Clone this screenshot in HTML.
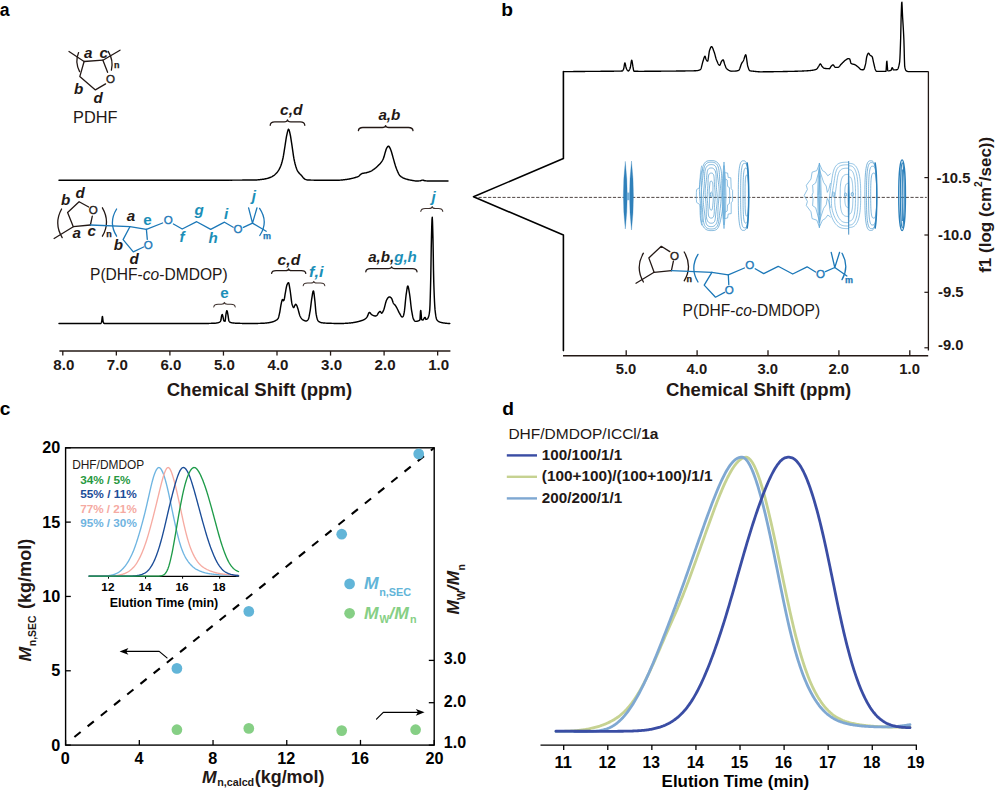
<!DOCTYPE html>
<html lang="en"><head><meta charset="utf-8"><title>Figure</title>
<style>html,body{margin:0;padding:0;background:#fff;}svg{display:block;}text{font-family:'Liberation Sans', Arial, Helvetica, sans-serif;}</style>
</head><body>
<svg width="996" height="812" viewBox="0 0 996 812">
<rect x="0" y="0" width="996" height="812" fill="#ffffff"/>
<g id="panel-a">
<text x="-0.2" y="16" font-size="19.2" font-weight="bold" font-style="normal" fill="#000000" text-anchor="start" textLength="9.8" lengthAdjust="spacingAndGlyphs" >a</text>
<path d="M69 51.5 L84.1 61.5 L102.9 60.2 L120 50.2" fill="none" stroke="#231815" stroke-width="1.3" stroke-linejoin="round" stroke-linecap="round" />
<path d="M102.9 60.2 L107.6 72.3" fill="none" stroke="#231815" stroke-width="1.3" stroke-linejoin="round" stroke-linecap="round" />
<path d="M105.6 83.9 L95.4 89.9 L79.8 76.6 L84.1 61.5" fill="none" stroke="#231815" stroke-width="1.3" stroke-linejoin="round" stroke-linecap="round" />
<text x="110.4" y="82.5" font-size="11.6" font-weight="normal" font-style="normal" fill="#231815" text-anchor="middle" stroke="#231815" stroke-width="0.35">O</text>
<path d="M78.6 52.6 Q74.6 62 79.6 71.6" fill="none" stroke="#231815" stroke-width="1.3" stroke-linejoin="round" stroke-linecap="round" />
<path d="M108.2 51.4 Q113.8 60.5 111.4 70.2" fill="none" stroke="#231815" stroke-width="1.3" stroke-linejoin="round" stroke-linecap="round" />
<text x="114" y="67.6" font-size="9" font-weight="bold" font-style="normal" fill="#231815" text-anchor="start" stroke="#231815" stroke-width="0.25">n</text>
<text x="84" y="57.5" font-size="15.2" font-weight="bold" font-style="italic" fill="#231815" text-anchor="start" >a</text>
<text x="99.6" y="57.5" font-size="15.2" font-weight="bold" font-style="italic" fill="#231815" text-anchor="start" >c</text>
<text x="74" y="94" font-size="15.2" font-weight="bold" font-style="italic" fill="#231815" text-anchor="start" >b</text>
<text x="93.6" y="103" font-size="15.2" font-weight="bold" font-style="italic" fill="#231815" text-anchor="start" >d</text>
<text x="73" y="122.6" font-size="16.2" font-weight="normal" font-style="normal" fill="#231815" text-anchor="start" textLength="44.4" lengthAdjust="spacingAndGlyphs" >PDHF</text>
<path d="M59 180.2 L59.5 180.2 L60 180.2 L60.5 180.2 L61 180.2 L61.5 180.2 L62 180.2 L62.5 180.2 L63 180.2 L63.5 180.2 L64 180.2 L64.5 180.2 L65 180.2 L65.5 180.2 L66 180.2 L66.5 180.2 L67 180.2 L67.5 180.2 L68 180.2 L68.5 180.2 L69 180.2 L69.5 180.2 L70 180.2 L70.5 180.2 L71 180.2 L71.5 180.2 L72 180.2 L72.5 180.2 L73 180.2 L73.5 180.2 L74 180.2 L74.5 180.2 L75 180.2 L75.5 180.2 L76 180.2 L76.5 180.2 L77 180.2 L77.5 180.2 L78 180.2 L78.5 180.2 L79 180.2 L79.5 180.2 L80 180.2 L80.5 180.2 L81 180.2 L81.5 180.2 L82 180.2 L82.5 180.2 L83 180.2 L83.5 180.2 L84 180.2 L84.5 180.2 L85 180.2 L85.5 180.2 L86 180.2 L86.5 180.2 L87 180.2 L87.5 180.2 L88 180.2 L88.5 180.2 L89 180.2 L89.5 180.2 L90 180.2 L90.5 180.2 L91 180.2 L91.5 180.2 L92 180.2 L92.5 180.2 L93 180.2 L93.5 180.2 L94 180.2 L94.5 180.2 L95 180.2 L95.5 180.2 L96 180.2 L96.5 180.2 L97 180.2 L97.5 180.2 L98 180.2 L98.5 180.2 L99 180.2 L99.5 180.2 L100 180.2 L100.5 180.2 L101 180.2 L101.5 180.2 L102 180.2 L102.5 180.2 L103 180.2 L103.5 180.2 L104 180.2 L104.5 180.2 L105 180.2 L105.5 180.2 L106 180.2 L106.5 180.2 L107 180.2 L107.5 180.2 L108 180.2 L108.5 180.2 L109 180.2 L109.5 180.2 L110 180.2 L110.5 180.2 L111 180.2 L111.5 180.2 L112 180.2 L112.5 180.2 L113 180.2 L113.5 180.2 L114 180.2 L114.5 180.2 L115 180.2 L115.5 180.2 L116 180.2 L116.5 180.2 L117 180.2 L117.5 180.2 L118 180.2 L118.5 180.2 L119 180.2 L119.5 180.2 L120 180.2 L120.5 180.2 L121 180.2 L121.5 180.2 L122 180.2 L122.5 180.2 L123 180.2 L123.5 180.2 L124 180.2 L124.5 180.2 L125 180.2 L125.5 180.2 L126 180.2 L126.5 180.2 L127 180.2 L127.5 180.2 L128 180.2 L128.5 180.2 L129 180.2 L129.5 180.2 L130 180.2 L130.5 180.2 L131 180.2 L131.5 180.2 L132 180.2 L132.5 180.2 L133 180.2 L133.5 180.2 L134 180.2 L134.5 180.2 L135 180.2 L135.5 180.2 L136 180.2 L136.5 180.2 L137 180.2 L137.5 180.2 L138 180.2 L138.5 180.2 L139 180.2 L139.5 180.2 L140 180.2 L140.5 180.2 L141 180.2 L141.5 180.2 L142 180.2 L142.5 180.2 L143 180.2 L143.5 180.2 L144 180.2 L144.5 180.2 L145 180.2 L145.5 180.2 L146 180.2 L146.5 180.2 L147 180.2 L147.5 180.2 L148 180.2 L148.5 180.2 L149 180.2 L149.5 180.2 L150 180.2 L150.5 180.2 L151 180.2 L151.5 180.2 L152 180.2 L152.5 180.2 L153 180.2 L153.5 180.2 L154 180.2 L154.5 180.2 L155 180.2 L155.5 180.2 L156 180.2 L156.5 180.2 L157 180.2 L157.5 180.2 L158 180.2 L158.5 180.2 L159 180.2 L159.5 180.2 L160 180.2 L160.5 180.2 L161 180.2 L161.5 180.2 L162 180.2 L162.5 180.2 L163 180.2 L163.5 180.2 L164 180.2 L164.5 180.2 L165 180.2 L165.5 180.2 L166 180.2 L166.5 180.2 L167 180.2 L167.5 180.2 L168 180.2 L168.5 180.2 L169 180.2 L169.5 180.2 L170 180.2 L170.5 180.2 L171 180.2 L171.5 180.2 L172 180.2 L172.5 180.2 L173 180.2 L173.5 180.2 L174 180.2 L174.5 180.2 L175 180.2 L175.5 180.2 L176 180.2 L176.5 180.2 L177 180.2 L177.5 180.2 L178 180.2 L178.5 180.2 L179 180.2 L179.5 180.2 L180 180.2 L180.5 180.2 L181 180.2 L181.5 180.2 L182 180.2 L182.5 180.2 L183 180.2 L183.5 180.2 L184 180.2 L184.5 180.2 L185 180.2 L185.5 180.2 L186 180.2 L186.5 180.2 L187 180.2 L187.5 180.2 L188 180.2 L188.5 180.2 L189 180.2 L189.5 180.2 L190 180.2 L190.5 180.2 L191 180.2 L191.5 180.2 L192 180.2 L192.5 180.2 L193 180.2 L193.5 180.2 L194 180.2 L194.5 180.2 L195 180.2 L195.5 180.2 L196 180.2 L196.5 180.2 L197 180.2 L197.5 180.2 L198 180.2 L198.5 180.2 L199 180.2 L199.5 180.2 L200 180.2 L200.5 180.2 L201 180.2 L201.5 180.2 L202 180.2 L202.5 180.2 L203 180.2 L203.5 180.2 L204 180.2 L204.5 180.2 L205 180.2 L205.5 180.2 L206 180.2 L206.5 180.2 L207 180.2 L207.5 180.2 L208 180.2 L208.5 180.2 L209 180.2 L209.5 180.2 L210 180.2 L210.5 180.2 L211 180.2 L211.5 180.19 L212 180.19 L212.5 180.19 L213 180.19 L213.5 180.19 L214 180.19 L214.5 180.19 L215 180.19 L215.5 180.19 L216 180.19 L216.5 180.19 L217 180.19 L217.5 180.19 L218 180.19 L218.5 180.19 L219 180.18 L219.5 180.18 L220 180.18 L220.5 180.18 L221 180.18 L221.5 180.18 L222 180.18 L222.5 180.18 L223 180.18 L223.5 180.17 L224 180.17 L224.5 180.17 L225 180.17 L225.5 180.17 L226 180.17 L226.5 180.17 L227 180.16 L227.5 180.16 L228 180.16 L228.5 180.16 L229 180.16 L229.5 180.16 L230 180.15 L230.5 180.15 L231 180.15 L231.5 180.15 L232 180.15 L232.5 180.14 L233 180.14 L233.5 180.14 L234 180.14 L234.5 180.14 L235 180.13 L235.5 180.13 L236 180.13 L236.5 180.13 L237 180.12 L237.5 180.12 L238 180.12 L238.5 180.12 L239 180.11 L239.5 180.11 L240 180.11 L240.5 180.11 L241 180.1 L241.5 180.1 L242 180.1 L242.5 180.09 L243 180.09 L243.5 180.09 L244 180.09 L244.5 180.08 L245 180.08 L245.5 180.08 L246 180.07 L246.5 180.07 L247 180.06 L247.5 180.06 L248 180.06 L248.5 180.05 L249 180.05 L249.5 180.05 L250 180.04 L250.5 180.04 L251 180.03 L251.5 180.03 L252 180.03 L252.5 180.02 L253 180.02 L253.5 180.01 L254 180.01 L254.5 180 L255 180 L255.5 179.99 L256 179.97 L256.5 179.95 L257 179.92 L257.5 179.89 L258 179.84 L258.5 179.8 L259 179.75 L259.5 179.69 L260 179.64 L260.5 179.58 L261 179.52 L261.5 179.46 L262 179.4 L262.5 179.34 L263 179.27 L263.5 179.19 L264 179.1 L264.5 179.01 L265 178.92 L265.5 178.81 L266 178.7 L266.5 178.59 L267 178.47 L267.5 178.34 L268 178.2 L268.5 178.05 L269 177.89 L269.5 177.7 L270 177.5 L270.5 177.29 L271 177.06 L271.5 176.82 L272 176.56 L272.5 176.28 L273 176 L273.5 175.69 L274 175.34 L274.5 174.95 L275 174.53 L275.5 174.08 L276 173.6 L276.5 173.08 L277 172.49 L277.5 171.85 L278 171.15 L278.5 170.39 L279 169.56 L279.5 168.65 L280 167.64 L280.5 166.5 L281 165.19 L281.5 163.69 L282 161.99 L282.5 160.09 L283 158 L283.5 155.47 L284 152.44 L284.5 149.19 L285 146 L285.5 142.71 L286 139.35 L286.5 136.47 L287 134.15 L287.5 131.9 L288 130.11 L288.5 129.23 L289 129.69 L289.5 131.36 L290 133.62 L290.5 135.98 L291 139.02 L291.5 142.36 L292 145.64 L292.5 149.15 L293 152.69 L293.5 156.04 L294 158.98 L294.5 161.39 L295 163.51 L295.5 165.37 L296 167 L296.5 168.46 L297 169.75 L297.5 170.82 L298 171.64 L298.5 172.33 L299 172.92 L299.5 173.49 L300 174.02 L300.5 174.51 L301 174.98 L301.5 175.51 L302 176.13 L302.5 176.78 L303 177.39 L303.5 177.91 L304 178.41 L304.5 178.86 L305 179.21 L305.5 179.42 L306 179.6 L306.5 179.75 L307 179.87 L307.5 179.96 L308 180 L308.5 180.02 L309 180.04 L309.5 180.05 L310 180.07 L310.5 180.08 L311 180.1 L311.5 180.11 L312 180.12 L312.5 180.13 L313 180.14 L313.5 180.15 L314 180.16 L314.5 180.16 L315 180.17 L315.5 180.18 L316 180.18 L316.5 180.19 L317 180.19 L317.5 180.19 L318 180.2 L318.5 180.2 L319 180.2 L319.5 180.2 L320 180.2 L320.5 180.2 L321 180.2 L321.5 180.2 L322 180.2 L322.5 180.2 L323 180.2 L323.5 180.2 L324 180.2 L324.5 180.2 L325 180.2 L325.5 180.2 L326 180.2 L326.5 180.2 L327 180.2 L327.5 180.2 L328 180.2 L328.5 180.2 L329 180.2 L329.5 180.2 L330 180.2 L330.5 180.2 L331 180.2 L331.5 180.2 L332 180.2 L332.5 180.2 L333 180.2 L333.5 180.2 L334 180.2 L334.5 180.2 L335 180.2 L335.5 180.2 L336 180.2 L336.5 180.2 L337 180.2 L337.5 180.2 L338 180.2 L338.5 180.2 L339 180.18 L339.5 180.16 L340 180.14 L340.5 180.1 L341 180.06 L341.5 180.02 L342 179.97 L342.5 179.92 L343 179.86 L343.5 179.8 L344 179.74 L344.5 179.68 L345 179.62 L345.5 179.56 L346 179.5 L346.5 179.44 L347 179.37 L347.5 179.29 L348 179.21 L348.5 179.12 L349 179.03 L349.5 178.93 L350 178.83 L350.5 178.73 L351 178.62 L351.5 178.51 L352 178.4 L352.5 178.29 L353 178.16 L353.5 178.04 L354 177.9 L354.5 177.76 L355 177.61 L355.5 177.46 L356 177.3 L356.5 177.14 L357 176.98 L357.5 176.8 L358 176.6 L358.5 176.35 L359 176 L359.5 175.49 L360 174.95 L360.5 174.53 L361 174.16 L361.5 173.82 L362 173.55 L362.5 173.37 L363 173.26 L363.5 173.17 L364 173.1 L364.5 173.04 L365 172.97 L365.5 172.9 L366 172.8 L366.5 172.68 L367 172.55 L367.5 172.41 L368 172.25 L368.5 172.09 L369 171.91 L369.5 171.72 L370 171.51 L370.5 171.3 L371 171.07 L371.5 170.8 L372 170.51 L372.5 170.2 L373 169.86 L373.5 169.52 L374 169.16 L374.5 168.8 L375 168.42 L375.5 168.03 L376 167.62 L376.5 167.18 L377 166.73 L377.5 166.27 L378 165.79 L378.5 165.3 L379 164.8 L379.5 164.29 L380 163.75 L380.5 163.17 L381 162.54 L381.5 161.86 L382 161.11 L382.5 160.28 L383 159.33 L383.5 158.24 L384 156.84 L384.5 155.04 L385 153.18 L385.5 151.47 L386 149.73 L386.5 148.38 L387 147.57 L387.5 146.88 L388 146.39 L388.5 146.2 L389 146.49 L389.5 147.21 L390 148.13 L390.5 149.15 L391 150.53 L391.5 152.09 L392 153.71 L392.5 155.49 L393 157.34 L393.5 159.15 L394 160.91 L394.5 162.68 L395 164.4 L395.5 166 L396 167.45 L396.5 168.82 L397 170.1 L397.5 171.28 L398 172.39 L398.5 173.47 L399 174.43 L399.5 175.18 L400 175.72 L400.5 176.18 L401 176.58 L401.5 176.94 L402 177.25 L402.5 177.54 L403 177.8 L403.5 178.05 L404 178.27 L404.5 178.48 L405 178.67 L405.5 178.85 L406 179.02 L406.5 179.17 L407 179.31 L407.5 179.45 L408 179.57 L408.5 179.69 L409 179.81 L409.5 179.91 L410 180.01 L410.5 180.11 L411 180.2 L411.5 180.29 L412 180.38 L412.5 180.48 L413 180.57 L413.5 180.66 L414 180.75 L414.5 180.83 L415 180.89 L415.5 180.94 L416 180.98 L416.5 181 L417 181 L417.5 180.99 L418 180.96 L418.5 180.93 L419 180.89 L419.5 180.85 L420 180.8 L420.5 180.7 L421 180.54 L421.5 180.36 L422 180.2 L422.5 180.11 L423 180.13 L423.5 180.28 L424 180.49 L424.5 180.69 L425 180.8 L425.5 180.84 L426 180.87 L426.5 180.9 L427 180.93 L427.5 180.95 L428 180.97 L428.5 180.98 L429 180.99 L429.5 181 L430 181 L430.5 181 L431 181 L431.5 181 L432 181 L432.5 181 L433 181 L433.5 181 L434 181 L434.5 181 L435 181 L435.5 181 L436 181 L436.5 181 L437 181 L437.5 181 L438 181 L438.5 181 L439 181 L439.5 181 L440 181 L440.5 181 L441 181 L441.5 181 L442 181 L442.5 181 L443 181 L443.5 181 L444 181 L444.5 181 L445 181 L445.5 181 L446 181 L446.5 181 L447 181 L447.5 181 L448 181" fill="none" stroke="#000000" stroke-width="1.45" stroke-linejoin="round" stroke-linecap="round" />
<text x="280" y="115.1" font-size="15.2" font-weight="bold" font-style="italic" fill="#231815" text-anchor="start" textLength="22.6" lengthAdjust="spacingAndGlyphs" >c,d</text>
<path d="M270.2 125.3 C270.4 122.69 272.22 121.89 274.7 121.89 L284.3 121.89 C286.38 121.89 287.35 121.39 287.5 119.8 C287.65 121.39 288.62 121.89 290.7 121.89 L300.3 121.89 C302.78 121.89 304.6 122.69 304.8 125.3" fill="none" stroke="#231815" stroke-width="1.3" stroke-linejoin="round" stroke-linecap="round" />
<text x="378.4" y="119.6" font-size="15.2" font-weight="bold" font-style="italic" fill="#231815" text-anchor="start" textLength="22" lengthAdjust="spacingAndGlyphs" >a,b</text>
<path d="M358.4 130.6 C358.6 128.3 360.42 127.5 362.9 127.5 L382.4 127.5 C384.48 127.5 385.45 127 385.6 125.6 C385.75 127 386.72 127.5 388.8 127.5 L408.5 127.5 C410.98 127.5 412.8 128.3 413 130.6" fill="none" stroke="#231815" stroke-width="1.3" stroke-linejoin="round" stroke-linecap="round" />
<path d="M54.1 238.5 L73.3 226.7 L90.4 225" fill="none" stroke="#231815" stroke-width="1.3" stroke-linejoin="round" stroke-linecap="round" />
<path d="M90.4 225 L92.3 216.2" fill="none" stroke="#231815" stroke-width="1.3" stroke-linejoin="round" stroke-linecap="round" />
<path d="M88.7 207 L79.1 201.7 L67.6 212.5 L73.3 226.7" fill="none" stroke="#231815" stroke-width="1.3" stroke-linejoin="round" stroke-linecap="round" />
<text x="93.3" y="213.8" font-size="11.6" font-weight="normal" font-style="normal" fill="#231815" text-anchor="middle" stroke="#231815" stroke-width="0.35">O</text>
<path d="M61.6 209 Q53.6 223.4 62.2 237.6" fill="none" stroke="#231815" stroke-width="1.3" stroke-linejoin="round" stroke-linecap="round" />
<path d="M102.4 207.8 Q110.6 222 102.4 236.2" fill="none" stroke="#231815" stroke-width="1.3" stroke-linejoin="round" stroke-linecap="round" />
<text x="106.2" y="237" font-size="9" font-weight="bold" font-style="normal" fill="#231815" text-anchor="start" stroke="#231815" stroke-width="0.25">n</text>
<text x="61" y="205" font-size="15.2" font-weight="bold" font-style="italic" fill="#231815" text-anchor="start" >b</text>
<text x="75.4" y="197.6" font-size="15.2" font-weight="bold" font-style="italic" fill="#231815" text-anchor="start" >d</text>
<text x="72.6" y="238.2" font-size="15.2" font-weight="bold" font-style="italic" fill="#231815" text-anchor="start" >a</text>
<text x="87.6" y="235.5" font-size="15.2" font-weight="bold" font-style="italic" fill="#231815" text-anchor="start" >c</text>
<path d="M90.4 225 L129.9 226.7 L146.4 229.4" fill="none" stroke="#1c78b8" stroke-width="1.3" stroke-linejoin="round" stroke-linecap="round" />
<path d="M146.4 229.4 L147.3 239.4" fill="none" stroke="#1c78b8" stroke-width="1.3" stroke-linejoin="round" stroke-linecap="round" />
<path d="M143.6 247 L133.3 251.8 L123.1 239.6 L129.9 226.7" fill="none" stroke="#1c78b8" stroke-width="1.3" stroke-linejoin="round" stroke-linecap="round" />
<text x="148.2" y="248.9" font-size="11.6" font-weight="normal" font-style="normal" fill="#1c78b8" text-anchor="middle" stroke="#1c78b8" stroke-width="0.35">O</text>
<path d="M116.6 209 Q108.2 222.6 116.6 236.2" fill="none" stroke="#1c78b8" stroke-width="1.3" stroke-linejoin="round" stroke-linecap="round" />
<path d="M146.4 229.4 L162.6 223" fill="none" stroke="#1c78b8" stroke-width="1.3" stroke-linejoin="round" stroke-linecap="round" />
<text x="168.3" y="224" font-size="11.6" font-weight="normal" font-style="normal" fill="#1c78b8" text-anchor="middle" stroke="#1c78b8" stroke-width="0.35">O</text>
<path d="M173.4 224 L182.2 229 L196.7 221.7 L210.7 229.4 L224.5 222.2 L233.2 227.2" fill="none" stroke="#1c78b8" stroke-width="1.3" stroke-linejoin="round" stroke-linecap="round" />
<text x="238" y="233" font-size="11.6" font-weight="normal" font-style="normal" fill="#1c78b8" text-anchor="middle" stroke="#1c78b8" stroke-width="0.35">O</text>
<path d="M243.4 227.4 L252.5 223.1 L266.2 231.2" fill="none" stroke="#1c78b8" stroke-width="1.3" stroke-linejoin="round" stroke-linecap="round" />
<path d="M248.6 207.8 L252.5 223.1 L257 207.8" fill="none" stroke="#1c78b8" stroke-width="1.3" stroke-linejoin="round" stroke-linecap="round" />
<path d="M259.6 208.4 Q268.8 222 259.8 235.5" fill="none" stroke="#1c78b8" stroke-width="1.3" stroke-linejoin="round" stroke-linecap="round" />
<text x="263" y="238.6" font-size="9" font-weight="bold" font-style="normal" fill="#1c78b8" text-anchor="start" stroke="#1c78b8" stroke-width="0.25">m</text>
<text x="126.8" y="220.6" font-size="15.2" font-weight="bold" font-style="italic" fill="#231815" text-anchor="start" >a</text>
<text x="143.2" y="225.4" font-size="15.2" font-weight="bold" font-style="normal" fill="#1b8fb8" text-anchor="start" >e</text>
<text x="113.8" y="249.7" font-size="15.2" font-weight="bold" font-style="italic" fill="#231815" text-anchor="start" >b</text>
<text x="129.4" y="264" font-size="15.2" font-weight="bold" font-style="italic" fill="#231815" text-anchor="start" >d</text>
<text x="194.4" y="215" font-size="15.2" font-weight="bold" font-style="italic" fill="#1b8fb8" text-anchor="start" >g</text>
<text x="224" y="218.6" font-size="15.2" font-weight="bold" font-style="italic" fill="#1b8fb8" text-anchor="start" >i</text>
<text x="179.6" y="242.3" font-size="15.2" font-weight="bold" font-style="italic" fill="#1b8fb8" text-anchor="start" >f</text>
<text x="208.4" y="243" font-size="15.2" font-weight="bold" font-style="italic" fill="#1b8fb8" text-anchor="start" >h</text>
<text x="251.8" y="200.8" font-size="15.2" font-weight="bold" font-style="italic" fill="#1b8fb8" text-anchor="start" >j</text>
<text x="90" y="279.6" font-size="15.6" fill="#231815" textLength="137.6" lengthAdjust="spacingAndGlyphs">P(DHF-<tspan font-style="italic">co</tspan>-DMDOP)</text>
<path d="M59 323.5 L59.25 323.5 L59.5 323.5 L59.75 323.5 L60 323.5 L60.25 323.5 L60.5 323.5 L60.75 323.5 L61 323.5 L61.25 323.5 L61.5 323.5 L61.75 323.5 L62 323.5 L62.25 323.5 L62.5 323.5 L62.75 323.5 L63 323.5 L63.25 323.5 L63.5 323.5 L63.75 323.5 L64 323.5 L64.25 323.5 L64.5 323.5 L64.75 323.5 L65 323.5 L65.25 323.5 L65.5 323.5 L65.75 323.5 L66 323.5 L66.25 323.5 L66.5 323.5 L66.75 323.5 L67 323.5 L67.25 323.5 L67.5 323.5 L67.75 323.5 L68 323.5 L68.25 323.5 L68.5 323.5 L68.75 323.5 L69 323.5 L69.25 323.5 L69.5 323.5 L69.75 323.5 L70 323.5 L70.25 323.5 L70.5 323.5 L70.75 323.5 L71 323.5 L71.25 323.5 L71.5 323.5 L71.75 323.5 L72 323.5 L72.25 323.5 L72.5 323.5 L72.75 323.5 L73 323.5 L73.25 323.5 L73.5 323.5 L73.75 323.5 L74 323.5 L74.25 323.5 L74.5 323.5 L74.75 323.5 L75 323.5 L75.25 323.5 L75.5 323.5 L75.75 323.5 L76 323.5 L76.25 323.5 L76.5 323.5 L76.75 323.5 L77 323.5 L77.25 323.5 L77.5 323.5 L77.75 323.5 L78 323.5 L78.25 323.5 L78.5 323.5 L78.75 323.5 L79 323.5 L79.25 323.5 L79.5 323.5 L79.75 323.5 L80 323.5 L80.25 323.5 L80.5 323.5 L80.75 323.5 L81 323.5 L81.25 323.5 L81.5 323.5 L81.75 323.5 L82 323.5 L82.25 323.5 L82.5 323.5 L82.75 323.5 L83 323.5 L83.25 323.5 L83.5 323.5 L83.75 323.5 L84 323.5 L84.25 323.5 L84.5 323.5 L84.75 323.5 L85 323.5 L85.25 323.5 L85.5 323.5 L85.75 323.5 L86 323.5 L86.25 323.5 L86.5 323.5 L86.75 323.5 L87 323.5 L87.25 323.5 L87.5 323.5 L87.75 323.5 L88 323.5 L88.25 323.5 L88.5 323.5 L88.75 323.5 L89 323.5 L89.25 323.5 L89.5 323.5 L89.75 323.5 L90 323.5 L90.25 323.5 L90.5 323.5 L90.75 323.5 L91 323.5 L91.25 323.5 L91.5 323.5 L91.75 323.5 L92 323.5 L92.25 323.5 L92.5 323.5 L92.75 323.5 L93 323.5 L93.25 323.5 L93.5 323.5 L93.75 323.5 L94 323.5 L94.25 323.5 L94.5 323.5 L94.75 323.5 L95 323.5 L95.25 323.5 L95.5 323.5 L95.75 323.5 L96 323.5 L96.25 323.5 L96.5 323.5 L96.75 323.5 L97 323.5 L97.25 323.5 L97.5 323.5 L97.75 323.5 L98 323.5 L98.25 323.5 L98.5 323.5 L98.75 323.5 L99 323.5 L99.25 323.5 L99.5 323.5 L99.75 323.5 L100 323.5 L100.25 323.5 L100.5 323.5 L100.75 323.46 L101 323.22 L101.25 322.8 L101.5 322.25 L101.75 321.23 L102 318.95 L102.25 316.86 L102.5 316.61 L102.75 318.46 L103 320.84 L103.25 322.13 L103.5 322.7 L103.75 323.14 L104 323.42 L104.25 323.5 L104.5 323.5 L104.75 323.5 L105 323.5 L105.25 323.5 L105.5 323.5 L105.75 323.5 L106 323.5 L106.25 323.5 L106.5 323.5 L106.75 323.5 L107 323.5 L107.25 323.5 L107.5 323.5 L107.75 323.5 L108 323.5 L108.25 323.5 L108.5 323.5 L108.75 323.5 L109 323.5 L109.25 323.5 L109.5 323.5 L109.75 323.5 L110 323.5 L110.25 323.5 L110.5 323.5 L110.75 323.5 L111 323.5 L111.25 323.5 L111.5 323.5 L111.75 323.5 L112 323.5 L112.25 323.5 L112.5 323.5 L112.75 323.5 L113 323.5 L113.25 323.5 L113.5 323.5 L113.75 323.5 L114 323.5 L114.25 323.5 L114.5 323.5 L114.75 323.5 L115 323.5 L115.25 323.5 L115.5 323.5 L115.75 323.5 L116 323.5 L116.25 323.5 L116.5 323.5 L116.75 323.5 L117 323.5 L117.25 323.5 L117.5 323.5 L117.75 323.5 L118 323.5 L118.25 323.5 L118.5 323.5 L118.75 323.5 L119 323.5 L119.25 323.5 L119.5 323.5 L119.75 323.5 L120 323.5 L120.25 323.5 L120.5 323.5 L120.75 323.5 L121 323.5 L121.25 323.5 L121.5 323.5 L121.75 323.5 L122 323.5 L122.25 323.5 L122.5 323.5 L122.75 323.5 L123 323.5 L123.25 323.5 L123.5 323.5 L123.75 323.5 L124 323.5 L124.25 323.5 L124.5 323.5 L124.75 323.5 L125 323.5 L125.25 323.5 L125.5 323.5 L125.75 323.5 L126 323.5 L126.25 323.5 L126.5 323.5 L126.75 323.5 L127 323.5 L127.25 323.5 L127.5 323.5 L127.75 323.5 L128 323.5 L128.25 323.5 L128.5 323.5 L128.75 323.5 L129 323.5 L129.25 323.5 L129.5 323.5 L129.75 323.5 L130 323.5 L130.25 323.5 L130.5 323.5 L130.75 323.5 L131 323.5 L131.25 323.5 L131.5 323.5 L131.75 323.5 L132 323.5 L132.25 323.5 L132.5 323.5 L132.75 323.5 L133 323.5 L133.25 323.5 L133.5 323.5 L133.75 323.5 L134 323.5 L134.25 323.5 L134.5 323.5 L134.75 323.5 L135 323.5 L135.25 323.5 L135.5 323.5 L135.75 323.5 L136 323.5 L136.25 323.5 L136.5 323.5 L136.75 323.5 L137 323.5 L137.25 323.5 L137.5 323.5 L137.75 323.5 L138 323.5 L138.25 323.5 L138.5 323.5 L138.75 323.5 L139 323.5 L139.25 323.5 L139.5 323.5 L139.75 323.5 L140 323.5 L140.25 323.5 L140.5 323.5 L140.75 323.5 L141 323.5 L141.25 323.5 L141.5 323.5 L141.75 323.5 L142 323.5 L142.25 323.5 L142.5 323.5 L142.75 323.5 L143 323.5 L143.25 323.5 L143.5 323.5 L143.75 323.5 L144 323.5 L144.25 323.5 L144.5 323.5 L144.75 323.5 L145 323.5 L145.25 323.5 L145.5 323.5 L145.75 323.5 L146 323.5 L146.25 323.5 L146.5 323.5 L146.75 323.5 L147 323.5 L147.25 323.5 L147.5 323.5 L147.75 323.5 L148 323.5 L148.25 323.5 L148.5 323.5 L148.75 323.5 L149 323.5 L149.25 323.5 L149.5 323.5 L149.75 323.5 L150 323.5 L150.25 323.5 L150.5 323.5 L150.75 323.5 L151 323.5 L151.25 323.5 L151.5 323.5 L151.75 323.5 L152 323.5 L152.25 323.5 L152.5 323.5 L152.75 323.5 L153 323.5 L153.25 323.5 L153.5 323.5 L153.75 323.5 L154 323.5 L154.25 323.5 L154.5 323.5 L154.75 323.5 L155 323.5 L155.25 323.5 L155.5 323.5 L155.75 323.5 L156 323.5 L156.25 323.5 L156.5 323.5 L156.75 323.5 L157 323.5 L157.25 323.5 L157.5 323.5 L157.75 323.5 L158 323.5 L158.25 323.5 L158.5 323.5 L158.75 323.5 L159 323.5 L159.25 323.5 L159.5 323.5 L159.75 323.5 L160 323.5 L160.25 323.5 L160.5 323.5 L160.75 323.5 L161 323.5 L161.25 323.5 L161.5 323.5 L161.75 323.5 L162 323.5 L162.25 323.5 L162.5 323.5 L162.75 323.5 L163 323.5 L163.25 323.5 L163.5 323.5 L163.75 323.5 L164 323.5 L164.25 323.5 L164.5 323.5 L164.75 323.5 L165 323.5 L165.25 323.5 L165.5 323.5 L165.75 323.5 L166 323.5 L166.25 323.5 L166.5 323.5 L166.75 323.5 L167 323.5 L167.25 323.5 L167.5 323.5 L167.75 323.5 L168 323.5 L168.25 323.5 L168.5 323.5 L168.75 323.5 L169 323.5 L169.25 323.5 L169.5 323.5 L169.75 323.5 L170 323.5 L170.25 323.5 L170.5 323.5 L170.75 323.5 L171 323.5 L171.25 323.5 L171.5 323.5 L171.75 323.5 L172 323.5 L172.25 323.5 L172.5 323.5 L172.75 323.5 L173 323.5 L173.25 323.5 L173.5 323.5 L173.75 323.5 L174 323.5 L174.25 323.5 L174.5 323.5 L174.75 323.5 L175 323.5 L175.25 323.5 L175.5 323.5 L175.75 323.5 L176 323.5 L176.25 323.5 L176.5 323.5 L176.75 323.5 L177 323.5 L177.25 323.5 L177.5 323.5 L177.75 323.5 L178 323.5 L178.25 323.5 L178.5 323.5 L178.75 323.5 L179 323.5 L179.25 323.5 L179.5 323.5 L179.75 323.5 L180 323.5 L180.25 323.5 L180.5 323.5 L180.75 323.5 L181 323.5 L181.25 323.5 L181.5 323.5 L181.75 323.5 L182 323.5 L182.25 323.5 L182.5 323.5 L182.75 323.5 L183 323.5 L183.25 323.5 L183.5 323.5 L183.75 323.5 L184 323.5 L184.25 323.5 L184.5 323.5 L184.75 323.5 L185 323.5 L185.25 323.5 L185.5 323.5 L185.75 323.5 L186 323.5 L186.25 323.5 L186.5 323.5 L186.75 323.5 L187 323.5 L187.25 323.5 L187.5 323.5 L187.75 323.5 L188 323.5 L188.25 323.5 L188.5 323.5 L188.75 323.5 L189 323.5 L189.25 323.5 L189.5 323.5 L189.75 323.5 L190 323.5 L190.25 323.5 L190.5 323.5 L190.75 323.5 L191 323.5 L191.25 323.5 L191.5 323.5 L191.75 323.5 L192 323.5 L192.25 323.5 L192.5 323.5 L192.75 323.5 L193 323.5 L193.25 323.5 L193.5 323.5 L193.75 323.5 L194 323.5 L194.25 323.5 L194.5 323.5 L194.75 323.5 L195 323.5 L195.25 323.5 L195.5 323.5 L195.75 323.5 L196 323.5 L196.25 323.5 L196.5 323.5 L196.75 323.5 L197 323.5 L197.25 323.5 L197.5 323.5 L197.75 323.5 L198 323.5 L198.25 323.5 L198.5 323.5 L198.75 323.5 L199 323.5 L199.25 323.5 L199.5 323.5 L199.75 323.5 L200 323.5 L200.25 323.5 L200.5 323.5 L200.75 323.5 L201 323.5 L201.25 323.5 L201.5 323.5 L201.75 323.5 L202 323.5 L202.25 323.49 L202.5 323.49 L202.75 323.49 L203 323.49 L203.25 323.49 L203.5 323.49 L203.75 323.48 L204 323.48 L204.25 323.48 L204.5 323.48 L204.75 323.47 L205 323.47 L205.25 323.47 L205.5 323.46 L205.75 323.46 L206 323.46 L206.25 323.45 L206.5 323.45 L206.75 323.44 L207 323.44 L207.25 323.44 L207.5 323.43 L207.75 323.43 L208 323.42 L208.25 323.42 L208.5 323.41 L208.75 323.4 L209 323.4 L209.25 323.39 L209.5 323.39 L209.75 323.38 L210 323.37 L210.25 323.37 L210.5 323.36 L210.75 323.35 L211 323.35 L211.25 323.34 L211.5 323.33 L211.75 323.32 L212 323.31 L212.25 323.31 L212.5 323.3 L212.75 323.29 L213 323.28 L213.25 323.27 L213.5 323.26 L213.75 323.25 L214 323.24 L214.25 323.23 L214.5 323.22 L214.75 323.21 L215 323.2 L215.25 323.19 L215.5 323.17 L215.75 323.15 L216 323.12 L216.25 323.09 L216.5 323.05 L216.75 323.01 L217 322.96 L217.25 322.91 L217.5 322.85 L217.75 322.79 L218 322.72 L218.25 322.65 L218.5 322.57 L218.75 322.49 L219 322.4 L219.25 322.29 L219.5 322.15 L219.75 321.97 L220 321.74 L220.25 321.46 L220.5 321.11 L220.75 320.69 L221 319.8 L221.25 318.11 L221.5 316.45 L221.75 315.45 L222 314.66 L222.25 314.42 L222.5 314.98 L222.75 315.94 L223 316.88 L223.25 318.11 L223.5 319.42 L223.75 320.5 L224 321 L224.25 321.08 L224.5 321.15 L224.75 321.19 L225 321.2 L225.25 320.31 L225.5 318.22 L225.75 315.82 L226 314 L226.25 312.72 L226.5 311.53 L226.75 310.75 L227 310.67 L227.25 311.37 L227.5 312.51 L227.75 313.77 L228 315.11 L228.25 316.85 L228.5 318.66 L228.75 320.17 L229 321 L229.25 321.35 L229.5 321.65 L229.75 321.91 L230 322.12 L230.25 322.29 L230.5 322.43 L230.75 322.53 L231 322.6 L231.25 322.66 L231.5 322.71 L231.75 322.76 L232 322.81 L232.25 322.85 L232.5 322.89 L232.75 322.93 L233 322.96 L233.25 322.99 L233.5 323.02 L233.75 323.05 L234 323.07 L234.25 323.09 L234.5 323.11 L234.75 323.13 L235 323.15 L235.25 323.16 L235.5 323.18 L235.75 323.19 L236 323.2 L236.25 323.21 L236.5 323.22 L236.75 323.23 L237 323.24 L237.25 323.25 L237.5 323.26 L237.75 323.27 L238 323.28 L238.25 323.29 L238.5 323.29 L238.75 323.3 L239 323.31 L239.25 323.32 L239.5 323.33 L239.75 323.34 L240 323.34 L240.25 323.35 L240.5 323.36 L240.75 323.36 L241 323.37 L241.25 323.38 L241.5 323.39 L241.75 323.39 L242 323.4 L242.25 323.4 L242.5 323.41 L242.75 323.42 L243 323.42 L243.25 323.43 L243.5 323.43 L243.75 323.44 L244 323.44 L244.25 323.45 L244.5 323.45 L244.75 323.46 L245 323.46 L245.25 323.46 L245.5 323.47 L245.75 323.47 L246 323.47 L246.25 323.48 L246.5 323.48 L246.75 323.48 L247 323.49 L247.25 323.49 L247.5 323.49 L247.75 323.49 L248 323.49 L248.25 323.49 L248.5 323.5 L248.75 323.5 L249 323.5 L249.25 323.5 L249.5 323.5 L249.75 323.5 L250 323.5 L250.25 323.5 L250.5 323.5 L250.75 323.5 L251 323.5 L251.25 323.5 L251.5 323.5 L251.75 323.5 L252 323.49 L252.25 323.49 L252.5 323.49 L252.75 323.49 L253 323.49 L253.25 323.48 L253.5 323.48 L253.75 323.48 L254 323.47 L254.25 323.47 L254.5 323.47 L254.75 323.46 L255 323.46 L255.25 323.46 L255.5 323.45 L255.75 323.45 L256 323.44 L256.25 323.44 L256.5 323.44 L256.75 323.43 L257 323.43 L257.25 323.42 L257.5 323.42 L257.75 323.41 L258 323.41 L258.25 323.4 L258.5 323.39 L258.75 323.39 L259 323.38 L259.25 323.38 L259.5 323.37 L259.75 323.36 L260 323.36 L260.25 323.35 L260.5 323.34 L260.75 323.34 L261 323.33 L261.25 323.32 L261.5 323.31 L261.75 323.31 L262 323.3 L262.25 323.29 L262.5 323.28 L262.75 323.27 L263 323.26 L263.25 323.25 L263.5 323.23 L263.75 323.21 L264 323.2 L264.25 323.18 L264.5 323.16 L264.75 323.14 L265 323.12 L265.25 323.1 L265.5 323.07 L265.75 323.05 L266 323.02 L266.25 323 L266.5 322.97 L266.75 322.94 L267 322.92 L267.25 322.89 L267.5 322.86 L267.75 322.83 L268 322.8 L268.25 322.77 L268.5 322.73 L268.75 322.7 L269 322.66 L269.25 322.62 L269.5 322.57 L269.75 322.52 L270 322.47 L270.25 322.42 L270.5 322.37 L270.75 322.31 L271 322.25 L271.25 322.19 L271.5 322.13 L271.75 322.07 L272 322 L272.25 321.93 L272.5 321.86 L272.75 321.78 L273 321.7 L273.25 321.61 L273.5 321.52 L273.75 321.42 L274 321.32 L274.25 321.22 L274.5 321.1 L274.75 320.99 L275 320.86 L275.25 320.74 L275.5 320.6 L275.75 320.46 L276 320.32 L276.25 320.17 L276.5 320.01 L276.75 319.83 L277 319.63 L277.25 319.41 L277.5 319.15 L277.75 318.87 L278 318.54 L278.25 318.13 L278.5 317.49 L278.75 316.64 L279 315.65 L279.25 314.57 L279.5 313.45 L279.75 312.27 L280 310.85 L280.25 309.27 L280.5 307.65 L280.75 306.11 L281 304.76 L281.25 303.63 L281.5 302.47 L281.75 301.36 L282 300.41 L282.25 299.75 L282.5 299.5 L282.75 299.7 L283 300.15 L283.25 300.6 L283.5 300.8 L283.75 300.58 L284 300.04 L284.25 299.34 L284.5 298.14 L284.75 296.52 L285 294.87 L285.25 293.48 L285.5 292.06 L285.75 290.61 L286 289.18 L286.25 287.84 L286.5 286.63 L286.75 285.61 L287 284.83 L287.25 284.29 L287.5 283.8 L287.75 283.37 L288 283.02 L288.25 282.78 L288.5 282.7 L288.75 283.01 L289 283.86 L289.25 285.09 L289.5 286.58 L289.75 288.17 L290 289.72 L290.25 291.21 L290.5 292.99 L290.75 294.99 L291 297.09 L291.25 299.15 L291.5 301.07 L291.75 302.7 L292 303.94 L292.25 304.77 L292.5 305.52 L292.75 306.21 L293 306.8 L293.25 307.25 L293.5 307.53 L293.75 307.59 L294 307.27 L294.25 306.67 L294.5 306.01 L294.75 305.52 L295 305.09 L295.25 304.68 L295.5 304.38 L295.75 304.3 L296 304.44 L296.25 304.72 L296.5 305.09 L296.75 305.48 L297 306.02 L297.25 306.71 L297.5 307.47 L297.75 308.25 L298 309.03 L298.25 309.9 L298.5 310.83 L298.75 311.79 L299 312.75 L299.25 313.68 L299.5 314.55 L299.75 315.33 L300 315.99 L300.25 316.49 L300.5 316.92 L300.75 317.33 L301 317.72 L301.25 318.09 L301.5 318.43 L301.75 318.74 L302 319.02 L302.25 319.28 L302.5 319.51 L302.75 319.71 L303 319.89 L303.25 320.03 L303.5 320.15 L303.75 320.28 L304 320.4 L304.25 320.51 L304.5 320.62 L304.75 320.71 L305 320.8 L305.25 320.87 L305.5 320.93 L305.75 320.97 L306 320.99 L306.25 321 L306.5 320.95 L306.75 320.85 L307 320.7 L307.25 320.5 L307.5 320.25 L307.75 319.97 L308 319.66 L308.25 319.33 L308.5 318.78 L308.75 317.96 L309 316.93 L309.25 315.73 L309.5 314.4 L309.75 312.99 L310 311.55 L310.25 310.11 L310.5 308.42 L310.75 306.46 L311 304.37 L311.25 302.27 L311.5 300.3 L311.75 298.6 L312 297.09 L312.25 295.51 L312.5 293.97 L312.75 292.6 L313 291.54 L313.25 290.91 L313.5 290.88 L313.75 291.75 L314 293.35 L314.25 295.41 L314.5 297.68 L314.75 299.89 L315 302.15 L315.25 304.91 L315.5 307.87 L315.75 310.7 L316 313.06 L316.25 314.65 L316.5 315.88 L316.75 317.01 L317 318.03 L317.25 318.93 L317.5 319.7 L317.75 320.32 L318 320.77 L318.25 321.04 L318.5 321.25 L318.75 321.44 L319 321.61 L319.25 321.78 L319.5 321.92 L319.75 322.06 L320 322.18 L320.25 322.29 L320.5 322.39 L320.75 322.48 L321 322.56 L321.25 322.63 L321.5 322.68 L321.75 322.73 L322 322.77 L322.25 322.81 L322.5 322.84 L322.75 322.86 L323 322.89 L323.25 322.92 L323.5 322.94 L323.75 322.97 L324 322.99 L324.25 323.01 L324.5 323.03 L324.75 323.05 L325 323.07 L325.25 323.09 L325.5 323.1 L325.75 323.12 L326 323.13 L326.25 323.15 L326.5 323.16 L326.75 323.17 L327 323.19 L327.25 323.2 L327.5 323.21 L327.75 323.22 L328 323.23 L328.25 323.24 L328.5 323.25 L328.75 323.26 L329 323.27 L329.25 323.28 L329.5 323.28 L329.75 323.29 L330 323.3 L330.25 323.31 L330.5 323.32 L330.75 323.32 L331 323.33 L331.25 323.34 L331.5 323.34 L331.75 323.35 L332 323.36 L332.25 323.37 L332.5 323.37 L332.75 323.38 L333 323.39 L333.25 323.39 L333.5 323.4 L333.75 323.41 L334 323.41 L334.25 323.42 L334.5 323.42 L334.75 323.43 L335 323.44 L335.25 323.44 L335.5 323.45 L335.75 323.45 L336 323.46 L336.25 323.46 L336.5 323.47 L336.75 323.47 L337 323.47 L337.25 323.48 L337.5 323.48 L337.75 323.48 L338 323.49 L338.25 323.49 L338.5 323.49 L338.75 323.49 L339 323.5 L339.25 323.5 L339.5 323.5 L339.75 323.5 L340 323.5 L340.25 323.5 L340.5 323.5 L340.75 323.5 L341 323.5 L341.25 323.49 L341.5 323.49 L341.75 323.48 L342 323.48 L342.25 323.47 L342.5 323.47 L342.75 323.46 L343 323.45 L343.25 323.44 L343.5 323.43 L343.75 323.42 L344 323.41 L344.25 323.4 L344.5 323.38 L344.75 323.37 L345 323.36 L345.25 323.34 L345.5 323.33 L345.75 323.31 L346 323.3 L346.25 323.28 L346.5 323.26 L346.75 323.25 L347 323.23 L347.25 323.21 L347.5 323.19 L347.75 323.17 L348 323.16 L348.25 323.14 L348.5 323.12 L348.75 323.1 L349 323.08 L349.25 323.06 L349.5 323.04 L349.75 323.02 L350 323 L350.25 322.98 L350.5 322.96 L350.75 322.93 L351 322.9 L351.25 322.87 L351.5 322.84 L351.75 322.81 L352 322.78 L352.25 322.74 L352.5 322.7 L352.75 322.67 L353 322.63 L353.25 322.59 L353.5 322.54 L353.75 322.5 L354 322.46 L354.25 322.41 L354.5 322.37 L354.75 322.32 L355 322.27 L355.25 322.22 L355.5 322.18 L355.75 322.13 L356 322.08 L356.25 322.03 L356.5 321.98 L356.75 321.93 L357 321.88 L357.25 321.82 L357.5 321.77 L357.75 321.71 L358 321.65 L358.25 321.59 L358.5 321.52 L358.75 321.46 L359 321.39 L359.25 321.32 L359.5 321.25 L359.75 321.18 L360 321.11 L360.25 321.03 L360.5 320.96 L360.75 320.88 L361 320.8 L361.25 320.72 L361.5 320.64 L361.75 320.55 L362 320.47 L362.25 320.38 L362.5 320.29 L362.75 320.19 L363 320.09 L363.25 319.99 L363.5 319.87 L363.75 319.75 L364 319.62 L364.25 319.49 L364.5 319.34 L364.75 319.18 L365 319.01 L365.25 318.82 L365.5 318.61 L365.75 318.39 L366 318.15 L366.25 317.89 L366.5 317.61 L366.75 317.3 L367 316.98 L367.25 316.62 L367.5 316.23 L367.75 315.63 L368 314.92 L368.25 314.19 L368.5 313.58 L368.75 313.15 L369 312.74 L369.25 312.46 L369.5 312.41 L369.75 312.55 L370 312.78 L370.25 313.05 L370.5 313.31 L370.75 313.63 L371 313.98 L371.25 314.27 L371.5 314.47 L371.75 314.63 L372 314.78 L372.25 314.93 L372.5 315.07 L372.75 315.21 L373 315.33 L373.25 315.45 L373.5 315.56 L373.75 315.66 L374 315.74 L374.25 315.82 L374.5 315.88 L374.75 315.93 L375 315.97 L375.25 315.99 L375.5 316 L375.75 315.97 L376 315.88 L376.25 315.75 L376.5 315.59 L376.75 315.4 L377 315.2 L377.25 314.92 L377.5 314.53 L377.75 314.06 L378 313.59 L378.25 313.15 L378.5 312.8 L378.75 312.51 L379 312.21 L379.25 311.93 L379.5 311.68 L379.75 311.5 L380 311.41 L380.25 311.45 L380.5 311.7 L380.75 312.05 L381 312.4 L381.25 312.8 L381.5 313.16 L381.75 313.17 L382 313.01 L382.25 312.73 L382.5 312.36 L382.75 311.91 L383 311.42 L383.25 310.91 L383.5 310.4 L383.75 309.82 L384 309.11 L384.25 308.28 L384.5 307.36 L384.75 306.39 L385 305.39 L385.25 304.38 L385.5 303.4 L385.75 302.48 L386 301.64 L386.25 300.9 L386.5 300.3 L386.75 299.79 L387 299.3 L387.25 298.84 L387.5 298.43 L387.75 298.08 L388 297.78 L388.25 297.56 L388.5 297.37 L388.75 297.19 L389 297.04 L389.25 296.94 L389.5 296.9 L389.75 296.93 L390 297.02 L390.25 297.15 L390.5 297.33 L390.75 297.54 L391 297.77 L391.25 298.03 L391.5 298.3 L391.75 298.68 L392 299.25 L392.25 299.93 L392.5 300.69 L392.75 301.46 L393 302.19 L393.25 302.82 L393.5 303.3 L393.75 303.65 L394 303.94 L394.25 304.19 L394.5 304.44 L394.75 304.7 L395 305 L395.25 305.34 L395.5 305.7 L395.75 306.08 L396 306.47 L396.25 306.88 L396.5 307.3 L396.75 307.74 L397 308.21 L397.25 308.71 L397.5 309.22 L397.75 309.75 L398 310.28 L398.25 310.81 L398.5 311.33 L398.75 311.84 L399 312.33 L399.25 312.8 L399.5 313.24 L399.75 313.65 L400 314.09 L400.25 314.55 L400.5 315.02 L400.75 315.47 L401 315.89 L401.25 316.27 L401.5 316.58 L401.75 316.82 L402 316.96 L402.25 317 L402.5 316.91 L402.75 316.72 L403 316.45 L403.25 316.12 L403.5 315.51 L403.75 314.57 L404 313.41 L404.25 312.13 L404.5 310.44 L404.75 308.28 L405 305.81 L405.25 303.17 L405.5 300.52 L405.75 298 L406 295.77 L406.25 293.97 L406.5 292.24 L406.75 290.49 L407 288.84 L407.25 287.46 L407.5 286.47 L407.75 286.01 L408 286.17 L408.25 286.8 L408.5 287.82 L408.75 289.11 L409 290.59 L409.25 292.16 L409.5 293.71 L409.75 295.25 L410 297.1 L410.25 299.2 L410.5 301.45 L410.75 303.74 L411 305.96 L411.25 308.01 L411.5 309.79 L411.75 311.27 L412 312.71 L412.25 314.11 L412.5 315.43 L412.75 316.64 L413 317.7 L413.25 318.57 L413.5 319.21 L413.75 319.64 L414 320.03 L414.25 320.38 L414.5 320.7 L414.75 320.96 L415 321.17 L415.25 321.32 L415.5 321.39 L415.75 321.4 L416 321.39 L416.25 321.37 L416.5 321.34 L416.75 321.3 L417 321.25 L417.25 321.19 L417.5 321.13 L417.75 321.06 L418 320.98 L418.25 320.9 L418.5 320.8 L418.75 320.7 L419 320.6 L419.25 320.49 L419.5 320.32 L419.75 320.04 L420 319.6 L420.25 314.8 L420.5 311.22 L420.75 310.46 L421 312.11 L421.25 315.04 L421.5 319.01 L421.75 319.69 L422 319.81 L422.25 319.9 L422.5 319.96 L422.75 319.99 L423 320 L423.25 319.84 L423.5 319.46 L423.75 318.95 L424 318.44 L424.25 318.05 L424.5 317.8 L424.75 317.56 L425 317.42 L425.25 317.58 L425.5 318.4 L425.75 319.22 L426 319.4 L426.25 319.36 L426.5 319.3 L426.75 319.21 L427 319.1 L427.25 318.97 L427.5 318.74 L427.75 318.38 L428 317.92 L428.25 317.36 L428.5 316.74 L428.75 315.97 L429 314.98 L429.25 313.7 L429.5 312.04 L429.75 309.87 L430 305.1 L430.25 297.53 L430.5 288.21 L430.75 278 L431 263.25 L431.25 247.28 L431.5 236.08 L431.75 226.48 L432 219.32 L432.25 217.34 L432.5 221.72 L432.75 230.18 L433 240 L433.25 253.72 L433.5 270.25 L433.75 281.64 L434 289.27 L434.25 295.92 L434.5 301.53 L434.75 306.04 L435 309.4 L435.25 311.72 L435.5 313.72 L435.75 315.47 L436 316.94 L436.25 318.11 L436.5 318.96 L436.75 319.48 L437 319.86 L437.25 320.19 L437.5 320.49 L437.75 320.76 L438 321 L438.25 321.21 L438.5 321.39 L438.75 321.55 L439 321.69 L439.25 321.81 L439.5 321.92 L439.75 322.02 L440 322.11 L440.25 322.2 L440.5 322.28 L440.75 322.35 L441 322.42 L441.25 322.49 L441.5 322.55 L441.75 322.61 L442 322.67 L442.25 322.72 L442.5 322.77 L442.75 322.81 L443 322.85 L443.25 322.89 L443.5 322.93 L443.75 322.97 L444 323 L444.25 323.03 L444.5 323.06 L444.75 323.1 L445 323.13 L445.25 323.16 L445.5 323.19 L445.75 323.22 L446 323.25 L446.25 323.27 L446.5 323.3 L446.75 323.33 L447 323.35 L447.25 323.37 L447.5 323.4 L447.75 323.42 L448 323.43 L448.25 323.45 L448.5 323.46 L448.75 323.48 L449 323.49 L449.25 323.49 L449.5 323.5 L449.75 323.5 L449.8 323.5" fill="none" stroke="#000000" stroke-width="1.45" stroke-linejoin="round" stroke-linecap="round" />
<text x="220.2" y="297.5" font-size="15.2" font-weight="bold" font-style="normal" fill="#1b8fb8" text-anchor="start" >e</text>
<path d="M213.8 307 C214 304.95 215.73 304.15 218.08 304.15 L221.34 304.15 C223.33 304.15 224.25 303.65 224.4 302.4 C224.55 303.65 225.47 304.15 227.46 304.15 L230.92 304.15 C233.27 304.15 235 304.95 235.2 307" fill="none" stroke="#3e312d" stroke-width="1.05" stroke-linejoin="round" stroke-linecap="round" />
<text x="277.6" y="264.6" font-size="15.2" font-weight="bold" font-style="italic" fill="#231815" text-anchor="start" textLength="22.6" lengthAdjust="spacingAndGlyphs" >c,d</text>
<path d="M271.6 273.4 C271.8 271.35 273.62 270.55 276.1 270.55 L285.4 270.55 C287.48 270.55 288.45 270.05 288.6 268.8 C288.75 270.05 289.72 270.55 291.8 270.55 L301.3 270.55 C303.78 270.55 305.6 271.35 305.8 273.4" fill="none" stroke="#231815" stroke-width="1.3" stroke-linejoin="round" stroke-linecap="round" />
<text x="309" y="277.2" font-size="15.2" font-weight="bold" font-style="italic" fill="#1b8fb8" text-anchor="start" textLength="14.4" lengthAdjust="spacingAndGlyphs" >f,i</text>
<path d="M303.2 285.8 C303.4 283.87 305.14 283.07 307.52 283.07 L310.71 283.07 C312.72 283.07 313.65 282.57 313.8 281.4 C313.95 282.57 314.88 283.07 316.89 283.07 L320.48 283.07 C322.86 283.07 324.6 283.87 324.8 285.8" fill="none" stroke="#3e312d" stroke-width="1.05" stroke-linejoin="round" stroke-linecap="round" />
<text x="368.2" y="261.8" font-size="15.2" font-weight="bold" font-style="italic" fill="#231815" textLength="48.6" lengthAdjust="spacingAndGlyphs">a,b,<tspan fill="#1b8fb8">g,h</tspan></text>
<path d="M365.8 271.8 C366 269.5 367.82 268.7 370.3 268.7 L388.4 268.7 C390.48 268.7 391.45 268.2 391.6 266.8 C391.75 268.2 392.72 268.7 394.8 268.7 L412.5 268.7 C414.98 268.7 416.8 269.5 417 271.8" fill="none" stroke="#231815" stroke-width="1.3" stroke-linejoin="round" stroke-linecap="round" />
<text x="431.4" y="202.2" font-size="15.2" font-weight="bold" font-style="italic" fill="#1b8fb8" text-anchor="start" >j</text>
<path d="M420.8 211.4 C421 209.22 422.78 208.42 425.2 208.42 L429.06 208.42 C431.1 208.42 432.05 207.92 432.2 206.6 C432.35 207.92 433.3 208.42 435.34 208.42 L438.4 208.42 C440.82 208.42 442.6 209.22 442.8 211.4" fill="none" stroke="#3e312d" stroke-width="1.05" stroke-linejoin="round" stroke-linecap="round" />
<line x1="59.4" y1="351" x2="450.4" y2="351" stroke="#231815" stroke-width="1.4" stroke-linecap="butt"/>
<line x1="62.8" y1="351" x2="62.8" y2="355.6" stroke="#231815" stroke-width="1.3" stroke-linecap="butt"/>
<text x="63.8" y="370.4" font-size="15.2" font-weight="bold" font-style="normal" fill="#231815" text-anchor="middle" textLength="21" lengthAdjust="spacingAndGlyphs" >8.0</text>
<line x1="116.35" y1="351" x2="116.35" y2="355.6" stroke="#231815" stroke-width="1.3" stroke-linecap="butt"/>
<text x="117.35" y="370.4" font-size="15.2" font-weight="bold" font-style="normal" fill="#231815" text-anchor="middle" textLength="21" lengthAdjust="spacingAndGlyphs" >7.0</text>
<line x1="169.9" y1="351" x2="169.9" y2="355.6" stroke="#231815" stroke-width="1.3" stroke-linecap="butt"/>
<text x="170.9" y="370.4" font-size="15.2" font-weight="bold" font-style="normal" fill="#231815" text-anchor="middle" textLength="21" lengthAdjust="spacingAndGlyphs" >6.0</text>
<line x1="223.45" y1="351" x2="223.45" y2="355.6" stroke="#231815" stroke-width="1.3" stroke-linecap="butt"/>
<text x="224.45" y="370.4" font-size="15.2" font-weight="bold" font-style="normal" fill="#231815" text-anchor="middle" textLength="21" lengthAdjust="spacingAndGlyphs" >5.0</text>
<line x1="277" y1="351" x2="277" y2="355.6" stroke="#231815" stroke-width="1.3" stroke-linecap="butt"/>
<text x="278" y="370.4" font-size="15.2" font-weight="bold" font-style="normal" fill="#231815" text-anchor="middle" textLength="21" lengthAdjust="spacingAndGlyphs" >4.0</text>
<line x1="330.55" y1="351" x2="330.55" y2="355.6" stroke="#231815" stroke-width="1.3" stroke-linecap="butt"/>
<text x="331.55" y="370.4" font-size="15.2" font-weight="bold" font-style="normal" fill="#231815" text-anchor="middle" textLength="21" lengthAdjust="spacingAndGlyphs" >3.0</text>
<line x1="384.1" y1="351" x2="384.1" y2="355.6" stroke="#231815" stroke-width="1.3" stroke-linecap="butt"/>
<text x="385.1" y="370.4" font-size="15.2" font-weight="bold" font-style="normal" fill="#231815" text-anchor="middle" textLength="21" lengthAdjust="spacingAndGlyphs" >2.0</text>
<line x1="437.65" y1="351" x2="437.65" y2="355.6" stroke="#231815" stroke-width="1.3" stroke-linecap="butt"/>
<text x="438.65" y="370.4" font-size="15.2" font-weight="bold" font-style="normal" fill="#231815" text-anchor="middle" textLength="21" lengthAdjust="spacingAndGlyphs" >1.0</text>
<text x="259.4" y="395.6" font-size="18.5" font-weight="bold" font-style="normal" fill="#231815" text-anchor="middle" textLength="185.4" lengthAdjust="spacingAndGlyphs" >Chemical Shift (ppm)</text>
</g>
<g id="panel-b">
<text x="501.2" y="16" font-size="19.2" font-weight="bold" font-style="normal" fill="#000000" text-anchor="start" >b</text>
<path d="M564.4 71.6 L564.65 71.6 L564.9 71.6 L565.15 71.6 L565.4 71.59 L565.65 71.59 L565.9 71.59 L566.15 71.59 L566.4 71.59 L566.65 71.59 L566.9 71.59 L567.15 71.58 L567.4 71.58 L567.65 71.58 L567.9 71.58 L568.15 71.58 L568.4 71.58 L568.65 71.58 L568.9 71.57 L569.15 71.57 L569.4 71.57 L569.65 71.57 L569.9 71.57 L570.15 71.57 L570.4 71.56 L570.65 71.56 L570.9 71.56 L571.15 71.56 L571.4 71.56 L571.65 71.56 L571.9 71.55 L572.15 71.55 L572.4 71.55 L572.65 71.55 L572.9 71.55 L573.15 71.55 L573.4 71.54 L573.65 71.54 L573.9 71.54 L574.15 71.54 L574.4 71.54 L574.65 71.53 L574.9 71.53 L575.15 71.53 L575.4 71.53 L575.65 71.53 L575.9 71.52 L576.15 71.52 L576.4 71.52 L576.65 71.52 L576.9 71.52 L577.15 71.52 L577.4 71.51 L577.65 71.51 L577.9 71.51 L578.15 71.51 L578.4 71.51 L578.65 71.5 L578.9 71.5 L579.15 71.5 L579.4 71.5 L579.65 71.5 L579.9 71.49 L580.15 71.49 L580.4 71.49 L580.65 71.49 L580.9 71.48 L581.15 71.48 L581.4 71.48 L581.65 71.48 L581.9 71.48 L582.15 71.47 L582.4 71.47 L582.65 71.47 L582.9 71.47 L583.15 71.47 L583.4 71.46 L583.65 71.46 L583.9 71.46 L584.15 71.46 L584.4 71.45 L584.65 71.45 L584.9 71.45 L585.15 71.45 L585.4 71.44 L585.65 71.44 L585.9 71.44 L586.15 71.44 L586.4 71.44 L586.65 71.43 L586.9 71.43 L587.15 71.43 L587.4 71.43 L587.65 71.42 L587.9 71.42 L588.15 71.42 L588.4 71.42 L588.65 71.41 L588.9 71.41 L589.15 71.41 L589.4 71.41 L589.65 71.41 L589.9 71.4 L590.15 71.4 L590.4 71.4 L590.65 71.4 L590.9 71.39 L591.15 71.39 L591.4 71.39 L591.65 71.39 L591.9 71.38 L592.15 71.38 L592.4 71.38 L592.65 71.38 L592.9 71.37 L593.15 71.37 L593.4 71.37 L593.65 71.37 L593.9 71.36 L594.15 71.36 L594.4 71.36 L594.65 71.36 L594.9 71.35 L595.15 71.35 L595.4 71.35 L595.65 71.35 L595.9 71.34 L596.15 71.34 L596.4 71.34 L596.65 71.34 L596.9 71.33 L597.15 71.33 L597.4 71.33 L597.65 71.32 L597.9 71.32 L598.15 71.32 L598.4 71.32 L598.65 71.31 L598.9 71.31 L599.15 71.31 L599.4 71.31 L599.65 71.3 L599.9 71.3 L600.15 71.3 L600.4 71.3 L600.65 71.29 L600.9 71.29 L601.15 71.29 L601.4 71.29 L601.65 71.28 L601.9 71.28 L602.15 71.28 L602.4 71.28 L602.65 71.28 L602.9 71.28 L603.15 71.27 L603.4 71.27 L603.65 71.27 L603.9 71.27 L604.15 71.27 L604.4 71.27 L604.65 71.26 L604.9 71.26 L605.15 71.26 L605.4 71.26 L605.65 71.26 L605.9 71.26 L606.15 71.26 L606.4 71.25 L606.65 71.25 L606.9 71.25 L607.15 71.25 L607.4 71.25 L607.65 71.25 L607.9 71.25 L608.15 71.25 L608.4 71.24 L608.65 71.24 L608.9 71.24 L609.15 71.24 L609.4 71.24 L609.65 71.24 L609.9 71.23 L610.15 71.23 L610.4 71.23 L610.65 71.23 L610.9 71.23 L611.15 71.22 L611.4 71.22 L611.65 71.22 L611.9 71.22 L612.15 71.22 L612.4 71.21 L612.65 71.21 L612.9 71.21 L613.15 71.21 L613.4 71.2 L613.65 71.2 L613.9 71.2 L614.15 71.19 L614.4 71.19 L614.65 71.19 L614.9 71.18 L615.15 71.18 L615.4 71.18 L615.65 71.17 L615.9 71.17 L616.15 71.16 L616.4 71.16 L616.65 71.15 L616.9 71.15 L617.15 71.14 L617.4 71.14 L617.65 71.13 L617.9 71.13 L618.15 71.12 L618.4 71.12 L618.65 71.11 L618.9 71.1 L619.15 71.1 L619.4 71.09 L619.65 71.08 L619.9 71.08 L620.15 71.07 L620.4 71.06 L620.65 71.05 L620.9 71.05 L621.15 71.04 L621.4 71.03 L621.65 71.02 L621.9 71.01 L622.15 71 L622.4 70.94 L622.65 70.72 L622.9 70.38 L623.15 69.94 L623.4 69.43 L623.65 68.87 L623.9 67.78 L624.15 66.24 L624.4 64.65 L624.65 63.4 L624.9 62.9 L625.15 63.31 L625.4 64.33 L625.65 65.64 L625.9 66.92 L626.15 67.88 L626.4 68.43 L626.65 68.96 L626.9 69.45 L627.15 69.91 L627.4 70.3 L627.65 70.62 L627.9 70.85 L628.15 70.98 L628.4 70.99 L628.65 70.86 L628.9 70.61 L629.15 70.26 L629.4 69.81 L629.65 69.3 L629.9 68.73 L630.15 68.12 L630.4 67.25 L630.65 65.77 L630.9 64 L631.15 62.26 L631.4 60.89 L631.65 60.22 L631.9 60.51 L632.15 61.58 L632.4 63.14 L632.65 64.87 L632.9 66.47 L633.15 67.82 L633.4 69.35 L633.65 70.65 L633.9 71.2 L634.15 71.21 L634.4 71.22 L634.65 71.23 L634.9 71.24 L635.15 71.25 L635.4 71.25 L635.65 71.26 L635.9 71.26 L636.15 71.27 L636.4 71.27 L636.65 71.28 L636.9 71.28 L637.15 71.29 L637.4 71.29 L637.65 71.29 L637.9 71.29 L638.15 71.29 L638.4 71.3 L638.65 71.3 L638.9 71.3 L639.15 71.3 L639.4 71.3 L639.65 71.3 L639.9 71.3 L640.15 71.3 L640.4 71.3 L640.65 71.3 L640.9 71.3 L641.15 71.3 L641.4 71.3 L641.65 71.3 L641.9 71.3 L642.15 71.3 L642.4 71.3 L642.65 71.3 L642.9 71.3 L643.15 71.3 L643.4 71.3 L643.65 71.3 L643.9 71.3 L644.15 71.3 L644.4 71.29 L644.65 71.29 L644.9 71.29 L645.15 71.29 L645.4 71.29 L645.65 71.29 L645.9 71.29 L646.15 71.29 L646.4 71.29 L646.65 71.29 L646.9 71.29 L647.15 71.29 L647.4 71.29 L647.65 71.28 L647.9 71.28 L648.15 71.28 L648.4 71.28 L648.65 71.28 L648.9 71.28 L649.15 71.28 L649.4 71.28 L649.65 71.28 L649.9 71.27 L650.15 71.27 L650.4 71.27 L650.65 71.27 L650.9 71.27 L651.15 71.27 L651.4 71.27 L651.65 71.27 L651.9 71.26 L652.15 71.26 L652.4 71.26 L652.65 71.26 L652.9 71.26 L653.15 71.26 L653.4 71.26 L653.65 71.25 L653.9 71.25 L654.15 71.25 L654.4 71.25 L654.65 71.25 L654.9 71.25 L655.15 71.24 L655.4 71.24 L655.65 71.24 L655.9 71.24 L656.15 71.24 L656.4 71.23 L656.65 71.23 L656.9 71.23 L657.15 71.23 L657.4 71.23 L657.65 71.23 L657.9 71.22 L658.15 71.22 L658.4 71.22 L658.65 71.22 L658.9 71.22 L659.15 71.21 L659.4 71.21 L659.65 71.21 L659.9 71.21 L660.15 71.21 L660.4 71.2 L660.65 71.2 L660.9 71.2 L661.15 71.2 L661.4 71.19 L661.65 71.19 L661.9 71.19 L662.15 71.19 L662.4 71.19 L662.65 71.18 L662.9 71.18 L663.15 71.18 L663.4 71.18 L663.65 71.17 L663.9 71.17 L664.15 71.17 L664.4 71.17 L664.65 71.16 L664.9 71.16 L665.15 71.16 L665.4 71.16 L665.65 71.15 L665.9 71.15 L666.15 71.15 L666.4 71.15 L666.65 71.14 L666.9 71.14 L667.15 71.14 L667.4 71.14 L667.65 71.13 L667.9 71.13 L668.15 71.13 L668.4 71.13 L668.65 71.12 L668.9 71.12 L669.15 71.12 L669.4 71.12 L669.65 71.11 L669.9 71.11 L670.15 71.11 L670.4 71.11 L670.65 71.1 L670.9 71.1 L671.15 71.1 L671.4 71.1 L671.65 71.09 L671.9 71.09 L672.15 71.09 L672.4 71.08 L672.65 71.08 L672.9 71.08 L673.15 71.08 L673.4 71.07 L673.65 71.07 L673.9 71.07 L674.15 71.07 L674.4 71.06 L674.65 71.06 L674.9 71.06 L675.15 71.05 L675.4 71.05 L675.65 71.05 L675.9 71.05 L676.15 71.04 L676.4 71.04 L676.65 71.04 L676.9 71.03 L677.15 71.03 L677.4 71.03 L677.65 71.03 L677.9 71.02 L678.15 71.02 L678.4 71.02 L678.65 71.02 L678.9 71.01 L679.15 71.01 L679.4 71.01 L679.65 71 L679.9 71 L680.15 71 L680.4 71 L680.65 70.99 L680.9 70.99 L681.15 70.99 L681.4 70.99 L681.65 70.98 L681.9 70.98 L682.15 70.98 L682.4 70.98 L682.65 70.97 L682.9 70.97 L683.15 70.97 L683.4 70.97 L683.65 70.96 L683.9 70.96 L684.15 70.96 L684.4 70.96 L684.65 70.95 L684.9 70.95 L685.15 70.95 L685.4 70.95 L685.65 70.94 L685.9 70.94 L686.15 70.94 L686.4 70.94 L686.65 70.93 L686.9 70.93 L687.15 70.93 L687.4 70.92 L687.65 70.92 L687.9 70.92 L688.15 70.91 L688.4 70.91 L688.65 70.91 L688.9 70.9 L689.15 70.9 L689.4 70.9 L689.65 70.89 L689.9 70.89 L690.15 70.88 L690.4 70.88 L690.65 70.87 L690.9 70.87 L691.15 70.86 L691.4 70.86 L691.65 70.85 L691.9 70.85 L692.15 70.84 L692.4 70.83 L692.65 70.83 L692.9 70.82 L693.15 70.82 L693.4 70.81 L693.65 70.8 L693.9 70.79 L694.15 70.79 L694.4 70.78 L694.65 70.77 L694.9 70.76 L695.15 70.75 L695.4 70.74 L695.65 70.73 L695.9 70.72 L696.15 70.71 L696.4 70.7 L696.65 70.69 L696.9 70.67 L697.15 70.64 L697.4 70.6 L697.65 70.55 L697.9 70.5 L698.15 70.44 L698.4 70.37 L698.65 70.3 L698.9 70.23 L699.15 70.15 L699.4 70.06 L699.65 69.95 L699.9 69.82 L700.15 69.66 L700.4 69.47 L700.65 69.25 L700.9 68.83 L701.15 68.2 L701.4 67.38 L701.65 66.44 L701.9 65.42 L702.15 64.36 L702.4 63.33 L702.65 62.36 L702.9 61.5 L703.15 60.75 L703.4 59.95 L703.65 59.11 L703.9 58.3 L704.15 57.55 L704.4 56.92 L704.65 56.46 L704.9 56.22 L705.15 56.35 L705.4 57.08 L705.65 58.09 L705.9 58.97 L706.15 59.47 L706.4 59.92 L706.65 60.34 L706.9 60.7 L707.15 60.98 L707.4 61.15 L707.65 61.18 L707.9 60.64 L708.15 59.46 L708.4 57.85 L708.65 56 L708.9 54.1 L709.15 52.35 L709.4 50.95 L709.65 50.06 L709.9 49.39 L710.15 48.75 L710.4 48.15 L710.65 47.62 L710.9 47.18 L711.15 46.85 L711.4 46.65 L711.65 46.6 L711.9 46.73 L712.15 47.01 L712.4 47.42 L712.65 47.94 L712.9 48.55 L713.15 49.22 L713.4 49.93 L713.65 50.66 L713.9 51.38 L714.15 52.07 L714.4 52.76 L714.65 53.56 L714.9 54.44 L715.15 55.36 L715.4 56.3 L715.65 57.24 L715.9 58.13 L716.15 58.96 L716.4 59.7 L716.65 60.31 L716.9 60.9 L717.15 61.49 L717.4 62.08 L717.65 62.65 L717.9 63.19 L718.15 63.7 L718.4 64.16 L718.65 64.56 L718.9 64.88 L719.15 65.12 L719.4 65.26 L719.65 65.29 L719.9 65.1 L720.15 64.68 L720.4 64.1 L720.65 63.43 L720.9 62.73 L721.15 62.07 L721.4 61.52 L721.65 61.14 L721.9 60.81 L722.15 60.5 L722.4 60.21 L722.65 59.98 L722.9 59.84 L723.15 59.81 L723.4 60.1 L723.65 60.72 L723.9 61.55 L724.15 62.48 L724.4 63.39 L724.65 64.17 L724.9 64.81 L725.15 65.47 L725.4 66.13 L725.65 66.77 L725.9 67.37 L726.15 67.9 L726.4 68.33 L726.65 68.65 L726.9 68.88 L727.15 69.09 L727.4 69.3 L727.65 69.49 L727.9 69.68 L728.15 69.86 L728.4 70.03 L728.65 70.19 L728.9 70.34 L729.15 70.48 L729.4 70.61 L729.65 70.73 L729.9 70.83 L730.15 70.93 L730.4 71 L730.65 71.07 L730.9 71.12 L731.15 71.16 L731.4 71.19 L731.65 71.2 L731.9 71.2 L732.15 71.2 L732.4 71.19 L732.65 71.19 L732.9 71.18 L733.15 71.17 L733.4 71.16 L733.65 71.15 L733.9 71.14 L734.15 71.13 L734.4 71.12 L734.65 71.1 L734.9 71.08 L735.15 71.07 L735.4 71.05 L735.65 71.03 L735.9 71.01 L736.15 70.99 L736.4 70.96 L736.65 70.92 L736.9 70.88 L737.15 70.83 L737.4 70.76 L737.65 70.69 L737.9 70.62 L738.15 70.53 L738.4 70.43 L738.65 70.32 L738.9 70.15 L739.15 69.83 L739.4 69.38 L739.65 68.82 L739.9 68.18 L740.15 67.48 L740.4 66.74 L740.65 66 L740.9 65.26 L741.15 64.57 L741.4 63.94 L741.65 63.4 L741.9 62.94 L742.15 62.54 L742.4 62.16 L742.65 61.8 L742.9 61.42 L743.15 61.03 L743.4 60.59 L743.65 60.07 L743.9 59.39 L744.15 58.59 L744.4 57.74 L744.65 56.9 L744.9 56.12 L745.15 55.47 L745.4 55.01 L745.65 54.81 L745.9 55.04 L746.15 55.92 L746.4 57.29 L746.65 58.99 L746.9 60.85 L747.15 62.71 L747.4 64.39 L747.65 65.73 L747.9 66.61 L748.15 67.39 L748.4 68.13 L748.65 68.83 L748.9 69.44 L749.15 69.97 L749.4 70.37 L749.65 70.62 L749.9 70.73 L750.15 70.8 L750.4 70.86 L750.65 70.91 L750.9 70.96 L751.15 71 L751.4 71.04 L751.65 71.07 L751.9 71.1 L752.15 71.13 L752.4 71.15 L752.65 71.18 L752.9 71.2 L753.15 71.22 L753.4 71.24 L753.65 71.26 L753.9 71.29 L754.15 71.32 L754.4 71.34 L754.65 71.37 L754.9 71.4 L755.15 71.43 L755.4 71.46 L755.65 71.49 L755.9 71.51 L756.15 71.54 L756.4 71.57 L756.65 71.59 L756.9 71.62 L757.15 71.64 L757.4 71.67 L757.65 71.69 L757.9 71.71 L758.15 71.73 L758.4 71.75 L758.65 71.76 L758.9 71.77 L759.15 71.78 L759.4 71.79 L759.65 71.8 L759.9 71.8 L760.15 71.8 L760.4 71.8 L760.65 71.8 L760.9 71.8 L761.15 71.8 L761.4 71.8 L761.65 71.8 L761.9 71.8 L762.15 71.8 L762.4 71.8 L762.65 71.8 L762.9 71.79 L763.15 71.79 L763.4 71.79 L763.65 71.79 L763.9 71.79 L764.15 71.79 L764.4 71.79 L764.65 71.79 L764.9 71.79 L765.15 71.78 L765.4 71.78 L765.65 71.78 L765.9 71.78 L766.15 71.78 L766.4 71.78 L766.65 71.77 L766.9 71.77 L767.15 71.77 L767.4 71.77 L767.65 71.77 L767.9 71.76 L768.15 71.76 L768.4 71.76 L768.65 71.76 L768.9 71.75 L769.15 71.75 L769.4 71.75 L769.65 71.75 L769.9 71.74 L770.15 71.74 L770.4 71.74 L770.65 71.73 L770.9 71.73 L771.15 71.73 L771.4 71.73 L771.65 71.72 L771.9 71.72 L772.15 71.72 L772.4 71.71 L772.65 71.71 L772.9 71.71 L773.15 71.7 L773.4 71.7 L773.65 71.7 L773.9 71.69 L774.15 71.69 L774.4 71.69 L774.65 71.68 L774.9 71.68 L775.15 71.67 L775.4 71.67 L775.65 71.67 L775.9 71.66 L776.15 71.66 L776.4 71.66 L776.65 71.65 L776.9 71.65 L777.15 71.64 L777.4 71.64 L777.65 71.64 L777.9 71.63 L778.15 71.63 L778.4 71.62 L778.65 71.62 L778.9 71.61 L779.15 71.61 L779.4 71.61 L779.65 71.6 L779.9 71.6 L780.15 71.59 L780.4 71.59 L780.65 71.58 L780.9 71.58 L781.15 71.57 L781.4 71.57 L781.65 71.57 L781.9 71.56 L782.15 71.56 L782.4 71.55 L782.65 71.55 L782.9 71.54 L783.15 71.54 L783.4 71.53 L783.65 71.53 L783.9 71.52 L784.15 71.52 L784.4 71.51 L784.65 71.51 L784.9 71.5 L785.15 71.5 L785.4 71.49 L785.65 71.49 L785.9 71.48 L786.15 71.48 L786.4 71.47 L786.65 71.47 L786.9 71.46 L787.15 71.46 L787.4 71.45 L787.65 71.45 L787.9 71.44 L788.15 71.44 L788.4 71.43 L788.65 71.43 L788.9 71.42 L789.15 71.42 L789.4 71.41 L789.65 71.41 L789.9 71.4 L790.15 71.4 L790.4 71.39 L790.65 71.39 L790.9 71.38 L791.15 71.38 L791.4 71.37 L791.65 71.37 L791.9 71.36 L792.15 71.35 L792.4 71.35 L792.65 71.34 L792.9 71.34 L793.15 71.33 L793.4 71.33 L793.65 71.32 L793.9 71.31 L794.15 71.31 L794.4 71.3 L794.65 71.29 L794.9 71.29 L795.15 71.28 L795.4 71.27 L795.65 71.27 L795.9 71.26 L796.15 71.25 L796.4 71.25 L796.65 71.24 L796.9 71.23 L797.15 71.22 L797.4 71.22 L797.65 71.21 L797.9 71.2 L798.15 71.19 L798.4 71.19 L798.65 71.18 L798.9 71.17 L799.15 71.16 L799.4 71.15 L799.65 71.14 L799.9 71.13 L800.15 71.12 L800.4 71.11 L800.65 71.1 L800.9 71.09 L801.15 71.08 L801.4 71.07 L801.65 71.06 L801.9 71.05 L802.15 71.04 L802.4 71.03 L802.65 71.02 L802.9 71.01 L803.15 71 L803.4 70.98 L803.65 70.97 L803.9 70.96 L804.15 70.95 L804.4 70.93 L804.65 70.92 L804.9 70.91 L805.15 70.89 L805.4 70.88 L805.65 70.87 L805.9 70.85 L806.15 70.84 L806.4 70.82 L806.65 70.81 L806.9 70.79 L807.15 70.78 L807.4 70.76 L807.65 70.74 L807.9 70.73 L808.15 70.71 L808.4 70.69 L808.65 70.68 L808.9 70.66 L809.15 70.64 L809.4 70.62 L809.65 70.6 L809.9 70.58 L810.15 70.55 L810.4 70.53 L810.65 70.5 L810.9 70.47 L811.15 70.44 L811.4 70.41 L811.65 70.38 L811.9 70.35 L812.15 70.31 L812.4 70.27 L812.65 70.23 L812.9 70.19 L813.15 70.14 L813.4 70.09 L813.65 70.04 L813.9 69.99 L814.15 69.93 L814.4 69.87 L814.65 69.8 L814.9 69.74 L815.15 69.67 L815.4 69.59 L815.65 69.52 L815.9 69.44 L816.15 69.35 L816.4 69.26 L816.65 69.1 L816.9 68.87 L817.15 68.58 L817.4 68.25 L817.65 67.88 L817.9 67.5 L818.15 67.11 L818.4 66.73 L818.65 66.37 L818.9 65.99 L819.15 65.52 L819.4 65.02 L819.65 64.55 L819.9 64.17 L820.15 63.94 L820.4 63.92 L820.65 64.08 L820.9 64.38 L821.15 64.78 L821.4 65.23 L821.65 65.7 L821.9 66.15 L822.15 66.52 L822.4 66.8 L822.65 67.06 L822.9 67.32 L823.15 67.57 L823.4 67.8 L823.65 68 L823.9 68.16 L824.15 68.26 L824.4 68.32 L824.65 68.35 L824.9 68.39 L825.15 68.43 L825.4 68.46 L825.65 68.49 L825.9 68.52 L826.15 68.54 L826.4 68.57 L826.65 68.59 L826.9 68.61 L827.15 68.63 L827.4 68.64 L827.65 68.66 L827.9 68.67 L828.15 68.68 L828.4 68.69 L828.65 68.69 L828.9 68.7 L829.15 68.7 L829.4 68.7 L829.65 68.6 L829.9 68.34 L830.15 67.96 L830.4 67.51 L830.65 67.04 L830.9 66.58 L831.15 66.18 L831.4 65.9 L831.65 65.68 L831.9 65.47 L832.15 65.27 L832.4 65.1 L832.65 64.97 L832.9 64.91 L833.15 64.93 L833.4 65.08 L833.65 65.33 L833.9 65.66 L834.15 66.03 L834.4 66.4 L834.65 66.74 L834.9 67.03 L835.15 67.23 L835.4 67.3 L835.65 67.3 L835.9 67.3 L836.15 67.3 L836.4 67.3 L836.65 67.3 L836.9 67.3 L837.15 67.3 L837.4 67.3 L837.65 67.3 L837.9 67.3 L838.15 67.29 L838.4 67.21 L838.65 67.07 L838.9 66.88 L839.15 66.64 L839.4 66.37 L839.65 66.07 L839.9 65.75 L840.15 65.42 L840.4 65.09 L840.65 64.76 L840.9 64.45 L841.15 64.16 L841.4 63.9 L841.65 63.66 L841.9 63.41 L842.15 63.16 L842.4 62.91 L842.65 62.65 L842.9 62.4 L843.15 62.15 L843.4 61.9 L843.65 61.66 L843.9 61.42 L844.15 61.19 L844.4 60.97 L844.65 60.76 L844.9 60.56 L845.15 60.37 L845.4 60.2 L845.65 60.03 L845.9 59.85 L846.15 59.67 L846.4 59.49 L846.65 59.31 L846.9 59.15 L847.15 59 L847.4 58.87 L847.65 58.76 L847.9 58.67 L848.15 58.62 L848.4 58.6 L848.65 58.62 L848.9 58.69 L849.15 58.79 L849.4 58.92 L849.65 59.09 L849.9 59.34 L850.15 60.12 L850.4 61.25 L850.65 62.38 L850.9 63.16 L851.15 63.41 L851.4 63.57 L851.65 63.7 L851.9 63.82 L852.15 63.91 L852.4 63.99 L852.65 64.06 L852.9 64.12 L853.15 64.18 L853.4 64.23 L853.65 64.29 L853.9 64.35 L854.15 64.42 L854.4 64.5 L854.65 64.59 L854.9 64.7 L855.15 64.83 L855.4 64.97 L855.65 65.12 L855.9 65.29 L856.15 65.46 L856.4 65.65 L856.65 65.84 L856.9 66.03 L857.15 66.23 L857.4 66.43 L857.65 66.63 L857.9 66.83 L858.15 67.03 L858.4 67.22 L858.65 67.42 L858.9 67.65 L859.15 67.89 L859.4 68.15 L859.65 68.42 L859.9 68.68 L860.15 68.93 L860.4 69.16 L860.65 69.36 L860.9 69.52 L861.15 69.64 L861.4 69.69 L861.65 69.7 L861.9 69.7 L862.15 69.7 L862.4 69.7 L862.65 69.7 L862.9 69.7 L863.15 69.7 L863.4 69.7 L863.65 69.65 L863.9 69.38 L864.15 68.9 L864.4 68.24 L864.65 67.45 L864.9 66.57 L865.15 65.63 L865.4 64.68 L865.65 63.63 L865.9 62.16 L866.15 60.44 L866.4 58.72 L866.65 57.23 L866.9 56.2 L867.15 55.49 L867.4 54.83 L867.65 54.23 L867.9 53.75 L868.15 53.4 L868.4 53.22 L868.65 53.24 L868.9 53.44 L869.15 53.78 L869.4 54.19 L869.65 54.6 L869.9 54.98 L870.15 55.24 L870.4 55.43 L870.65 55.59 L870.9 55.72 L871.15 55.84 L871.4 55.98 L871.65 56.15 L871.9 56.38 L872.15 56.67 L872.4 57.29 L872.65 58.25 L872.9 59.41 L873.15 60.63 L873.4 61.79 L873.65 62.81 L873.9 63.88 L874.15 65 L874.4 66.11 L874.65 67.18 L874.9 68.16 L875.15 69.01 L875.4 69.69 L875.65 70.2 L875.9 70.67 L876.15 71.06 L876.4 71.28 L876.65 71.3 L876.9 71.3 L877.15 71.3 L877.4 71.3 L877.65 71.3 L877.9 71.3 L878.15 71.3 L878.4 71.3 L878.65 71.3 L878.9 71.3 L879.15 71.3 L879.4 71.3 L879.65 71.3 L879.9 71.3 L880.15 71.3 L880.4 71.3 L880.65 71.3 L880.9 71.3 L881.15 71.3 L881.4 71.3 L881.65 71.3 L881.9 71.3 L882.15 71.3 L882.4 71.3 L882.65 71.3 L882.9 71.3 L883.15 71.3 L883.4 71.3 L883.65 71.3 L883.9 71.3 L884.15 71.3 L884.4 71.3 L884.65 71.3 L884.9 71.3 L885.15 71.3 L885.4 71.3 L885.65 71.3 L885.9 71.3 L886.15 70.08 L886.4 66 L886.65 61.98 L886.9 61.18 L887.15 64.14 L887.4 67.16 L887.65 70.16 L887.9 70.9 L888.15 70.89 L888.4 70.88 L888.65 70.86 L888.9 70.83 L889.15 70.8 L889.4 70.76 L889.65 70.71 L889.9 70.65 L890.15 70.59 L890.4 70.51 L890.65 70.43 L890.9 70.34 L891.15 70.14 L891.4 69.56 L891.65 68.78 L891.9 68.08 L892.15 67.71 L892.4 67.82 L892.65 68.24 L892.9 68.8 L893.15 69.36 L893.4 69.78 L893.65 69.9 L893.9 69.9 L894.15 69.89 L894.4 69.89 L894.65 69.88 L894.9 69.87 L895.15 69.86 L895.4 69.85 L895.65 69.83 L895.9 69.81 L896.15 69.79 L896.4 69.77 L896.65 69.74 L896.9 69.71 L897.15 69.66 L897.4 69.49 L897.65 69.19 L897.9 68.75 L898.15 68.19 L898.4 67.48 L898.65 66.65 L898.9 65.67 L899.15 64.56 L899.4 63.31 L899.65 61.85 L899.9 58.47 L900.15 52.95 L900.4 46.1 L900.65 38.57 L900.9 27.56 L901.15 16.61 L901.4 8.93 L901.65 2.87 L901.9 2.11 L902.15 6.67 L902.4 12.89 L902.65 17.69 L902.9 21.85 L903.15 25.87 L903.4 30.07 L903.65 34.74 L903.9 40.2 L904.15 48.76 L904.4 59.03 L904.65 65.82 L904.9 67.38 L905.15 68.49 L905.4 69.37 L905.65 70.02 L905.9 70.49 L906.15 70.79 L906.4 70.95 L906.65 71.08 L906.9 71.2 L907.15 71.3 L907.4 71.39 L907.65 71.46 L907.9 71.52 L908.15 71.56 L908.4 71.59 L908.65 71.6 L908.9 71.6 L909.15 71.6 L909.4 71.6 L909.65 71.6 L909.9 71.6 L910.15 71.6 L910.4 71.6 L910.65 71.6 L910.9 71.6 L911.15 71.6 L911.4 71.6 L911.65 71.6 L911.9 71.6 L912.15 71.6 L912.4 71.6 L912.65 71.6 L912.9 71.6 L913.15 71.6 L913.4 71.6 L913.65 71.6 L913.9 71.6 L914.15 71.6 L914.4 71.6 L914.65 71.6 L914.9 71.6 L915.15 71.6 L915.4 71.6 L915.65 71.6 L915.9 71.6 L916.15 71.6 L916.4 71.6 L916.65 71.6 L916.9 71.6 L917.15 71.6 L917.4 71.6 L917.65 71.6 L917.9 71.6 L918.15 71.6 L918.4 71.6 L918.65 71.6 L918.9 71.6 L919.15 71.6 L919.4 71.6 L919.65 71.6 L919.9 71.6 L920.15 71.6 L920.4 71.6 L920.65 71.6 L920.9 71.6 L921.15 71.6 L921.4 71.6 L921.65 71.6 L921.9 71.6 L922.15 71.6 L922.4 71.6 L922.65 71.6 L922.9 71.6 L923.15 71.6 L923.4 71.6 L923.65 71.6 L923.9 71.6 L924.15 71.6 L924.4 71.6 L924.65 71.6 L924.9 71.6 L925.15 71.6 L925.4 71.6 L925.65 71.6 L925.9 71.6 L926.15 71.6 L926.4 71.6 L926.65 71.6 L926.9 71.6 L927.15 71.6 L927.4 71.6 L927.6 71.6" fill="none" stroke="#000000" stroke-width="1.35" stroke-linejoin="round" stroke-linecap="round" />
<path d="M563.4 71.6 L563.4 158.5 L473.5 196.8 L563.4 234.9 L563.4 350.6" fill="none" stroke="#000000" stroke-width="1.6" stroke-linejoin="round" stroke-linecap="round" stroke-miterlimit="10"/>
<line x1="478.5" y1="197.4" x2="926.8" y2="197.4" stroke="#231815" stroke-width="0.8" stroke-dasharray="3.2 1.6"/>
<line x1="928.4" y1="71.2" x2="928.4" y2="350.6" stroke="#231815" stroke-width="1.3" stroke-linecap="butt"/>
<line x1="924.4" y1="177.6" x2="928.4" y2="177.6" stroke="#231815" stroke-width="1.2" stroke-linecap="butt"/>
<line x1="924.4" y1="235" x2="928.4" y2="235" stroke="#231815" stroke-width="1.2" stroke-linecap="butt"/>
<line x1="924.4" y1="292.3" x2="928.4" y2="292.3" stroke="#231815" stroke-width="1.2" stroke-linecap="butt"/>
<line x1="924.4" y1="347.8" x2="928.4" y2="347.8" stroke="#231815" stroke-width="1.2" stroke-linecap="butt"/>
<text x="936.6" y="183.2" font-size="14.8" font-weight="bold" font-style="normal" fill="#231815" text-anchor="start" textLength="33.8" lengthAdjust="spacingAndGlyphs" >-10.5</text>
<text x="938" y="239.8" font-size="14.8" font-weight="bold" font-style="normal" fill="#231815" text-anchor="start" textLength="33.4" lengthAdjust="spacingAndGlyphs" >-10.0</text>
<text x="938" y="296.8" font-size="14.8" font-weight="bold" font-style="normal" fill="#231815" text-anchor="start" textLength="25.6" lengthAdjust="spacingAndGlyphs" >-9.5</text>
<text x="938" y="350.2" font-size="14.8" font-weight="bold" font-style="normal" fill="#231815" text-anchor="start" textLength="25.4" lengthAdjust="spacingAndGlyphs" >-9.0</text>
<text transform="translate(990.8 204.8) rotate(-90)" text-anchor="middle" font-size="16.6" font-weight="bold" fill="#231815" textLength="136" lengthAdjust="spacingAndGlyphs">f1 (log (cm<tspan font-size="10" dy="-9">2</tspan><tspan dy="9">/sec))</tspan></text>
<line x1="563" y1="355.7" x2="928.2" y2="355.7" stroke="#231815" stroke-width="1.6" stroke-linecap="butt"/>
<line x1="626.2" y1="350.2" x2="626.2" y2="355.7" stroke="#231815" stroke-width="1.3" stroke-linecap="butt"/>
<text x="626" y="373.8" font-size="14.8" font-weight="bold" font-style="normal" fill="#231815" text-anchor="middle" textLength="20.6" lengthAdjust="spacingAndGlyphs" >5.0</text>
<line x1="697.1" y1="350.2" x2="697.1" y2="355.7" stroke="#231815" stroke-width="1.3" stroke-linecap="butt"/>
<text x="696.9" y="373.8" font-size="14.8" font-weight="bold" font-style="normal" fill="#231815" text-anchor="middle" textLength="20.6" lengthAdjust="spacingAndGlyphs" >4.0</text>
<line x1="768" y1="350.2" x2="768" y2="355.7" stroke="#231815" stroke-width="1.3" stroke-linecap="butt"/>
<text x="767.8" y="373.8" font-size="14.8" font-weight="bold" font-style="normal" fill="#231815" text-anchor="middle" textLength="20.6" lengthAdjust="spacingAndGlyphs" >3.0</text>
<line x1="838.9" y1="350.2" x2="838.9" y2="355.7" stroke="#231815" stroke-width="1.3" stroke-linecap="butt"/>
<text x="838.7" y="373.8" font-size="14.8" font-weight="bold" font-style="normal" fill="#231815" text-anchor="middle" textLength="20.6" lengthAdjust="spacingAndGlyphs" >2.0</text>
<line x1="909.8" y1="350.2" x2="909.8" y2="355.7" stroke="#231815" stroke-width="1.3" stroke-linecap="butt"/>
<text x="909.6" y="373.8" font-size="14.8" font-weight="bold" font-style="normal" fill="#231815" text-anchor="middle" textLength="20.6" lengthAdjust="spacingAndGlyphs" >1.0</text>
<text x="758.6" y="395.8" font-size="18.5" font-weight="bold" font-style="normal" fill="#231815" text-anchor="middle" textLength="185.4" lengthAdjust="spacingAndGlyphs" >Chemical Shift (ppm)</text>
<path d="M625.3 161.8 Q621.4 195.4 625.3 229 Q629.2 195.4 625.3 161.8 Z" fill="#2f80ba" stroke="#2f80ba" stroke-width="0.3" stroke-linejoin="round" stroke-linecap="round" />
<path d="M631.5 161.4 Q627.6 195.7 631.5 230 Q635.4 195.7 631.5 161.4 Z" fill="#2f80ba" stroke="#2f80ba" stroke-width="0.3" stroke-linejoin="round" stroke-linecap="round" />
<rect x="626.8" y="192.6" width="3.2" height="7.6" fill="#79b2da"/>
<path d="M720.44 220.82 L719.96 222.81 L719.45 224.58 L718.9 226.1 L718.31 227.35 L717.67 228.35 L716.96 229.11 L716.2 229.67 L715.4 230.06 L714.58 230.32 L713.76 230.48 L712.95 230.56 L712.17 230.59 L711.42 230.6 L710.7 230.6 L709.99 230.58 L709.28 230.53 L708.54 230.43 L707.77 230.23 L706.96 229.93 L706.1 229.48 L705.21 228.84 L704.33 227.99 L703.47 226.9 L702.7 225.54 L702.04 223.92 L701.52 222.06 L701.14 219.99 L700.9 217.75 L700.76 215.39 L700.68 212.97 L700.63 210.52 L700.56 208.07 L700.47 205.65 L700.33 203.26 L700.15 200.91 L699.96 198.6 L699.76 196.3 L699.59 194.01 L699.47 191.7 L699.43 189.37 L699.48 187.01 L699.63 184.61 L699.88 182.18 L700.21 179.73 L700.6 177.28 L701.03 174.88 L701.49 172.56 L701.96 170.38 L702.44 168.39 L702.95 166.62 L703.5 165.1 L704.09 163.85 L704.73 162.85 L705.44 162.09 L706.2 161.53 L707 161.14 L707.82 160.88 L708.64 160.72 L709.45 160.64 L710.23 160.61 L710.98 160.6 L711.7 160.6 L712.41 160.62 L713.12 160.67 L713.86 160.77 L714.63 160.97 L715.44 161.27 L716.3 161.72 L717.19 162.36 L718.07 163.21 L718.93 164.3 L719.7 165.66 L720.36 167.28 L720.88 169.14 L721.26 171.21 L721.5 173.45 L721.64 175.81 L721.72 178.23 L721.77 180.68 L721.84 183.13 L721.93 185.55 L722.07 187.94 L722.25 190.29 L722.44 192.6 L722.64 194.9 L722.81 197.19 L722.93 199.5 L722.97 201.83 L722.92 204.19 L722.77 206.59 L722.52 209.02 L722.19 211.47 L721.8 213.92 L721.37 216.32 L720.91 218.64 Z" fill="none" stroke="#4796cc" stroke-width="0.7" stroke-linejoin="round" stroke-linecap="round" />
<path d="M718.94 219.67 L718.65 221.57 L718.31 223.26 L717.88 224.71 L717.37 225.9 L716.78 226.85 L716.11 227.58 L715.4 228.11 L714.68 228.49 L713.95 228.73 L713.26 228.88 L712.6 228.96 L711.97 228.99 L711.38 229 L710.79 229 L710.2 228.98 L709.59 228.94 L708.94 228.83 L708.25 228.65 L707.52 228.36 L706.78 227.93 L706.04 227.32 L705.34 226.51 L704.71 225.46 L704.17 224.17 L703.74 222.63 L703.42 220.85 L703.18 218.87 L702.99 216.73 L702.84 214.48 L702.68 212.17 L702.5 209.83 L702.29 207.5 L702.06 205.19 L701.83 202.91 L701.62 200.67 L701.45 198.46 L701.34 196.27 L701.3 194.08 L701.34 191.88 L701.47 189.66 L701.66 187.4 L701.9 185.11 L702.17 182.79 L702.44 180.45 L702.71 178.12 L702.96 175.83 L703.21 173.62 L703.46 171.53 L703.75 169.63 L704.09 167.94 L704.52 166.49 L705.03 165.3 L705.62 164.35 L706.29 163.62 L707 163.09 L707.72 162.71 L708.45 162.47 L709.14 162.32 L709.8 162.24 L710.43 162.21 L711.02 162.2 L711.61 162.2 L712.2 162.22 L712.81 162.26 L713.46 162.37 L714.15 162.55 L714.88 162.84 L715.62 163.27 L716.36 163.88 L717.06 164.69 L717.69 165.74 L718.23 167.03 L718.66 168.57 L718.98 170.35 L719.22 172.33 L719.41 174.47 L719.56 176.72 L719.72 179.03 L719.9 181.37 L720.11 183.7 L720.34 186.01 L720.57 188.29 L720.78 190.53 L720.95 192.74 L721.06 194.93 L721.1 197.12 L721.06 199.32 L720.93 201.54 L720.74 203.8 L720.5 206.09 L720.23 208.41 L719.96 210.75 L719.69 213.08 L719.44 215.37 L719.19 217.58 Z" fill="none" stroke="#4796cc" stroke-width="0.7" stroke-linejoin="round" stroke-linecap="round" />
<path d="M717.67 217.94 L717.47 219.7 L717.17 221.27 L716.76 222.61 L716.26 223.72 L715.69 224.61 L715.08 225.28 L714.45 225.78 L713.85 226.13 L713.28 226.35 L712.76 226.49 L712.27 226.56 L711.8 226.59 L711.34 226.6 L710.87 226.6 L710.38 226.59 L709.86 226.54 L709.3 226.45 L708.72 226.28 L708.14 226.01 L707.57 225.6 L707.05 225.04 L706.58 224.29 L706.17 223.32 L705.84 222.12 L705.56 220.69 L705.31 219.04 L705.08 217.2 L704.85 215.21 L704.59 213.13 L704.32 210.98 L704.03 208.81 L703.76 206.65 L703.52 204.5 L703.34 202.39 L703.23 200.31 L703.21 198.25 L703.26 196.22 L703.39 194.19 L703.57 192.15 L703.77 190.08 L703.98 187.99 L704.17 185.86 L704.32 183.71 L704.42 181.54 L704.49 179.38 L704.55 177.25 L704.62 175.2 L704.73 173.26 L704.93 171.5 L705.23 169.93 L705.64 168.59 L706.14 167.48 L706.71 166.59 L707.32 165.92 L707.95 165.42 L708.55 165.07 L709.12 164.85 L709.64 164.71 L710.13 164.64 L710.6 164.61 L711.06 164.6 L711.53 164.6 L712.02 164.61 L712.54 164.66 L713.1 164.75 L713.68 164.92 L714.26 165.19 L714.83 165.6 L715.35 166.16 L715.82 166.91 L716.23 167.88 L716.56 169.08 L716.84 170.51 L717.09 172.16 L717.32 174 L717.55 175.99 L717.81 178.07 L718.08 180.22 L718.37 182.39 L718.64 184.55 L718.88 186.7 L719.06 188.81 L719.17 190.89 L719.19 192.95 L719.14 194.98 L719.01 197.01 L718.83 199.05 L718.63 201.12 L718.42 203.21 L718.23 205.34 L718.08 207.49 L717.98 209.66 L717.91 211.82 L717.85 213.95 L717.78 216 Z" fill="none" stroke="#4796cc" stroke-width="0.7" stroke-linejoin="round" stroke-linecap="round" />
<path d="M715.62 215.49 L715.46 217.06 L715.3 218.46 L715.1 219.65 L714.85 220.64 L714.55 221.43 L714.19 222.03 L713.79 222.47 L713.35 222.78 L712.9 222.98 L712.47 223.1 L712.05 223.17 L711.66 223.19 L711.31 223.2 L710.96 223.2 L710.63 223.19 L710.28 223.15 L709.91 223.06 L709.5 222.91 L709.05 222.67 L708.58 222.31 L708.1 221.81 L707.63 221.14 L707.21 220.28 L706.85 219.21 L706.59 217.93 L706.41 216.47 L706.32 214.83 L706.28 213.06 L706.27 211.21 L706.25 209.29 L706.2 207.36 L706.11 205.43 L705.97 203.53 L705.8 201.64 L705.61 199.79 L705.42 197.96 L705.27 196.15 L705.17 194.34 L705.14 192.53 L705.18 190.69 L705.3 188.83 L705.48 186.93 L705.71 185.01 L705.95 183.08 L706.19 181.16 L706.42 179.26 L706.61 177.43 L706.78 175.71 L706.94 174.14 L707.1 172.74 L707.3 171.55 L707.55 170.56 L707.85 169.77 L708.21 169.17 L708.61 168.73 L709.05 168.42 L709.5 168.22 L709.93 168.1 L710.35 168.03 L710.74 168.01 L711.09 168 L711.44 168 L711.77 168.01 L712.12 168.05 L712.49 168.14 L712.9 168.29 L713.35 168.53 L713.82 168.89 L714.3 169.39 L714.77 170.06 L715.19 170.92 L715.55 171.99 L715.81 173.27 L715.99 174.73 L716.08 176.37 L716.12 178.14 L716.13 179.99 L716.15 181.91 L716.2 183.84 L716.29 185.77 L716.43 187.67 L716.6 189.56 L716.79 191.41 L716.98 193.24 L717.13 195.05 L717.23 196.86 L717.26 198.67 L717.22 200.51 L717.1 202.37 L716.92 204.27 L716.69 206.19 L716.45 208.12 L716.21 210.04 L715.98 211.94 L715.79 213.77 Z" fill="none" stroke="#4796cc" stroke-width="0.7" stroke-linejoin="round" stroke-linecap="round" />
<path d="M714.27 211.81 L714.2 213.1 L714.09 214.23 L713.93 215.21 L713.72 216.01 L713.47 216.65 L713.18 217.14 L712.87 217.5 L712.56 217.76 L712.26 217.92 L711.98 218.02 L711.73 218.07 L711.49 218.1 L711.27 218.1 L711.04 218.1 L710.81 218.09 L710.56 218.06 L710.29 217.99 L710 217.87 L709.7 217.67 L709.39 217.38 L709.1 216.97 L708.84 216.42 L708.62 215.72 L708.45 214.85 L708.33 213.81 L708.24 212.61 L708.17 211.28 L708.1 209.84 L708.03 208.32 L707.93 206.76 L707.81 205.19 L707.67 203.62 L707.53 202.06 L707.39 200.53 L707.28 199.02 L707.21 197.53 L707.19 196.05 L707.22 194.58 L707.29 193.09 L707.39 191.6 L707.52 190.08 L707.66 188.53 L707.79 186.97 L707.9 185.4 L707.98 183.82 L708.04 182.28 L708.08 180.79 L708.13 179.39 L708.2 178.1 L708.31 176.97 L708.47 175.99 L708.68 175.19 L708.93 174.55 L709.22 174.06 L709.53 173.7 L709.84 173.44 L710.14 173.28 L710.42 173.18 L710.67 173.13 L710.91 173.1 L711.13 173.1 L711.36 173.1 L711.59 173.11 L711.84 173.14 L712.11 173.21 L712.4 173.33 L712.7 173.53 L713.01 173.82 L713.3 174.23 L713.56 174.78 L713.78 175.48 L713.95 176.35 L714.07 177.39 L714.16 178.59 L714.23 179.92 L714.3 181.36 L714.37 182.88 L714.47 184.44 L714.59 186.01 L714.73 187.58 L714.87 189.14 L715.01 190.67 L715.12 192.18 L715.19 193.67 L715.21 195.15 L715.18 196.62 L715.11 198.11 L715.01 199.6 L714.88 201.12 L714.74 202.67 L714.61 204.23 L714.5 205.8 L714.42 207.38 L714.36 208.92 L714.32 210.41 Z" fill="none" stroke="#4796cc" stroke-width="0.7" stroke-linejoin="round" stroke-linecap="round" />
<path d="M712.7 206.05 L712.61 206.87 L712.53 207.61 L712.45 208.24 L712.37 208.75 L712.28 209.17 L712.18 209.48 L712.06 209.72 L711.93 209.88 L711.79 209.98 L711.65 210.05 L711.5 210.08 L711.37 210.1 L711.24 210.1 L711.12 210.1 L711 210.09 L710.89 210.07 L710.77 210.03 L710.65 209.95 L710.51 209.82 L710.36 209.63 L710.2 209.37 L710.03 209.02 L709.87 208.57 L709.72 208 L709.6 207.33 L709.51 206.56 L709.45 205.7 L709.43 204.77 L709.43 203.8 L709.45 202.79 L709.47 201.78 L709.48 200.77 L709.47 199.76 L709.45 198.77 L709.4 197.8 L709.35 196.84 L709.29 195.89 L709.23 194.94 L709.18 193.99 L709.15 193.02 L709.15 192.04 L709.18 191.05 L709.24 190.04 L709.31 189.02 L709.41 188.01 L709.51 187.02 L709.61 186.06 L709.7 185.15 L709.79 184.33 L709.87 183.59 L709.95 182.96 L710.03 182.45 L710.12 182.03 L710.22 181.72 L710.34 181.48 L710.47 181.32 L710.61 181.22 L710.75 181.15 L710.9 181.12 L711.03 181.1 L711.16 181.1 L711.28 181.1 L711.4 181.11 L711.51 181.13 L711.63 181.17 L711.75 181.25 L711.89 181.38 L712.04 181.57 L712.2 181.83 L712.37 182.18 L712.53 182.63 L712.68 183.2 L712.8 183.87 L712.89 184.64 L712.95 185.5 L712.97 186.43 L712.97 187.4 L712.95 188.41 L712.93 189.42 L712.92 190.43 L712.93 191.44 L712.95 192.43 L713 193.4 L713.05 194.36 L713.11 195.31 L713.17 196.26 L713.22 197.21 L713.25 198.18 L713.25 199.16 L713.22 200.15 L713.16 201.16 L713.09 202.18 L712.99 203.19 L712.89 204.18 L712.79 205.14 Z" fill="none" stroke="#4796cc" stroke-width="0.7" stroke-linejoin="round" stroke-linecap="round" />
<ellipse cx="711.3" cy="194.6" rx="0.9" ry="2.6" fill="none" stroke="#4796cc" stroke-width="0.7"/>
<path d="M701.6 166 C699.4 176 700.4 184 699.6 187.6 L696.6 189.6 C696.2 193 696.2 199 696.6 202.4 L699.6 204.4 C700.4 208 699.4 216 701.6 225" fill="none" stroke="#63a9d8" stroke-width="0.7" stroke-linejoin="round" stroke-linecap="round" />
<path d="M702.6 169 C700.8 180 700.8 211 702.6 222" fill="none" stroke="#63a9d8" stroke-width="0.7" stroke-linejoin="round" stroke-linecap="round" />
<path d="M724 162.4 Q720 195.5 724 228.6 Q728 195.5 724 162.4 Z" fill="none" stroke="#63a9d8" stroke-width="0.7" stroke-linejoin="round" stroke-linecap="round" />
<path d="M724 166 Q721.6 195.5 724 225 Q726.4 195.5 724 166 Z" fill="none" stroke="#63a9d8" stroke-width="0.7" stroke-linejoin="round" stroke-linecap="round" />
<path d="M724 172 Q723 195.5 724 219 Q725 195.5 724 172 Z" fill="none" stroke="#63a9d8" stroke-width="0.7" stroke-linejoin="round" stroke-linecap="round" />
<path d="M725.4 172.8 L727.6 173 L728.2 177.4 L730.8 177.8 L731.2 188.6 L732.6 190.4 L732.6 201 L731.2 202.8 L731.2 213.6 L728.2 214 L727.6 218 L725.4 218.4" fill="none" stroke="#63a9d8" stroke-width="0.7" stroke-linejoin="round" stroke-linecap="round" />
<path d="M725.6 179 L727.2 180 L727.6 186.4 L729.4 187.6 L729.8 195.6 L729.4 203.6 L727.6 204.8 L727.2 211 L725.6 212" fill="none" stroke="#63a9d8" stroke-width="0.7" stroke-linejoin="round" stroke-linecap="round" />
<path d="M747.86 220.67 L747.62 222.66 L747.34 224.42 L747.04 225.93 L746.71 227.17 L746.36 228.16 L746.01 228.92 L745.64 229.48 L745.29 229.87 L744.93 230.12 L744.58 230.28 L744.23 230.36 L743.89 230.39 L743.55 230.4 L743.22 230.4 L742.88 230.38 L742.53 230.33 L742.19 230.23 L741.83 230.04 L741.47 229.73 L741.11 229.28 L740.75 228.65 L740.4 227.8 L740.06 226.72 L739.74 225.37 L739.45 223.76 L739.19 221.91 L738.96 219.85 L738.78 217.62 L738.63 215.28 L738.52 212.87 L738.44 210.43 L738.38 208 L738.34 205.59 L738.32 203.22 L738.31 200.88 L738.3 198.58 L738.3 196.29 L738.3 194.02 L738.3 191.72 L738.31 189.41 L738.33 187.06 L738.35 184.67 L738.4 182.25 L738.47 179.82 L738.56 177.39 L738.68 175 L738.85 172.7 L739.04 170.53 L739.28 168.54 L739.56 166.78 L739.86 165.27 L740.19 164.03 L740.54 163.04 L740.89 162.28 L741.26 161.72 L741.61 161.33 L741.97 161.08 L742.32 160.92 L742.67 160.84 L743.01 160.81 L743.35 160.8 L743.68 160.8 L744.02 160.82 L744.37 160.87 L744.71 160.97 L745.07 161.16 L745.43 161.47 L745.79 161.92 L746.15 162.55 L746.5 163.4 L746.84 164.48 L747.16 165.83 L747.45 167.44 L747.71 169.29 L747.94 171.35 L748.12 173.58 L748.27 175.92 L748.38 178.33 L748.46 180.77 L748.52 183.2 L748.56 185.61 L748.58 187.98 L748.59 190.32 L748.6 192.62 L748.6 194.91 L748.6 197.18 L748.6 199.48 L748.59 201.79 L748.57 204.14 L748.55 206.53 L748.5 208.95 L748.43 211.38 L748.34 213.81 L748.22 216.2 L748.05 218.5 Z" fill="none" stroke="#4796cc" stroke-width="0.7" stroke-linejoin="round" stroke-linecap="round" />
<path d="M747.98 218.8 L747.8 220.64 L747.59 222.27 L747.35 223.66 L747.1 224.81 L746.83 225.73 L746.56 226.43 L746.28 226.95 L746.01 227.31 L745.73 227.54 L745.46 227.69 L745.2 227.76 L744.94 227.79 L744.68 227.8 L744.42 227.8 L744.16 227.79 L743.9 227.74 L743.63 227.64 L743.36 227.46 L743.09 227.18 L742.81 226.77 L742.53 226.18 L742.26 225.4 L742 224.39 L741.75 223.14 L741.53 221.66 L741.33 219.94 L741.16 218.03 L741.02 215.97 L740.9 213.81 L740.82 211.58 L740.75 209.32 L740.71 207.07 L740.68 204.85 L740.66 202.65 L740.65 200.49 L740.65 198.36 L740.65 196.24 L740.65 194.13 L740.65 192.01 L740.66 189.87 L740.67 187.7 L740.69 185.49 L740.73 183.25 L740.78 181 L740.85 178.75 L740.94 176.54 L741.07 174.41 L741.22 172.4 L741.4 170.56 L741.61 168.93 L741.85 167.54 L742.1 166.39 L742.37 165.47 L742.64 164.77 L742.92 164.25 L743.19 163.89 L743.47 163.66 L743.74 163.51 L744 163.44 L744.26 163.41 L744.52 163.4 L744.78 163.4 L745.04 163.41 L745.3 163.46 L745.57 163.56 L745.84 163.74 L746.11 164.02 L746.39 164.43 L746.67 165.02 L746.94 165.8 L747.2 166.81 L747.45 168.06 L747.67 169.54 L747.87 171.26 L748.04 173.17 L748.18 175.23 L748.3 177.39 L748.38 179.62 L748.45 181.88 L748.49 184.13 L748.52 186.35 L748.54 188.55 L748.55 190.71 L748.55 192.84 L748.55 194.96 L748.55 197.07 L748.55 199.19 L748.54 201.33 L748.53 203.5 L748.51 205.71 L748.47 207.95 L748.42 210.2 L748.35 212.45 L748.26 214.66 L748.13 216.79 Z" fill="none" stroke="#4796cc" stroke-width="0.7" stroke-linejoin="round" stroke-linecap="round" />
<path d="M748.15 215.41 L748.03 216.98 L747.88 218.37 L747.72 219.56 L747.54 220.55 L747.35 221.33 L747.16 221.93 L746.97 222.37 L746.78 222.68 L746.59 222.88 L746.4 223 L746.22 223.07 L746.04 223.09 L745.85 223.1 L745.67 223.1 L745.49 223.09 L745.31 223.05 L745.12 222.96 L744.94 222.81 L744.75 222.57 L744.55 222.22 L744.36 221.72 L744.17 221.05 L743.99 220.19 L743.82 219.12 L743.66 217.85 L743.52 216.39 L743.4 214.76 L743.31 213 L743.23 211.15 L743.17 209.24 L743.12 207.32 L743.09 205.4 L743.07 203.5 L743.06 201.62 L743.05 199.78 L743.05 197.95 L743.05 196.15 L743.05 194.35 L743.05 192.54 L743.06 190.71 L743.06 188.85 L743.08 186.96 L743.1 185.05 L743.14 183.13 L743.19 181.21 L743.26 179.32 L743.34 177.5 L743.45 175.79 L743.57 174.22 L743.72 172.83 L743.88 171.64 L744.06 170.65 L744.25 169.87 L744.44 169.27 L744.63 168.83 L744.82 168.52 L745.01 168.32 L745.2 168.2 L745.38 168.13 L745.56 168.11 L745.75 168.1 L745.93 168.1 L746.11 168.11 L746.29 168.15 L746.48 168.24 L746.66 168.39 L746.85 168.63 L747.05 168.98 L747.24 169.48 L747.43 170.15 L747.61 171.01 L747.78 172.08 L747.94 173.35 L748.08 174.81 L748.2 176.44 L748.29 178.2 L748.37 180.05 L748.43 181.96 L748.48 183.88 L748.51 185.8 L748.53 187.7 L748.54 189.58 L748.55 191.42 L748.55 193.25 L748.55 195.05 L748.55 196.85 L748.55 198.66 L748.54 200.49 L748.54 202.35 L748.52 204.24 L748.5 206.15 L748.46 208.07 L748.41 209.99 L748.34 211.88 L748.26 213.7 Z" fill="none" stroke="#4796cc" stroke-width="0.7" stroke-linejoin="round" stroke-linecap="round" />
<path d="M748.3 210.37 L748.22 211.54 L748.12 212.58 L748.02 213.46 L747.91 214.2 L747.79 214.78 L747.67 215.23 L747.55 215.56 L747.42 215.79 L747.3 215.94 L747.18 216.03 L747.07 216.08 L746.95 216.1 L746.83 216.1 L746.72 216.1 L746.61 216.09 L746.49 216.06 L746.37 216 L746.25 215.89 L746.13 215.71 L746.01 215.44 L745.88 215.07 L745.76 214.57 L745.65 213.93 L745.54 213.14 L745.44 212.19 L745.35 211.1 L745.27 209.88 L745.21 208.57 L745.16 207.19 L745.12 205.77 L745.1 204.34 L745.08 202.9 L745.06 201.49 L745.06 200.09 L745.05 198.71 L745.05 197.35 L745.05 196.01 L745.05 194.67 L745.05 193.32 L745.05 191.95 L745.06 190.57 L745.07 189.16 L745.08 187.74 L745.11 186.3 L745.14 184.87 L745.18 183.46 L745.24 182.11 L745.3 180.83 L745.38 179.66 L745.48 178.62 L745.58 177.74 L745.69 177 L745.81 176.42 L745.93 175.97 L746.05 175.64 L746.18 175.41 L746.3 175.26 L746.42 175.17 L746.53 175.12 L746.65 175.1 L746.77 175.1 L746.88 175.1 L746.99 175.11 L747.11 175.14 L747.23 175.2 L747.35 175.31 L747.47 175.49 L747.59 175.76 L747.72 176.13 L747.84 176.63 L747.95 177.27 L748.06 178.06 L748.16 179.01 L748.25 180.1 L748.33 181.32 L748.39 182.63 L748.44 184.01 L748.48 185.43 L748.5 186.86 L748.52 188.3 L748.54 189.71 L748.54 191.11 L748.55 192.49 L748.55 193.85 L748.55 195.19 L748.55 196.53 L748.55 197.88 L748.55 199.25 L748.54 200.63 L748.53 202.04 L748.52 203.46 L748.49 204.9 L748.46 206.33 L748.42 207.74 L748.36 209.09 Z" fill="none" stroke="#4796cc" stroke-width="0.7" stroke-linejoin="round" stroke-linecap="round" />
<path d="M747.2 163 C749.2 175 749.2 216 747.2 228" fill="none" stroke="#2a7fba" stroke-width="1.5" stroke-linejoin="round" stroke-linecap="round" />
<path d="M819.4 163.8 L816.8 170.6 L812.1 172.2 L811 179 L806.3 185.3 L807.4 189.4 L804.2 195.4 L807.4 201.4 L806.3 205.5 L811 211.8 L812.1 218.6 L816.8 220.2 L819.4 227" fill="none" stroke="#63a9d8" stroke-width="0.7" stroke-linejoin="round" stroke-linecap="round" />
<path d="M819.4 163.8 L822.5 170.6 L825.2 172.2 L827.8 175.8 L830.4 173.8" fill="none" stroke="#63a9d8" stroke-width="0.7" stroke-linejoin="round" stroke-linecap="round" />
<path d="M819.4 227 L822.5 220.2 L825.2 218.6 L827.8 215 L830.4 217" fill="none" stroke="#63a9d8" stroke-width="0.7" stroke-linejoin="round" stroke-linecap="round" />
<path d="M819.4 169.4 L815.7 183 L812.6 185.2 L813.1 192.4 L812 195.4 L813.1 198.4 L812.6 205.6 L815.7 207.8 L819.4 221.4" fill="none" stroke="#63a9d8" stroke-width="0.7" stroke-linejoin="round" stroke-linecap="round" />
<path d="M819.4 169.4 L823.6 182.4 L826.2 186 L827.3 192.4 L828.8 189.4 L830.4 183.4" fill="none" stroke="#63a9d8" stroke-width="0.7" stroke-linejoin="round" stroke-linecap="round" />
<path d="M819.4 221.4 L823.6 208.4 L826.2 204.8 L827.3 198.4 L828.8 201.4 L830.4 207.4" fill="none" stroke="#63a9d8" stroke-width="0.7" stroke-linejoin="round" stroke-linecap="round" />
<path d="M819.4 163.4 Q815.7 195.6 819.4 227.8 Q823.1 195.6 819.4 163.4 Z" fill="none" stroke="#63a9d8" stroke-width="0.7" stroke-linejoin="round" stroke-linecap="round" />
<path d="M819.4 168 Q817.4 195.5 819.4 223 Q821.4 195.5 819.4 168 Z" fill="none" stroke="#63a9d8" stroke-width="0.7" stroke-linejoin="round" stroke-linecap="round" />
<path d="M819.4 176 Q818.6 195.5 819.4 215 Q820.2 195.5 819.4 176 Z" fill="none" stroke="#63a9d8" stroke-width="0.7" stroke-linejoin="round" stroke-linecap="round" />
<path d="M848.4 162.2 L847.41 162.2 L846.4 162.21 L845.37 162.23 L844.33 162.27 L843.28 162.35 L842.23 162.48 L841.19 162.67 L840.16 162.94 L839.16 163.32 L838.2 163.81 L837.29 164.45 L836.43 165.24 L835.65 166.21 L834.94 167.35 L834.32 168.67 L833.77 170.14 L833.3 171.76 L832.89 173.49 L832.53 175.3 L832.21 177.16 L831.92 179.05 L831.64 180.95 L831.37 182.84 L831.11 184.7 L830.85 186.54 L830.59 188.36 L830.35 190.15 L830.11 191.91 L829.89 193.66 L829.69 195.4 L829.51 197.14 L829.38 198.89 L829.29 200.65 L829.27 202.44 L829.3 204.26 L829.42 206.1 L829.61 207.96 L829.9 209.85 L830.27 211.75 L830.73 213.64 L831.29 215.5 L831.93 217.31 L832.66 219.04 L833.46 220.66 L834.32 222.13 L835.23 223.45 L836.17 224.59 L837.13 225.56 L838.09 226.35 L839.05 226.99 L840 227.48 L840.94 227.86 L841.86 228.13 L842.78 228.32 L843.7 228.45 L844.62 228.53 L845.54 228.57 L846.48 228.59 L847.43 228.6 L848.4 228.6" fill="none" stroke="#63a9d8" stroke-width="0.7" stroke-linejoin="round" stroke-linecap="round" />
<path d="M848.4 164.8 L847.52 164.8 L846.63 164.81 L845.71 164.83 L844.78 164.87 L843.85 164.94 L842.92 165.06 L842 165.23 L841.1 165.48 L840.24 165.83 L839.42 166.28 L838.65 166.87 L837.95 167.6 L837.31 168.49 L836.75 169.55 L836.25 170.76 L835.82 172.12 L835.45 173.61 L835.13 175.2 L834.84 176.87 L834.57 178.59 L834.3 180.33 L834.04 182.08 L833.77 183.82 L833.5 185.54 L833.22 187.24 L832.93 188.91 L832.65 190.56 L832.38 192.18 L832.12 193.8 L831.89 195.4 L831.69 197 L831.53 198.62 L831.42 200.24 L831.38 201.89 L831.42 203.56 L831.53 205.26 L831.73 206.98 L832.01 208.72 L832.39 210.47 L832.85 212.21 L833.39 213.93 L834.01 215.6 L834.71 217.19 L835.46 218.68 L836.25 220.04 L837.08 221.25 L837.92 222.31 L838.76 223.2 L839.59 223.93 L840.41 224.52 L841.22 224.97 L842.01 225.32 L842.79 225.57 L843.56 225.74 L844.33 225.86 L845.11 225.93 L845.91 225.97 L846.72 225.99 L847.55 226 L848.4 226" fill="none" stroke="#63a9d8" stroke-width="0.7" stroke-linejoin="round" stroke-linecap="round" />
<path d="M848.4 168.2 L847.7 168.2 L846.97 168.21 L846.24 168.22 L845.5 168.26 L844.75 168.32 L844 168.43 L843.26 168.59 L842.53 168.81 L841.83 169.11 L841.16 169.52 L840.52 170.04 L839.94 170.69 L839.4 171.48 L838.92 172.42 L838.5 173.5 L838.13 174.71 L837.82 176.03 L837.54 177.45 L837.29 178.93 L837.07 180.46 L836.86 182.01 L836.66 183.56 L836.45 185.11 L836.25 186.64 L836.04 188.15 L835.84 189.63 L835.64 191.1 L835.44 192.54 L835.26 193.97 L835.09 195.4 L834.95 196.83 L834.84 198.26 L834.77 199.7 L834.74 201.17 L834.77 202.65 L834.86 204.16 L835 205.69 L835.22 207.24 L835.5 208.79 L835.85 210.34 L836.27 211.87 L836.75 213.35 L837.29 214.77 L837.87 216.09 L838.5 217.3 L839.16 218.38 L839.83 219.32 L840.51 220.11 L841.19 220.76 L841.86 221.28 L842.52 221.69 L843.17 221.99 L843.81 222.21 L844.45 222.37 L845.09 222.48 L845.73 222.54 L846.38 222.58 L847.04 222.59 L847.71 222.6 L848.4 222.6" fill="none" stroke="#63a9d8" stroke-width="0.7" stroke-linejoin="round" stroke-linecap="round" />
<path d="M848.4 174.4 L847.97 174.4 L847.54 174.4 L847.1 174.42 L846.66 174.45 L846.21 174.5 L845.76 174.58 L845.3 174.7 L844.83 174.87 L844.36 175.11 L843.9 175.42 L843.44 175.82 L842.99 176.32 L842.56 176.93 L842.16 177.66 L841.8 178.49 L841.47 179.42 L841.19 180.45 L840.95 181.54 L840.75 182.68 L840.6 183.86 L840.48 185.06 L840.38 186.26 L840.32 187.45 L840.27 188.63 L840.24 189.8 L840.22 190.95 L840.21 192.08 L840.2 193.19 L840.2 194.3 L840.2 195.4 L840.2 196.5 L840.2 197.61 L840.21 198.72 L840.22 199.85 L840.24 201 L840.27 202.17 L840.32 203.35 L840.38 204.54 L840.48 205.74 L840.6 206.94 L840.75 208.12 L840.95 209.26 L841.19 210.35 L841.47 211.38 L841.8 212.31 L842.16 213.14 L842.56 213.87 L842.99 214.48 L843.44 214.98 L843.9 215.38 L844.36 215.69 L844.83 215.93 L845.3 216.1 L845.76 216.22 L846.21 216.3 L846.66 216.35 L847.1 216.38 L847.54 216.4 L847.97 216.4 L848.4 216.4" fill="none" stroke="#63a9d8" stroke-width="0.7" stroke-linejoin="round" stroke-linecap="round" />
<path d="M848.4 183.4 L848.21 183.4 L848.02 183.4 L847.83 183.41 L847.64 183.43 L847.44 183.45 L847.24 183.5 L847.04 183.57 L846.83 183.67 L846.63 183.8 L846.42 183.98 L846.22 184.21 L846.02 184.5 L845.84 184.85 L845.66 185.26 L845.5 185.74 L845.36 186.27 L845.23 186.86 L845.13 187.48 L845.04 188.13 L844.97 188.81 L844.92 189.49 L844.88 190.18 L844.85 190.86 L844.83 191.53 L844.82 192.2 L844.81 192.85 L844.8 193.5 L844.8 194.14 L844.8 194.77 L844.8 195.4 L844.8 196.03 L844.8 196.66 L844.8 197.3 L844.81 197.95 L844.82 198.6 L844.83 199.27 L844.85 199.94 L844.88 200.62 L844.92 201.31 L844.97 201.99 L845.04 202.67 L845.13 203.32 L845.23 203.94 L845.36 204.53 L845.5 205.06 L845.66 205.54 L845.84 205.95 L846.02 206.3 L846.22 206.59 L846.42 206.82 L846.63 207 L846.83 207.13 L847.04 207.23 L847.24 207.3 L847.44 207.35 L847.64 207.37 L847.83 207.39 L848.02 207.4 L848.21 207.4 L848.4 207.4" fill="none" stroke="#63a9d8" stroke-width="0.7" stroke-linejoin="round" stroke-linecap="round" />
<ellipse cx="833.6" cy="194.4" rx="0.8" ry="2.6" fill="none" stroke="#4796cc" stroke-width="0.7"/>
<ellipse cx="845.6" cy="194.6" rx="1" ry="1.6" fill="none" stroke="#4796cc" stroke-width="0.7"/>
<path d="M848.7 161.4 Q847.2 198 848.7 234.6 Q850.2 198 848.7 161.4 Z" fill="#2a7fba" stroke="#2a7fba" stroke-width="0.5" stroke-linejoin="round" stroke-linecap="round" />
<path d="M849.2 163.4 L849.8 163.4 L850.41 163.43 L851.02 163.48 L851.63 163.58 L852.25 163.73 L852.87 163.95 L853.5 164.25 L854.12 164.64 L854.74 165.13 L855.36 165.73 L855.95 166.46 L856.53 167.31 L857.09 168.3 L857.61 169.41 L858.1 170.65 L858.54 172 L858.94 173.45 L859.29 174.99 L859.6 176.61 L859.86 178.27 L860.08 179.98 L860.25 181.7 L860.39 183.44 L860.5 185.18 L860.58 186.91 L860.64 188.64 L860.67 190.34 L860.69 192.04 L860.7 193.72 L860.7 195.4 L860.7 197.08 L860.69 198.76 L860.67 200.46 L860.64 202.16 L860.58 203.89 L860.5 205.62 L860.39 207.36 L860.25 209.1 L860.08 210.82 L859.86 212.53 L859.6 214.19 L859.29 215.81 L858.94 217.35 L858.54 218.8 L858.1 220.15 L857.61 221.39 L857.09 222.5 L856.53 223.49 L855.95 224.34 L855.36 225.07 L854.74 225.67 L854.12 226.16 L853.5 226.55 L852.87 226.85 L852.25 227.07 L851.63 227.22 L851.02 227.32 L850.41 227.37 L849.8 227.4 L849.2 227.4" fill="none" stroke="#63a9d8" stroke-width="0.7" stroke-linejoin="round" stroke-linecap="round" />
<path d="M849.2 165.8 L849.67 165.8 L850.13 165.82 L850.61 165.88 L851.08 165.97 L851.56 166.11 L852.04 166.31 L852.53 166.59 L853.01 166.95 L853.49 167.4 L853.96 167.96 L854.43 168.63 L854.88 169.42 L855.3 170.33 L855.71 171.36 L856.08 172.5 L856.43 173.75 L856.74 175.1 L857.01 176.52 L857.25 178.02 L857.45 179.56 L857.62 181.13 L857.76 182.73 L857.86 184.34 L857.95 185.95 L858.01 187.55 L858.05 189.14 L858.08 190.72 L858.09 192.29 L858.1 193.85 L858.1 195.4 L858.1 196.95 L858.09 198.51 L858.08 200.08 L858.05 201.66 L858.01 203.25 L857.95 204.85 L857.86 206.46 L857.76 208.07 L857.62 209.67 L857.45 211.24 L857.25 212.78 L857.01 214.28 L856.74 215.7 L856.43 217.05 L856.08 218.3 L855.71 219.44 L855.3 220.47 L854.88 221.38 L854.43 222.17 L853.96 222.84 L853.49 223.4 L853.01 223.85 L852.53 224.21 L852.04 224.49 L851.56 224.69 L851.08 224.83 L850.61 224.92 L850.13 224.98 L849.67 225 L849.2 225" fill="none" stroke="#63a9d8" stroke-width="0.7" stroke-linejoin="round" stroke-linecap="round" />
<path d="M849.2 169.8 L849.53 169.8 L849.86 169.82 L850.2 169.87 L850.53 169.94 L850.87 170.07 L851.21 170.24 L851.55 170.48 L851.9 170.79 L852.24 171.18 L852.57 171.67 L852.9 172.25 L853.22 172.93 L853.52 173.72 L853.81 174.61 L854.07 175.6 L854.32 176.68 L854.54 177.84 L854.73 179.07 L854.9 180.36 L855.04 181.7 L855.16 183.06 L855.26 184.44 L855.33 185.83 L855.39 187.23 L855.43 188.61 L855.46 189.99 L855.48 191.36 L855.49 192.71 L855.5 194.06 L855.5 195.4 L855.5 196.74 L855.49 198.09 L855.48 199.44 L855.46 200.81 L855.43 202.19 L855.39 203.57 L855.33 204.97 L855.26 206.36 L855.16 207.74 L855.04 209.1 L854.9 210.44 L854.73 211.73 L854.54 212.96 L854.32 214.12 L854.07 215.2 L853.81 216.19 L853.52 217.08 L853.22 217.87 L852.9 218.55 L852.57 219.13 L852.24 219.62 L851.9 220.01 L851.55 220.32 L851.21 220.56 L850.87 220.73 L850.53 220.86 L850.2 220.93 L849.86 220.98 L849.53 221 L849.2 221" fill="none" stroke="#63a9d8" stroke-width="0.7" stroke-linejoin="round" stroke-linecap="round" />
<path d="M849.2 176.8 L849.39 176.8 L849.59 176.82 L849.78 176.85 L849.98 176.9 L850.18 176.99 L850.38 177.12 L850.58 177.29 L850.78 177.52 L850.98 177.81 L851.18 178.16 L851.37 178.58 L851.56 179.07 L851.74 179.65 L851.91 180.29 L852.06 181.01 L852.21 181.8 L852.33 182.64 L852.45 183.54 L852.55 184.48 L852.63 185.44 L852.7 186.44 L852.76 187.44 L852.8 188.45 L852.84 189.46 L852.86 190.47 L852.88 191.47 L852.89 192.46 L852.9 193.45 L852.9 194.43 L852.9 195.4 L852.9 196.37 L852.9 197.35 L852.89 198.34 L852.88 199.33 L852.86 200.33 L852.84 201.34 L852.8 202.35 L852.76 203.36 L852.7 204.36 L852.63 205.36 L852.55 206.32 L852.45 207.26 L852.33 208.16 L852.21 209 L852.06 209.79 L851.91 210.51 L851.74 211.15 L851.56 211.73 L851.37 212.22 L851.18 212.64 L850.98 212.99 L850.78 213.28 L850.58 213.51 L850.38 213.68 L850.18 213.81 L849.98 213.9 L849.78 213.95 L849.59 213.98 L849.39 214 L849.2 214" fill="none" stroke="#63a9d8" stroke-width="0.7" stroke-linejoin="round" stroke-linecap="round" />
<ellipse cx="852.3" cy="194.2" rx="1.1" ry="1.8" fill="none" stroke="#4796cc" stroke-width="0.7"/>
<path d="M875.75 220.67 L875.48 222.66 L875.17 224.42 L874.83 225.93 L874.45 227.17 L874.06 228.16 L873.65 228.92 L873.24 229.48 L872.83 229.87 L872.43 230.12 L872.03 230.28 L871.64 230.36 L871.25 230.39 L870.87 230.4 L870.48 230.4 L870.1 230.38 L869.71 230.33 L869.31 230.23 L868.91 230.04 L868.51 229.73 L868.1 229.28 L867.69 228.65 L867.29 227.8 L866.9 226.72 L866.54 225.37 L866.2 223.76 L865.91 221.91 L865.65 219.85 L865.44 217.62 L865.28 215.28 L865.15 212.87 L865.06 210.43 L864.99 208 L864.95 205.59 L864.92 203.22 L864.91 200.88 L864.9 198.58 L864.9 196.29 L864.9 194.02 L864.9 191.72 L864.91 189.41 L864.93 187.06 L864.96 184.67 L865.01 182.25 L865.09 179.82 L865.19 177.39 L865.34 175 L865.52 172.7 L865.75 170.53 L866.02 168.54 L866.33 166.78 L866.67 165.27 L867.05 164.03 L867.44 163.04 L867.85 162.28 L868.26 161.72 L868.67 161.33 L869.07 161.08 L869.47 160.92 L869.86 160.84 L870.25 160.81 L870.63 160.8 L871.02 160.8 L871.4 160.82 L871.79 160.87 L872.19 160.97 L872.59 161.16 L872.99 161.47 L873.4 161.92 L873.81 162.55 L874.21 163.4 L874.6 164.48 L874.96 165.83 L875.3 167.44 L875.59 169.29 L875.85 171.35 L876.06 173.58 L876.22 175.92 L876.35 178.33 L876.44 180.77 L876.51 183.2 L876.55 185.61 L876.58 187.98 L876.59 190.32 L876.6 192.62 L876.6 194.91 L876.6 197.18 L876.6 199.48 L876.59 201.79 L876.57 204.14 L876.54 206.53 L876.49 208.95 L876.41 211.38 L876.31 213.81 L876.16 216.2 L875.98 218.5 Z" fill="none" stroke="#4796cc" stroke-width="0.7" stroke-linejoin="round" stroke-linecap="round" />
<path d="M875.87 219.38 L875.64 221.26 L875.37 222.93 L875.07 224.36 L874.75 225.54 L874.41 226.48 L874.06 227.2 L873.7 227.73 L873.35 228.09 L873 228.34 L872.66 228.48 L872.32 228.56 L871.98 228.59 L871.65 228.6 L871.32 228.6 L870.99 228.58 L870.65 228.54 L870.31 228.44 L869.96 228.26 L869.61 227.97 L869.26 227.54 L868.91 226.94 L868.56 226.14 L868.23 225.11 L867.91 223.83 L867.62 222.3 L867.37 220.55 L867.15 218.59 L866.97 216.48 L866.82 214.26 L866.71 211.97 L866.63 209.66 L866.58 207.36 L866.54 205.08 L866.52 202.83 L866.51 200.61 L866.5 198.42 L866.5 196.26 L866.5 194.1 L866.5 191.93 L866.51 189.73 L866.53 187.5 L866.55 185.24 L866.6 182.94 L866.66 180.63 L866.75 178.33 L866.88 176.06 L867.03 173.88 L867.23 171.82 L867.46 169.94 L867.73 168.27 L868.03 166.84 L868.35 165.66 L868.69 164.72 L869.04 164 L869.4 163.47 L869.75 163.11 L870.1 162.86 L870.44 162.72 L870.78 162.64 L871.12 162.61 L871.45 162.6 L871.78 162.6 L872.11 162.62 L872.45 162.66 L872.79 162.76 L873.14 162.94 L873.49 163.23 L873.84 163.66 L874.19 164.26 L874.54 165.06 L874.87 166.09 L875.19 167.37 L875.48 168.9 L875.73 170.65 L875.95 172.61 L876.13 174.72 L876.28 176.94 L876.39 179.23 L876.47 181.54 L876.52 183.84 L876.56 186.12 L876.58 188.37 L876.59 190.59 L876.6 192.78 L876.6 194.94 L876.6 197.1 L876.6 199.27 L876.59 201.47 L876.57 203.7 L876.55 205.96 L876.5 208.26 L876.44 210.57 L876.35 212.87 L876.22 215.14 L876.07 217.32 Z" fill="none" stroke="#4796cc" stroke-width="0.7" stroke-linejoin="round" stroke-linecap="round" />
<path d="M876.02 216.78 L875.84 218.46 L875.62 219.95 L875.39 221.22 L875.13 222.27 L874.86 223.11 L874.58 223.75 L874.3 224.22 L874.03 224.55 L873.75 224.77 L873.48 224.9 L873.21 224.97 L872.94 224.99 L872.68 225 L872.42 225 L872.15 224.99 L871.89 224.94 L871.62 224.85 L871.34 224.69 L871.07 224.44 L870.79 224.06 L870.51 223.52 L870.23 222.81 L869.97 221.89 L869.72 220.75 L869.49 219.39 L869.29 217.83 L869.11 216.08 L868.97 214.2 L868.86 212.22 L868.77 210.19 L868.71 208.13 L868.66 206.08 L868.63 204.04 L868.61 202.04 L868.6 200.06 L868.6 198.12 L868.6 196.19 L868.6 194.26 L868.6 192.33 L868.61 190.37 L868.62 188.38 L868.64 186.37 L868.68 184.32 L868.73 182.27 L868.8 180.21 L868.9 178.2 L869.02 176.25 L869.18 174.42 L869.36 172.74 L869.58 171.25 L869.81 169.98 L870.07 168.93 L870.34 168.09 L870.62 167.45 L870.9 166.98 L871.17 166.65 L871.45 166.43 L871.72 166.3 L871.99 166.23 L872.26 166.21 L872.52 166.2 L872.78 166.2 L873.05 166.21 L873.31 166.26 L873.58 166.35 L873.86 166.51 L874.13 166.76 L874.41 167.14 L874.69 167.68 L874.97 168.39 L875.23 169.31 L875.48 170.45 L875.71 171.81 L875.91 173.37 L876.09 175.12 L876.23 177 L876.34 178.98 L876.43 181.01 L876.49 183.07 L876.54 185.12 L876.57 187.16 L876.59 189.16 L876.6 191.14 L876.6 193.08 L876.6 195.01 L876.6 196.94 L876.6 198.87 L876.59 200.83 L876.58 202.82 L876.56 204.83 L876.52 206.88 L876.47 208.93 L876.4 210.99 L876.3 213 L876.18 214.95 Z" fill="none" stroke="#4796cc" stroke-width="0.7" stroke-linejoin="round" stroke-linecap="round" />
<path d="M876.17 211.81 L876.04 213.1 L875.88 214.23 L875.71 215.21 L875.52 216.01 L875.32 216.65 L875.11 217.14 L874.91 217.5 L874.7 217.76 L874.5 217.92 L874.3 218.02 L874.1 218.07 L873.9 218.1 L873.71 218.1 L873.52 218.1 L873.32 218.09 L873.13 218.06 L872.93 217.99 L872.72 217.87 L872.52 217.67 L872.31 217.38 L872.11 216.97 L871.9 216.42 L871.71 215.72 L871.52 214.85 L871.36 213.81 L871.21 212.61 L871.08 211.28 L870.97 209.84 L870.89 208.32 L870.83 206.76 L870.78 205.19 L870.75 203.62 L870.72 202.06 L870.71 200.53 L870.7 199.02 L870.7 197.53 L870.7 196.05 L870.7 194.58 L870.7 193.09 L870.71 191.6 L870.71 190.08 L870.73 188.53 L870.76 186.97 L870.79 185.4 L870.85 183.82 L870.92 182.28 L871.01 180.79 L871.13 179.39 L871.26 178.1 L871.42 176.97 L871.59 175.99 L871.78 175.19 L871.98 174.55 L872.19 174.06 L872.39 173.7 L872.6 173.44 L872.8 173.28 L873 173.18 L873.2 173.13 L873.4 173.1 L873.59 173.1 L873.78 173.1 L873.98 173.11 L874.17 173.14 L874.37 173.21 L874.58 173.33 L874.78 173.53 L874.99 173.82 L875.19 174.23 L875.4 174.78 L875.59 175.48 L875.78 176.35 L875.94 177.39 L876.09 178.59 L876.22 179.92 L876.33 181.36 L876.41 182.88 L876.47 184.44 L876.52 186.01 L876.55 187.58 L876.58 189.14 L876.59 190.67 L876.6 192.18 L876.6 193.67 L876.6 195.15 L876.6 196.62 L876.6 198.11 L876.59 199.6 L876.59 201.12 L876.57 202.67 L876.54 204.23 L876.51 205.8 L876.45 207.38 L876.38 208.92 L876.29 210.41 Z" fill="none" stroke="#4796cc" stroke-width="0.7" stroke-linejoin="round" stroke-linecap="round" />
<path d="M875.2 163 C877.4 175 877.4 216 875.2 228" fill="none" stroke="#2a7fba" stroke-width="1.4" stroke-linejoin="round" stroke-linecap="round" />
<ellipse cx="902.1" cy="195.3" rx="3.4" ry="35.4" fill="none" stroke="#2a7fba" stroke-width="1.3"/>
<ellipse cx="902.3" cy="195.3" rx="1.9" ry="32.5" fill="none" stroke="#2a7fba" stroke-width="1.1"/>
<path d="M902.3 170 Q901.5 195.5 902.3 221 Q903.1 195.5 902.3 170 Z" fill="none" stroke="#2a7fba" stroke-width="0.8" stroke-linejoin="round" stroke-linecap="round" />
<path d="M636 283.2 L654.1 272.3 L671.4 270.7" fill="none" stroke="#231815" stroke-width="1.3" stroke-linejoin="round" stroke-linecap="round" />
<path d="M671.4 270.7 L673.4 261.2" fill="none" stroke="#231815" stroke-width="1.3" stroke-linejoin="round" stroke-linecap="round" />
<path d="M669.8 251.6 L661.3 246.3 L648.8 257.9 L654.1 272.3" fill="none" stroke="#231815" stroke-width="1.3" stroke-linejoin="round" stroke-linecap="round" />
<text x="674.6" y="259.8" font-size="11.6" font-weight="normal" font-style="normal" fill="#231815" text-anchor="middle" stroke="#231815" stroke-width="0.35">O</text>
<path d="M643.4 253.2 Q635 267.6 643.4 282" fill="none" stroke="#231815" stroke-width="1.3" stroke-linejoin="round" stroke-linecap="round" />
<path d="M684.2 252 Q692.8 266.4 684.2 280.8" fill="none" stroke="#231815" stroke-width="1.3" stroke-linejoin="round" stroke-linecap="round" />
<text x="686.6" y="282" font-size="9" font-weight="bold" font-style="normal" fill="#231815" text-anchor="start" stroke="#231815" stroke-width="0.25">n</text>
<path d="M671.4 270.7 L711.9 272.3 L728.3 274.8" fill="none" stroke="#1c78b8" stroke-width="1.3" stroke-linejoin="round" stroke-linecap="round" />
<path d="M728.3 274.8 L728.8 284.6" fill="none" stroke="#1c78b8" stroke-width="1.3" stroke-linejoin="round" stroke-linecap="round" />
<path d="M724.6 292.4 L715.5 297.2 L704.2 285.1 L711.9 272.3" fill="none" stroke="#1c78b8" stroke-width="1.3" stroke-linejoin="round" stroke-linecap="round" />
<text x="729.3" y="294.1" font-size="11.6" font-weight="normal" font-style="normal" fill="#1c78b8" text-anchor="middle" stroke="#1c78b8" stroke-width="0.35">O</text>
<path d="M698 254.4 Q689.6 268.2 698 282" fill="none" stroke="#1c78b8" stroke-width="1.3" stroke-linejoin="round" stroke-linecap="round" />
<path d="M728.3 274.8 L744.4 268" fill="none" stroke="#1c78b8" stroke-width="1.3" stroke-linejoin="round" stroke-linecap="round" />
<text x="749.8" y="268.9" font-size="11.6" font-weight="normal" font-style="normal" fill="#1c78b8" text-anchor="middle" stroke="#1c78b8" stroke-width="0.35">O</text>
<path d="M755.2 268.8 L763.7 273.6 L778.2 266.3 L792.7 274 L807.1 266.8 L815.6 272" fill="none" stroke="#1c78b8" stroke-width="1.3" stroke-linejoin="round" stroke-linecap="round" />
<text x="820.4" y="277.8" font-size="11.6" font-weight="normal" font-style="normal" fill="#1c78b8" text-anchor="middle" stroke="#1c78b8" stroke-width="0.35">O</text>
<path d="M825.4 271.6 L834.8 267.5 L846.9 276" fill="none" stroke="#1c78b8" stroke-width="1.3" stroke-linejoin="round" stroke-linecap="round" />
<path d="M831.2 252.3 L834.8 267.5 L839.6 252.3" fill="none" stroke="#1c78b8" stroke-width="1.3" stroke-linejoin="round" stroke-linecap="round" />
<path d="M842 253.2 Q849.6 266.4 842 279.6" fill="none" stroke="#1c78b8" stroke-width="1.3" stroke-linejoin="round" stroke-linecap="round" />
<text x="845" y="283.2" font-size="9" font-weight="bold" font-style="normal" fill="#1c78b8" text-anchor="start" stroke="#1c78b8" stroke-width="0.25">m</text>
<text x="682.6" y="315.8" font-size="15.6" fill="#231815" textLength="137.6" lengthAdjust="spacingAndGlyphs">P(DHF-<tspan font-style="italic">co</tspan>-DMDOP)</text>
</g>
<g id="panel-c">
<text x="-0.2" y="415" font-size="19.2" font-weight="bold" font-style="normal" fill="#000000" text-anchor="start" >c</text>
<rect x="65.6" y="447.8" width="368.6" height="297.3" fill="none" stroke="#000000" stroke-width="1.4"/>
<line x1="65.6" y1="447.8" x2="70.8" y2="447.8" stroke="#000000" stroke-width="1.3" stroke-linecap="butt"/>
<text x="60.2" y="453.4" font-size="16.2" font-weight="bold" font-style="normal" fill="#000000" text-anchor="end" >20</text>
<line x1="65.6" y1="522.12" x2="70.8" y2="522.12" stroke="#000000" stroke-width="1.3" stroke-linecap="butt"/>
<text x="60.2" y="527.73" font-size="16.2" font-weight="bold" font-style="normal" fill="#000000" text-anchor="end" >15</text>
<line x1="65.6" y1="596.45" x2="70.8" y2="596.45" stroke="#000000" stroke-width="1.3" stroke-linecap="butt"/>
<text x="60.2" y="602.05" font-size="16.2" font-weight="bold" font-style="normal" fill="#000000" text-anchor="end" >10</text>
<line x1="65.6" y1="670.78" x2="70.8" y2="670.78" stroke="#000000" stroke-width="1.3" stroke-linecap="butt"/>
<text x="60.2" y="676.38" font-size="16.2" font-weight="bold" font-style="normal" fill="#000000" text-anchor="end" >5</text>
<line x1="65.6" y1="745.1" x2="70.8" y2="745.1" stroke="#000000" stroke-width="1.3" stroke-linecap="butt"/>
<text x="60.2" y="750.7" font-size="16.2" font-weight="bold" font-style="normal" fill="#000000" text-anchor="end" >0</text>
<line x1="65.6" y1="745.1" x2="65.6" y2="739.9" stroke="#000000" stroke-width="1.3" stroke-linecap="butt"/>
<text x="65.2" y="764" font-size="16.2" font-weight="bold" font-style="normal" fill="#000000" text-anchor="middle" >0</text>
<line x1="139.32" y1="745.1" x2="139.32" y2="739.9" stroke="#000000" stroke-width="1.3" stroke-linecap="butt"/>
<text x="138.92" y="764" font-size="16.2" font-weight="bold" font-style="normal" fill="#000000" text-anchor="middle" >4</text>
<line x1="213.04" y1="745.1" x2="213.04" y2="739.9" stroke="#000000" stroke-width="1.3" stroke-linecap="butt"/>
<text x="212.64" y="764" font-size="16.2" font-weight="bold" font-style="normal" fill="#000000" text-anchor="middle" >8</text>
<line x1="286.76" y1="745.1" x2="286.76" y2="739.9" stroke="#000000" stroke-width="1.3" stroke-linecap="butt"/>
<text x="286.36" y="764" font-size="16.2" font-weight="bold" font-style="normal" fill="#000000" text-anchor="middle" >12</text>
<line x1="360.48" y1="745.1" x2="360.48" y2="739.9" stroke="#000000" stroke-width="1.3" stroke-linecap="butt"/>
<text x="360.08" y="764" font-size="16.2" font-weight="bold" font-style="normal" fill="#000000" text-anchor="middle" >16</text>
<line x1="434.2" y1="745.1" x2="434.2" y2="739.9" stroke="#000000" stroke-width="1.3" stroke-linecap="butt"/>
<text x="434.6" y="764" font-size="16.2" font-weight="bold" font-style="normal" fill="#000000" text-anchor="middle" >20</text>
<line x1="428.8" y1="660.4" x2="434.2" y2="660.4" stroke="#000000" stroke-width="1.3" stroke-linecap="butt"/>
<line x1="428.8" y1="702.7" x2="434.2" y2="702.7" stroke="#000000" stroke-width="1.3" stroke-linecap="butt"/>
<line x1="428.8" y1="745.1" x2="434.2" y2="745.1" stroke="#000000" stroke-width="1.3" stroke-linecap="butt"/>
<text x="443.8" y="664" font-size="16" font-weight="bold" font-style="normal" fill="#000000" text-anchor="start" textLength="22.3" lengthAdjust="spacingAndGlyphs" >3.0</text>
<text x="443.8" y="706.6" font-size="16" font-weight="bold" font-style="normal" fill="#000000" text-anchor="start" textLength="22.3" lengthAdjust="spacingAndGlyphs" >2.0</text>
<text x="443.8" y="748" font-size="16" font-weight="bold" font-style="normal" fill="#000000" text-anchor="start" textLength="22.3" lengthAdjust="spacingAndGlyphs" >1.0</text>
<text x="202" y="782.8" font-size="17.2" font-weight="bold" font-style="italic" fill="#231815" text-anchor="start" textLength="14.6" lengthAdjust="spacingAndGlyphs" >M</text>
<text x="217.2" y="786.2" font-size="10.6" font-weight="bold" font-style="normal" fill="#231815" text-anchor="start" textLength="37" lengthAdjust="spacingAndGlyphs" >n,calcd</text>
<text x="254.8" y="782.8" font-size="17.8" font-weight="bold" font-style="normal" fill="#231815" text-anchor="start" textLength="69.6" lengthAdjust="spacingAndGlyphs" >(kg/mol)</text>
<g transform="translate(30.6 661.6) rotate(-90)">
<text x="0" y="0" font-size="17.2" font-weight="bold" font-style="italic" fill="#231815" text-anchor="start" textLength="14.6" lengthAdjust="spacingAndGlyphs" >M</text>
<text x="15.4" y="5.6" font-size="10.6" font-weight="bold" font-style="normal" fill="#231815" text-anchor="start" textLength="30.6" lengthAdjust="spacingAndGlyphs" >n,SEC</text>
<text x="52.6" y="0" font-size="17.8" font-weight="bold" font-style="normal" fill="#231815" text-anchor="start" textLength="70.2" lengthAdjust="spacingAndGlyphs" >(kg/mol)</text>
</g>
<g transform="translate(459.4 614.6) rotate(-90)">
<text x="0" y="0" font-size="17.2" font-weight="bold" font-style="italic" fill="#231815" text-anchor="start" textLength="14.4" lengthAdjust="spacingAndGlyphs" >M</text>
<text x="14.6" y="5.8" font-size="10.4" font-weight="bold" font-style="normal" fill="#231815" text-anchor="start" textLength="9.6" lengthAdjust="spacingAndGlyphs" >W</text>
<text x="24" y="0" font-size="17.2" font-weight="bold" font-style="italic" fill="#231815" text-anchor="start" >/</text>
<text x="29.4" y="0" font-size="17.2" font-weight="bold" font-style="italic" fill="#231815" text-anchor="start" textLength="14.4" lengthAdjust="spacingAndGlyphs" >M</text>
<text x="44.2" y="5.8" font-size="10.4" font-weight="bold" font-style="normal" fill="#231815" text-anchor="start" >n</text>
</g>
<line x1="74.4" y1="737" x2="434.2" y2="447.8" stroke="#000000" stroke-width="2.1" stroke-dasharray="8 8.94"/>
<circle cx="176.9" cy="668.4" r="5.35" fill="#62b5d8"/>
<circle cx="248.8" cy="611.4" r="5.35" fill="#62b5d8"/>
<circle cx="341.7" cy="534.2" r="5.35" fill="#62b5d8"/>
<circle cx="418.7" cy="453.9" r="5.35" fill="#62b5d8"/>
<circle cx="176.9" cy="729.7" r="5.35" fill="#86cf85"/>
<circle cx="248.8" cy="728.4" r="5.35" fill="#86cf85"/>
<circle cx="341.7" cy="730.6" r="5.35" fill="#86cf85"/>
<circle cx="415.6" cy="729.7" r="5.35" fill="#86cf85"/>
<path d="M167 657.9 L159.2 651.4 L124 651.4" fill="none" stroke="#000000" stroke-width="1.2" stroke-linejoin="round" stroke-linecap="round" />
<path d="M119.6 651.4 L128.4 648 L126.2 651.4 L128.4 654.8 Z" fill="#000000"/>
<path d="M376.5 719.1 L383.3 712.3 L420 712.3" fill="none" stroke="#000000" stroke-width="1.2" stroke-linejoin="round" stroke-linecap="round" />
<path d="M424.6 712.3 L415.8 708.9 L418 712.3 L415.8 715.7 Z" fill="#000000"/>
<circle cx="349.6" cy="583.9" r="5.35" fill="#62b5d8"/>
<text x="364" y="589.2" font-size="17.2" font-weight="bold" font-style="italic" fill="#62b5d8" text-anchor="start" textLength="14.6" lengthAdjust="spacingAndGlyphs" >M</text>
<text x="379.2" y="595.6" font-size="10.8" font-weight="bold" font-style="normal" fill="#62b5d8" text-anchor="start" textLength="32" lengthAdjust="spacingAndGlyphs" >n,SEC</text>
<circle cx="349.6" cy="613.3" r="5.35" fill="#86cf85"/>
<text x="364" y="618.8" font-size="17.2" font-weight="bold" font-style="italic" fill="#86cf85" text-anchor="start" textLength="14.6" lengthAdjust="spacingAndGlyphs" >M</text>
<text x="379.4" y="622.8" font-size="10.8" font-weight="bold" font-style="normal" fill="#86cf85" text-anchor="start" textLength="9.8" lengthAdjust="spacingAndGlyphs" >W</text>
<text x="389.2" y="618.8" font-size="17.2" font-weight="bold" font-style="italic" fill="#86cf85" text-anchor="start" >/</text>
<text x="394.2" y="618.8" font-size="17.2" font-weight="bold" font-style="italic" fill="#86cf85" text-anchor="start" textLength="14.6" lengthAdjust="spacingAndGlyphs" >M</text>
<text x="410" y="622.8" font-size="10.8" font-weight="bold" font-style="normal" fill="#86cf85" text-anchor="start" >n</text>
<line x1="88.9" y1="576.3" x2="239.1" y2="576.3" stroke="#000000" stroke-width="1.3" stroke-linecap="butt"/>
<line x1="108.5" y1="576.3" x2="108.5" y2="578.7" stroke="#000000" stroke-width="1" stroke-linecap="butt"/>
<text x="107.9" y="590.8" font-size="11.8" font-weight="bold" font-style="normal" fill="#000000" text-anchor="middle" textLength="13.1" lengthAdjust="spacingAndGlyphs" >12</text>
<line x1="145.55" y1="576.3" x2="145.55" y2="578.7" stroke="#000000" stroke-width="1" stroke-linecap="butt"/>
<text x="144.95" y="590.8" font-size="11.8" font-weight="bold" font-style="normal" fill="#000000" text-anchor="middle" textLength="13.1" lengthAdjust="spacingAndGlyphs" >14</text>
<line x1="182.6" y1="576.3" x2="182.6" y2="578.7" stroke="#000000" stroke-width="1" stroke-linecap="butt"/>
<text x="182" y="590.8" font-size="11.8" font-weight="bold" font-style="normal" fill="#000000" text-anchor="middle" textLength="13.1" lengthAdjust="spacingAndGlyphs" >16</text>
<line x1="219.65" y1="576.3" x2="219.65" y2="578.7" stroke="#000000" stroke-width="1" stroke-linecap="butt"/>
<text x="219.05" y="590.8" font-size="11.8" font-weight="bold" font-style="normal" fill="#000000" text-anchor="middle" textLength="13.1" lengthAdjust="spacingAndGlyphs" >18</text>
<text x="164" y="607" font-size="12.4" font-weight="bold" font-style="normal" fill="#000000" text-anchor="middle" textLength="108.4" lengthAdjust="spacingAndGlyphs" >Elution Time (min)</text>
<path d="M89.02 576.12 L89.52 576.12 L90.02 576.12 L90.52 576.12 L91.02 576.12 L91.52 576.12 L92.02 576.12 L92.52 576.12 L93.02 576.12 L93.52 576.12 L94.02 576.12 L94.52 576.12 L95.02 576.12 L95.52 576.12 L96.02 576.12 L96.52 576.12 L97.02 576.12 L97.52 576.12 L98.02 576.12 L98.52 576.12 L99.02 576.12 L99.52 576.12 L100.02 576.12 L100.52 576.12 L101.02 576.12 L101.52 576.12 L102.02 576.11 L102.52 576.11 L103.02 576.1 L103.52 576.08 L104.02 576.07 L104.52 576.04 L105.02 576.02 L105.52 575.98 L106.02 575.94 L106.52 575.9 L107.02 575.85 L107.52 575.8 L108.02 575.75 L108.52 575.68 L109.02 575.62 L109.52 575.54 L110.02 575.46 L110.52 575.37 L111.02 575.26 L111.52 575.15 L112.02 575.03 L112.52 574.89 L113.02 574.75 L113.52 574.59 L114.02 574.42 L114.52 574.25 L115.02 574.06 L115.52 573.86 L116.02 573.65 L116.52 573.43 L117.02 573.19 L117.52 572.93 L118.02 572.65 L118.52 572.34 L119.02 572.01 L119.52 571.65 L120.02 571.27 L120.52 570.87 L121.02 570.43 L121.52 569.98 L122.02 569.5 L122.52 569.01 L123.02 568.49 L123.52 567.95 L124.02 567.39 L124.52 566.81 L125.02 566.2 L125.52 565.56 L126.02 564.89 L126.52 564.19 L127.02 563.46 L127.52 562.68 L128.02 561.87 L128.52 561.03 L129.02 560.15 L129.52 559.23 L130.02 558.28 L130.52 557.3 L131.02 556.28 L131.52 555.24 L132.02 554.16 L132.52 553.04 L133.02 551.88 L133.52 550.67 L134.02 549.42 L134.52 548.11 L135.02 546.75 L135.52 545.34 L136.02 543.88 L136.52 542.37 L137.02 540.83 L137.52 539.25 L138.02 537.64 L138.52 536.01 L139.02 534.35 L139.52 532.66 L140.02 530.95 L140.52 529.22 L141.02 527.46 L141.52 525.67 L142.02 523.85 L142.52 522 L143.02 520.12 L143.52 518.21 L144.02 516.27 L144.52 514.3 L145.02 512.3 L145.52 510.26 L146.02 508.18 L146.52 506.06 L147.02 503.91 L147.52 501.72 L148.02 499.51 L148.52 497.3 L149.02 495.08 L149.52 492.88 L150.02 490.7 L150.52 488.56 L151.02 486.46 L151.52 484.41 L152.02 482.43 L152.52 480.52 L153.02 478.7 L153.52 476.99 L154.02 475.41 L154.52 473.97 L155.02 472.66 L155.52 471.49 L156.02 470.45 L156.52 469.56 L157.02 468.82 L157.52 468.23 L158.02 467.82 L158.52 467.58 L159.02 467.53 L159.52 467.67 L160.02 467.99 L160.52 468.48 L161.02 469.13 L161.52 469.92 L162.02 470.85 L162.52 471.89 L163.02 473.06 L163.52 474.34 L164.02 475.74 L164.52 477.26 L165.02 478.89 L165.52 480.62 L166.02 482.45 L166.52 484.37 L167.02 486.38 L167.52 488.47 L168.02 490.64 L168.52 492.88 L169.02 495.18 L169.52 497.52 L170.02 499.91 L170.52 502.31 L171.02 504.73 L171.52 507.14 L172.02 509.56 L172.52 511.97 L173.02 514.36 L173.52 516.74 L174.02 519.1 L174.52 521.43 L175.02 523.73 L175.52 525.98 L176.02 528.19 L176.52 530.35 L177.02 532.45 L177.52 534.51 L178.02 536.51 L178.52 538.44 L179.02 540.31 L179.52 542.1 L180.02 543.8 L180.52 545.42 L181.02 546.95 L181.52 548.4 L182.02 549.76 L182.52 551.05 L183.02 552.27 L183.52 553.43 L184.02 554.52 L184.52 555.57 L185.02 556.56 L185.52 557.49 L186.02 558.38 L186.52 559.21 L187.02 559.99 L187.52 560.73 L188.02 561.43 L188.52 562.09 L189.02 562.71 L189.52 563.31 L190.02 563.89 L190.52 564.44 L191.02 564.97 L191.52 565.49 L192.02 565.98 L192.52 566.45 L193.02 566.9 L193.52 567.33 L194.02 567.73 L194.52 568.12 L195.02 568.48 L195.52 568.82 L196.02 569.14 L196.52 569.44 L197.02 569.71 L197.52 569.97 L198.02 570.22 L198.52 570.45 L199.02 570.68 L199.52 570.89 L200.02 571.09 L200.52 571.29 L201.02 571.48 L201.52 571.67 L202.02 571.85 L202.52 572.02 L203.02 572.18 L203.52 572.34 L204.02 572.5 L204.52 572.64 L205.02 572.78 L205.52 572.92 L206.02 573.04 L206.52 573.16 L207.02 573.27 L207.52 573.38 L208.02 573.48 L208.52 573.57 L209.02 573.66 L209.52 573.74 L210.02 573.81 L210.52 573.88 L211.02 573.95 L211.52 574.01 L212.02 574.07 L212.52 574.13 L213.02 574.19 L213.52 574.24 L214.02 574.3 L214.52 574.35 L215.02 574.4 L215.52 574.45 L216.02 574.5 L216.52 574.54 L217.02 574.59 L217.52 574.63 L218.02 574.68 L218.52 574.72 L219.02 574.76 L219.52 574.8 L220.02 574.84 L220.52 574.87 L221.02 574.91 L221.52 574.94 L222.02 574.97 L222.52 575.01 L223.02 575.04 L223.52 575.06 L224.02 575.09 L224.52 575.12 L225.02 575.14 L225.52 575.17 L226.02 575.19 L226.52 575.21 L227.02 575.23 L227.52 575.25 L228.02 575.27 L228.52 575.29 L229.02 575.3 L229.52 575.32 L230.02 575.33 L230.52 575.34 L231.02 575.36 L231.52 575.37 L232.02 575.38 L232.52 575.39 L233.02 575.4 L233.52 575.41 L234.02 575.42 L234.52 575.43 L235.02 575.44 L235.52 575.45 L236.02 575.46 L236.52 575.46 L237.02 575.47 L237.52 575.47 L238.02 575.47 L238.52 575.48" fill="none" stroke="#6fb5e1" stroke-width="1.35" stroke-linejoin="round" stroke-linecap="round" />
<path d="M89.02 576.12 L89.52 576.12 L90.02 576.12 L90.52 576.12 L91.02 576.12 L91.52 576.12 L92.02 576.12 L92.52 576.12 L93.02 576.12 L93.52 576.12 L94.02 576.12 L94.52 576.12 L95.02 576.12 L95.52 576.12 L96.02 576.12 L96.52 576.12 L97.02 576.12 L97.52 576.12 L98.02 576.12 L98.52 576.12 L99.02 576.12 L99.52 576.12 L100.02 576.12 L100.52 576.12 L101.02 576.12 L101.52 576.12 L102.02 576.12 L102.52 576.12 L103.02 576.12 L103.52 576.12 L104.02 576.12 L104.52 576.12 L105.02 576.12 L105.52 576.12 L106.02 576.12 L106.52 576.12 L107.02 576.12 L107.52 576.12 L108.02 576.12 L108.52 576.12 L109.02 576.12 L109.52 576.12 L110.02 576.12 L110.52 576.12 L111.02 576.11 L111.52 576.1 L112.02 576.09 L112.52 576.07 L113.02 576.04 L113.52 576 L114.02 575.95 L114.52 575.89 L115.02 575.82 L115.52 575.75 L116.02 575.67 L116.52 575.58 L117.02 575.49 L117.52 575.4 L118.02 575.31 L118.52 575.21 L119.02 575.11 L119.52 575 L120.02 574.89 L120.52 574.77 L121.02 574.65 L121.52 574.52 L122.02 574.38 L122.52 574.24 L123.02 574.08 L123.52 573.92 L124.02 573.75 L124.52 573.57 L125.02 573.37 L125.52 573.16 L126.02 572.94 L126.52 572.69 L127.02 572.43 L127.52 572.15 L128.02 571.85 L128.52 571.53 L129.02 571.19 L129.52 570.83 L130.02 570.46 L130.52 570.07 L131.02 569.65 L131.52 569.22 L132.02 568.77 L132.52 568.3 L133.02 567.79 L133.52 567.26 L134.02 566.7 L134.52 566.1 L135.02 565.46 L135.52 564.79 L136.02 564.08 L136.52 563.33 L137.02 562.55 L137.52 561.73 L138.02 560.88 L138.52 560 L139.02 559.08 L139.52 558.13 L140.02 557.13 L140.52 556.1 L141.02 555.02 L141.52 553.9 L142.02 552.73 L142.52 551.52 L143.02 550.26 L143.52 548.97 L144.02 547.64 L144.52 546.27 L145.02 544.86 L145.52 543.42 L146.02 541.94 L146.52 540.42 L147.02 538.85 L147.52 537.24 L148.02 535.59 L148.52 533.9 L149.02 532.17 L149.52 530.4 L150.02 528.61 L150.52 526.79 L151.02 524.94 L151.52 523.08 L152.02 521.19 L152.52 519.29 L153.02 517.36 L153.52 515.41 L154.02 513.44 L154.52 511.45 L155.02 509.44 L155.52 507.42 L156.02 505.38 L156.52 503.33 L157.02 501.27 L157.52 499.2 L158.02 497.13 L158.52 495.05 L159.02 492.97 L159.52 490.9 L160.02 488.85 L160.52 486.83 L161.02 484.85 L161.52 482.92 L162.02 481.05 L162.52 479.24 L163.02 477.51 L163.52 475.87 L164.02 474.33 L164.52 472.91 L165.02 471.62 L165.52 470.47 L166.02 469.49 L166.52 468.68 L167.02 468.08 L167.52 467.69 L168.02 467.53 L168.52 467.6 L169.02 467.9 L169.52 468.42 L170.02 469.14 L170.52 470.05 L171.02 471.13 L171.52 472.36 L172.02 473.73 L172.52 475.24 L173.02 476.86 L173.52 478.59 L174.02 480.41 L174.52 482.3 L175.02 484.26 L175.52 486.28 L176.02 488.35 L176.52 490.47 L177.02 492.64 L177.52 494.84 L178.02 497.08 L178.52 499.35 L179.02 501.64 L179.52 503.95 L180.02 506.27 L180.52 508.62 L181.02 510.97 L181.52 513.32 L182.02 515.67 L182.52 518 L183.02 520.3 L183.52 522.57 L184.02 524.78 L184.52 526.95 L185.02 529.05 L185.52 531.1 L186.02 533.09 L186.52 535.03 L187.02 536.89 L187.52 538.7 L188.02 540.43 L188.52 542.09 L189.02 543.67 L189.52 545.18 L190.02 546.62 L190.52 547.99 L191.02 549.29 L191.52 550.53 L192.02 551.71 L192.52 552.84 L193.02 553.91 L193.52 554.92 L194.02 555.89 L194.52 556.82 L195.02 557.7 L195.52 558.55 L196.02 559.36 L196.52 560.13 L197.02 560.88 L197.52 561.59 L198.02 562.26 L198.52 562.89 L199.02 563.49 L199.52 564.05 L200.02 564.57 L200.52 565.06 L201.02 565.52 L201.52 565.95 L202.02 566.35 L202.52 566.74 L203.02 567.1 L203.52 567.45 L204.02 567.79 L204.52 568.11 L205.02 568.41 L205.52 568.71 L206.02 568.99 L206.52 569.26 L207.02 569.52 L207.52 569.76 L208.02 570 L208.52 570.22 L209.02 570.44 L209.52 570.64 L210.02 570.84 L210.52 571.03 L211.02 571.21 L211.52 571.38 L212.02 571.55 L212.52 571.72 L213.02 571.88 L213.52 572.03 L214.02 572.18 L214.52 572.33 L215.02 572.47 L215.52 572.61 L216.02 572.74 L216.52 572.86 L217.02 572.99 L217.52 573.1 L218.02 573.21 L218.52 573.32 L219.02 573.42 L219.52 573.52 L220.02 573.61 L220.52 573.69 L221.02 573.78 L221.52 573.86 L222.02 573.93 L222.52 574.01 L223.02 574.08 L223.52 574.15 L224.02 574.22 L224.52 574.28 L225.02 574.35 L225.52 574.42 L226.02 574.48 L226.52 574.55 L227.02 574.61 L227.52 574.67 L228.02 574.73 L228.52 574.79 L229.02 574.84 L229.52 574.9 L230.02 574.95 L230.52 575 L231.02 575.05 L231.52 575.1 L232.02 575.14 L232.52 575.19 L233.02 575.23 L233.52 575.26 L234.02 575.3 L234.52 575.33 L235.02 575.36 L235.52 575.38 L236.02 575.4 L236.52 575.42 L237.02 575.44 L237.52 575.45 L238.02 575.46 L238.52 575.47" fill="none" stroke="#f6aba2" stroke-width="1.35" stroke-linejoin="round" stroke-linecap="round" />
<path d="M89.02 576.12 L89.52 576.12 L90.02 576.12 L90.52 576.12 L91.02 576.12 L91.52 576.12 L92.02 576.12 L92.52 576.12 L93.02 576.12 L93.52 576.12 L94.02 576.12 L94.52 576.12 L95.02 576.12 L95.52 576.12 L96.02 576.12 L96.52 576.12 L97.02 576.12 L97.52 576.12 L98.02 576.12 L98.52 576.12 L99.02 576.12 L99.52 576.12 L100.02 576.12 L100.52 576.12 L101.02 576.12 L101.52 576.12 L102.02 576.12 L102.52 576.12 L103.02 576.12 L103.52 576.12 L104.02 576.12 L104.52 576.12 L105.02 576.12 L105.52 576.12 L106.02 576.12 L106.52 576.12 L107.02 576.12 L107.52 576.12 L108.02 576.12 L108.52 576.12 L109.02 576.12 L109.52 576.12 L110.02 576.12 L110.52 576.12 L111.02 576.12 L111.52 576.12 L112.02 576.12 L112.52 576.12 L113.02 576.12 L113.52 576.12 L114.02 576.12 L114.52 576.12 L115.02 576.12 L115.52 576.12 L116.02 576.12 L116.52 576.12 L117.02 576.12 L117.52 576.12 L118.02 576.12 L118.52 576.12 L119.02 576.12 L119.52 576.12 L120.02 576.12 L120.52 576.12 L121.02 576.12 L121.52 576.12 L122.02 576.12 L122.52 576.12 L123.02 576.12 L123.52 576.12 L124.02 576.12 L124.52 576.12 L125.02 576.12 L125.52 576.12 L126.02 576.12 L126.52 576.12 L127.02 576.12 L127.52 576.12 L128.02 576.12 L128.52 576.12 L129.02 576.12 L129.52 576.12 L130.02 576.12 L130.52 576.12 L131.02 576.11 L131.52 576.1 L132.02 576.09 L132.52 576.07 L133.02 576.04 L133.52 576.01 L134.02 575.97 L134.52 575.92 L135.02 575.87 L135.52 575.81 L136.02 575.75 L136.52 575.68 L137.02 575.61 L137.52 575.53 L138.02 575.44 L138.52 575.34 L139.02 575.24 L139.52 575.12 L140.02 574.99 L140.52 574.85 L141.02 574.7 L141.52 574.54 L142.02 574.36 L142.52 574.16 L143.02 573.96 L143.52 573.73 L144.02 573.49 L144.52 573.22 L145.02 572.92 L145.52 572.6 L146.02 572.25 L146.52 571.87 L147.02 571.45 L147.52 571 L148.02 570.52 L148.52 569.99 L149.02 569.43 L149.52 568.83 L150.02 568.17 L150.52 567.47 L151.02 566.73 L151.52 565.93 L152.02 565.08 L152.52 564.19 L153.02 563.24 L153.52 562.25 L154.02 561.21 L154.52 560.11 L155.02 558.96 L155.52 557.76 L156.02 556.5 L156.52 555.19 L157.02 553.82 L157.52 552.4 L158.02 550.93 L158.52 549.41 L159.02 547.83 L159.52 546.21 L160.02 544.53 L160.52 542.79 L161.02 541.01 L161.52 539.18 L162.02 537.3 L162.52 535.38 L163.02 533.42 L163.52 531.42 L164.02 529.38 L164.52 527.31 L165.02 525.2 L165.52 523.07 L166.02 520.91 L166.52 518.75 L167.02 516.58 L167.52 514.42 L168.02 512.27 L168.52 510.14 L169.02 508.03 L169.52 505.95 L170.02 503.88 L170.52 501.84 L171.02 499.82 L171.52 497.82 L172.02 495.85 L172.52 493.91 L173.02 492 L173.52 490.11 L174.02 488.25 L174.52 486.43 L175.02 484.66 L175.52 482.93 L176.02 481.25 L176.52 479.64 L177.02 478.1 L177.52 476.63 L178.02 475.25 L178.52 473.96 L179.02 472.76 L179.52 471.66 L180.02 470.68 L180.52 469.82 L181.02 469.09 L181.52 468.49 L182.02 468.03 L182.52 467.72 L183.02 467.55 L183.52 467.53 L184.02 467.65 L184.52 467.89 L185.02 468.26 L185.52 468.73 L186.02 469.31 L186.52 469.99 L187.02 470.77 L187.52 471.65 L188.02 472.62 L188.52 473.68 L189.02 474.82 L189.52 476.04 L190.02 477.34 L190.52 478.71 L191.02 480.14 L191.52 481.65 L192.02 483.21 L192.52 484.83 L193.02 486.49 L193.52 488.2 L194.02 489.93 L194.52 491.68 L195.02 493.46 L195.52 495.26 L196.02 497.08 L196.52 498.91 L197.02 500.75 L197.52 502.6 L198.02 504.46 L198.52 506.31 L199.02 508.17 L199.52 510.03 L200.02 511.88 L200.52 513.73 L201.02 515.57 L201.52 517.41 L202.02 519.24 L202.52 521.06 L203.02 522.86 L203.52 524.65 L204.02 526.42 L204.52 528.17 L205.02 529.91 L205.52 531.62 L206.02 533.31 L206.52 534.98 L207.02 536.62 L207.52 538.23 L208.02 539.8 L208.52 541.33 L209.02 542.84 L209.52 544.3 L210.02 545.73 L210.52 547.13 L211.02 548.49 L211.52 549.81 L212.02 551.1 L212.52 552.36 L213.02 553.58 L213.52 554.77 L214.02 555.92 L214.52 557.05 L215.02 558.14 L215.52 559.19 L216.02 560.2 L216.52 561.18 L217.02 562.11 L217.52 562.99 L218.02 563.83 L218.52 564.62 L219.02 565.38 L219.52 566.1 L220.02 566.78 L220.52 567.44 L221.02 568.06 L221.52 568.65 L222.02 569.2 L222.52 569.72 L223.02 570.21 L223.52 570.66 L224.02 571.07 L224.52 571.45 L225.02 571.8 L225.52 572.13 L226.02 572.42 L226.52 572.7 L227.02 572.95 L227.52 573.19 L228.02 573.41 L228.52 573.62 L229.02 573.81 L229.52 573.98 L230.02 574.14 L230.52 574.29 L231.02 574.43 L231.52 574.55 L232.02 574.67 L232.52 574.78 L233.02 574.89 L233.52 574.99 L234.02 575.08 L234.52 575.17 L235.02 575.25 L235.52 575.33 L236.02 575.39 L236.52 575.45 L237.02 575.5 L237.52 575.54 L238.02 575.57 L238.52 575.6" fill="none" stroke="#1a4c97" stroke-width="1.35" stroke-linejoin="round" stroke-linecap="round" />
<path d="M89.02 576.12 L89.52 576.12 L90.02 576.12 L90.52 576.12 L91.02 576.12 L91.52 576.12 L92.02 576.12 L92.52 576.12 L93.02 576.12 L93.52 576.12 L94.02 576.12 L94.52 576.12 L95.02 576.12 L95.52 576.12 L96.02 576.12 L96.52 576.12 L97.02 576.12 L97.52 576.12 L98.02 576.12 L98.52 576.12 L99.02 576.12 L99.52 576.12 L100.02 576.12 L100.52 576.12 L101.02 576.12 L101.52 576.12 L102.02 576.12 L102.52 576.12 L103.02 576.12 L103.52 576.12 L104.02 576.12 L104.52 576.12 L105.02 576.12 L105.52 576.12 L106.02 576.12 L106.52 576.12 L107.02 576.12 L107.52 576.12 L108.02 576.12 L108.52 576.12 L109.02 576.12 L109.52 576.12 L110.02 576.12 L110.52 576.12 L111.02 576.12 L111.52 576.12 L112.02 576.12 L112.52 576.12 L113.02 576.12 L113.52 576.12 L114.02 576.12 L114.52 576.12 L115.02 576.12 L115.52 576.12 L116.02 576.12 L116.52 576.12 L117.02 576.12 L117.52 576.12 L118.02 576.12 L118.52 576.12 L119.02 576.12 L119.52 576.12 L120.02 576.12 L120.52 576.12 L121.02 576.12 L121.52 576.12 L122.02 576.12 L122.52 576.12 L123.02 576.12 L123.52 576.12 L124.02 576.12 L124.52 576.12 L125.02 576.12 L125.52 576.12 L126.02 576.12 L126.52 576.12 L127.02 576.12 L127.52 576.12 L128.02 576.12 L128.52 576.12 L129.02 576.12 L129.52 576.12 L130.02 576.12 L130.52 576.12 L131.02 576.12 L131.52 576.12 L132.02 576.12 L132.52 576.12 L133.02 576.12 L133.52 576.12 L134.02 576.12 L134.52 576.12 L135.02 576.12 L135.52 576.12 L136.02 576.12 L136.52 576.12 L137.02 576.12 L137.52 576.12 L138.02 576.12 L138.52 576.12 L139.02 576.12 L139.52 576.12 L140.02 576.12 L140.52 576.12 L141.02 576.12 L141.52 576.12 L142.02 576.12 L142.52 576.12 L143.02 576.12 L143.52 576.12 L144.02 576.12 L144.52 576.12 L145.02 576.12 L145.52 576.12 L146.02 576.12 L146.52 576.12 L147.02 576.12 L147.52 576.12 L148.02 576.12 L148.52 576.12 L149.02 576.12 L149.52 576.12 L150.02 576.12 L150.52 576.12 L151.02 576.12 L151.52 576.12 L152.02 576.12 L152.52 576.12 L153.02 576.12 L153.52 576.12 L154.02 576.12 L154.52 576.12 L155.02 576.12 L155.52 576.12 L156.02 576.12 L156.52 576.12 L157.02 576.12 L157.52 576.11 L158.02 576.1 L158.52 576.08 L159.02 576.05 L159.52 576.01 L160.02 575.95 L160.52 575.88 L161.02 575.79 L161.52 575.68 L162.02 575.54 L162.52 575.37 L163.02 575.16 L163.52 574.91 L164.02 574.6 L164.52 574.21 L165.02 573.75 L165.52 573.17 L166.02 572.49 L166.52 571.67 L167.02 570.72 L167.52 569.63 L168.02 568.38 L168.52 566.99 L169.02 565.43 L169.52 563.72 L170.02 561.86 L170.52 559.85 L171.02 557.71 L171.52 555.43 L172.02 553.03 L172.52 550.52 L173.02 547.92 L173.52 545.22 L174.02 542.45 L174.52 539.62 L175.02 536.74 L175.52 533.82 L176.02 530.87 L176.52 527.91 L177.02 524.96 L177.52 522.01 L178.02 519.09 L178.52 516.21 L179.02 513.37 L179.52 510.57 L180.02 507.83 L180.52 505.16 L181.02 502.55 L181.52 500.01 L182.02 497.55 L182.52 495.18 L183.02 492.89 L183.52 490.7 L184.02 488.6 L184.52 486.6 L185.02 484.7 L185.52 482.9 L186.02 481.2 L186.52 479.6 L187.02 478.1 L187.52 476.7 L188.02 475.4 L188.52 474.21 L189.02 473.13 L189.52 472.14 L190.02 471.24 L190.52 470.44 L191.02 469.73 L191.52 469.11 L192.02 468.58 L192.52 468.16 L193.02 467.84 L193.52 467.63 L194.02 467.53 L194.52 467.55 L195.02 467.68 L195.52 467.92 L196.02 468.26 L196.52 468.7 L197.02 469.23 L197.52 469.84 L198.02 470.54 L198.52 471.32 L199.02 472.17 L199.52 473.08 L200.02 474.04 L200.52 475.06 L201.02 476.13 L201.52 477.24 L202.02 478.4 L202.52 479.61 L203.02 480.86 L203.52 482.15 L204.02 483.49 L204.52 484.87 L205.02 486.29 L205.52 487.75 L206.02 489.25 L206.52 490.8 L207.02 492.39 L207.52 494.01 L208.02 495.67 L208.52 497.36 L209.02 499.08 L209.52 500.82 L210.02 502.57 L210.52 504.35 L211.02 506.13 L211.52 507.94 L212.02 509.75 L212.52 511.58 L213.02 513.41 L213.52 515.26 L214.02 517.11 L214.52 518.96 L215.02 520.82 L215.52 522.68 L216.02 524.54 L216.52 526.4 L217.02 528.25 L217.52 530.09 L218.02 531.91 L218.52 533.71 L219.02 535.48 L219.52 537.21 L220.02 538.91 L220.52 540.57 L221.02 542.2 L221.52 543.79 L222.02 545.34 L222.52 546.85 L223.02 548.32 L223.52 549.74 L224.02 551.13 L224.52 552.47 L225.02 553.77 L225.52 555.03 L226.02 556.24 L226.52 557.41 L227.02 558.54 L227.52 559.61 L228.02 560.63 L228.52 561.6 L229.02 562.51 L229.52 563.36 L230.02 564.15 L230.52 564.9 L231.02 565.59 L231.52 566.24 L232.02 566.85 L232.52 567.42 L233.02 567.95 L233.52 568.44 L234.02 568.89 L234.52 569.32 L235.02 569.71 L235.52 570.07 L236.02 570.4 L236.52 570.71 L237.02 570.98 L237.52 571.21 L238.02 571.41 L238.52 571.57" fill="none" stroke="#1e9b49" stroke-width="1.35" stroke-linejoin="round" stroke-linecap="round" />
<text x="72.2" y="469" font-size="11.9" font-weight="normal" font-style="normal" fill="#231815" text-anchor="start" textLength="72" lengthAdjust="spacingAndGlyphs" >DHF/DMDOP</text>
<text x="80.2" y="484" font-size="11.8" font-weight="bold" font-style="normal" fill="#27993f" text-anchor="start" textLength="50.4" lengthAdjust="spacingAndGlyphs" >34% / 5%</text>
<text x="80.2" y="498.3" font-size="11.8" font-weight="bold" font-style="normal" fill="#1c4e98" text-anchor="start" textLength="56.6" lengthAdjust="spacingAndGlyphs" >55% / 11%</text>
<text x="80.2" y="512.9" font-size="11.8" font-weight="bold" font-style="normal" fill="#f5aaa2" text-anchor="start" textLength="56.6" lengthAdjust="spacingAndGlyphs" >77% / 21%</text>
<text x="80.2" y="527.2" font-size="11.8" font-weight="bold" font-style="normal" fill="#70b4df" text-anchor="start" textLength="56.6" lengthAdjust="spacingAndGlyphs" >95% / 30%</text>
</g>
<g id="panel-d">
<text x="502.2" y="415" font-size="19.2" font-weight="bold" font-style="normal" fill="#000000" text-anchor="start" >d</text>
<text x="508.4" y="439.2" font-size="15.5" fill="#231815" textLength="150" lengthAdjust="spacingAndGlyphs">DHF/DMDOP/ICCl/<tspan font-weight="bold">1a</tspan></text>
<line x1="506.8" y1="455.4" x2="537" y2="455.4" stroke="#3a4da4" stroke-width="2.4" stroke-linecap="butt"/>
<line x1="506.8" y1="476.8" x2="537" y2="476.8" stroke="#c6d291" stroke-width="2.4" stroke-linecap="butt"/>
<line x1="506.8" y1="498.4" x2="537" y2="498.4" stroke="#7fa8d2" stroke-width="2.4" stroke-linecap="butt"/>
<text x="541.8" y="460" font-size="15.3" font-weight="bold" font-style="normal" fill="#231815" text-anchor="start" textLength="80.4" lengthAdjust="spacingAndGlyphs" >100/100/1/1</text>
<text x="541.8" y="481.3" font-size="15.3" font-weight="bold" font-style="normal" fill="#231815" text-anchor="start" textLength="170.8" lengthAdjust="spacingAndGlyphs" >(100+100)/(100+100)/1/1</text>
<text x="541.8" y="502.6" font-size="15.3" font-weight="bold" font-style="normal" fill="#231815" text-anchor="start" textLength="80.4" lengthAdjust="spacingAndGlyphs" >200/200/1/1</text>
<line x1="540.5" y1="745.1" x2="916.9" y2="745.1" stroke="#000000" stroke-width="1.4" stroke-linecap="butt"/>
<line x1="563.7" y1="745.1" x2="563.7" y2="749.9" stroke="#000000" stroke-width="1.3" stroke-linecap="butt"/>
<text x="563.1" y="767.5" font-size="16" font-weight="bold" font-style="normal" fill="#000000" text-anchor="middle" textLength="17.4" lengthAdjust="spacingAndGlyphs" >11</text>
<line x1="607.78" y1="745.1" x2="607.78" y2="749.9" stroke="#000000" stroke-width="1.3" stroke-linecap="butt"/>
<text x="607.18" y="767.5" font-size="16" font-weight="bold" font-style="normal" fill="#000000" text-anchor="middle" textLength="17.4" lengthAdjust="spacingAndGlyphs" >12</text>
<line x1="651.86" y1="745.1" x2="651.86" y2="749.9" stroke="#000000" stroke-width="1.3" stroke-linecap="butt"/>
<text x="651.26" y="767.5" font-size="16" font-weight="bold" font-style="normal" fill="#000000" text-anchor="middle" textLength="17.4" lengthAdjust="spacingAndGlyphs" >13</text>
<line x1="695.94" y1="745.1" x2="695.94" y2="749.9" stroke="#000000" stroke-width="1.3" stroke-linecap="butt"/>
<text x="695.34" y="767.5" font-size="16" font-weight="bold" font-style="normal" fill="#000000" text-anchor="middle" textLength="17.4" lengthAdjust="spacingAndGlyphs" >14</text>
<line x1="740.02" y1="745.1" x2="740.02" y2="749.9" stroke="#000000" stroke-width="1.3" stroke-linecap="butt"/>
<text x="739.42" y="767.5" font-size="16" font-weight="bold" font-style="normal" fill="#000000" text-anchor="middle" textLength="17.4" lengthAdjust="spacingAndGlyphs" >15</text>
<line x1="784.1" y1="745.1" x2="784.1" y2="749.9" stroke="#000000" stroke-width="1.3" stroke-linecap="butt"/>
<text x="783.5" y="767.5" font-size="16" font-weight="bold" font-style="normal" fill="#000000" text-anchor="middle" textLength="17.4" lengthAdjust="spacingAndGlyphs" >16</text>
<line x1="828.18" y1="745.1" x2="828.18" y2="749.9" stroke="#000000" stroke-width="1.3" stroke-linecap="butt"/>
<text x="827.58" y="767.5" font-size="16" font-weight="bold" font-style="normal" fill="#000000" text-anchor="middle" textLength="17.4" lengthAdjust="spacingAndGlyphs" >17</text>
<line x1="872.26" y1="745.1" x2="872.26" y2="749.9" stroke="#000000" stroke-width="1.3" stroke-linecap="butt"/>
<text x="871.66" y="767.5" font-size="16" font-weight="bold" font-style="normal" fill="#000000" text-anchor="middle" textLength="17.4" lengthAdjust="spacingAndGlyphs" >18</text>
<line x1="916.34" y1="745.1" x2="916.34" y2="749.9" stroke="#000000" stroke-width="1.3" stroke-linecap="butt"/>
<text x="915.74" y="767.5" font-size="16" font-weight="bold" font-style="normal" fill="#000000" text-anchor="middle" textLength="17.4" lengthAdjust="spacingAndGlyphs" >19</text>
<text x="735.4" y="786.6" font-size="17" font-weight="bold" font-style="normal" fill="#000000" text-anchor="middle" textLength="147.6" lengthAdjust="spacingAndGlyphs" >Elution Time (min)</text>
<path d="M556 731.53 L557 731.5 L558 731.47 L559 731.44 L560 731.41 L561 731.39 L562 731.36 L563 731.32 L564 731.29 L565 731.26 L566 731.22 L567 731.18 L568 731.14 L569 731.09 L570 731.05 L571 730.99 L572 730.93 L573 730.87 L574 730.8 L575 730.72 L576 730.64 L577 730.55 L578 730.45 L579 730.35 L580 730.24 L581 730.12 L582 729.99 L583 729.85 L584 729.71 L585 729.56 L586 729.39 L587 729.22 L588 729.04 L589 728.84 L590 728.64 L591 728.43 L592 728.2 L593 727.97 L594 727.72 L595 727.46 L596 727.19 L597 726.91 L598 726.61 L599 726.3 L600 725.98 L601 725.64 L602 725.29 L603 724.93 L604 724.54 L605 724.15 L606 723.73 L607 723.3 L608 722.85 L609 722.37 L610 721.88 L611 721.37 L612 720.83 L613 720.26 L614 719.67 L615 719.05 L616 718.4 L617 717.72 L618 717.01 L619 716.26 L620 715.48 L621 714.66 L622 713.8 L623 712.9 L624 711.95 L625 710.97 L626 709.93 L627 708.86 L628 707.73 L629 706.56 L630 705.34 L631 704.07 L632 702.75 L633 701.38 L634 699.96 L635 698.49 L636 696.97 L637 695.4 L638 693.78 L639 692.11 L640 690.4 L641 688.64 L642 686.83 L643 684.98 L644 683.08 L645 681.14 L646 679.16 L647 677.15 L648 675.09 L649 673 L650 670.87 L651 668.72 L652 666.53 L653 664.32 L654 662.08 L655 659.82 L656 657.54 L657 655.25 L658 652.95 L659 650.64 L660 648.33 L661 646.02 L662 643.71 L663 641.4 L664 639.1 L665 636.81 L666 634.53 L667 632.25 L668 629.99 L669 627.73 L670 625.48 L671 623.24 L672 620.99 L673 618.73 L674 616.47 L675 614.2 L676 611.91 L677 609.6 L678 607.26 L679 604.9 L680 602.5 L681 600.08 L682 597.62 L683 595.12 L684 592.59 L685 590.03 L686 587.44 L687 584.81 L688 582.16 L689 579.48 L690 576.77 L691 574.05 L692 571.3 L693 568.54 L694 565.76 L695 562.98 L696 560.18 L697 557.37 L698 554.56 L699 551.75 L700 548.93 L701 546.11 L702 543.29 L703 540.48 L704 537.66 L705 534.85 L706 532.04 L707 529.24 L708 526.45 L709 523.67 L710 520.9 L711 518.15 L712 515.41 L713 512.69 L714 510 L715 507.34 L716 504.7 L717 502.1 L718 499.54 L719 497.02 L720 494.54 L721 492.11 L722 489.73 L723 487.41 L724 485.14 L725 482.94 L726 480.81 L727 478.74 L728 476.75 L729 474.83 L730 473 L731 471.25 L732 469.59 L733 468.01 L734 466.53 L735 465.15 L736 463.87 L737 462.68 L738 461.61 L739 460.64 L740 459.79 L741 459.04 L742 458.42 L743 457.91 L744 457.54 L745 457.29 L746 457.2 L747 457.37 L748 457.8 L749 458.48 L750 459.41 L751 460.58 L752 461.98 L753 463.6 L754 465.44 L755 467.49 L756 469.74 L757 472.18 L758 474.8 L759 477.6 L760 480.57 L761 483.7 L762 486.99 L763 490.42 L764 493.99 L765 497.7 L766 501.53 L767 505.48 L768 509.55 L769 513.72 L770 517.99 L771 522.35 L772 526.8 L773 531.32 L774 535.91 L775 540.57 L776 545.27 L777 550.02 L778 554.81 L779 559.62 L780 564.44 L781 569.28 L782 574.11 L783 578.93 L784 583.74 L785 588.51 L786 593.25 L787 597.95 L788 602.59 L789 607.17 L790 611.69 L791 616.13 L792 620.49 L793 624.77 L794 628.96 L795 633.05 L796 637.04 L797 640.92 L798 644.7 L799 648.37 L800 651.93 L801 655.37 L802 658.69 L803 661.9 L804 664.99 L805 667.96 L806 670.82 L807 673.57 L808 676.2 L809 678.73 L810 681.16 L811 683.48 L812 685.7 L813 687.83 L814 689.86 L815 691.81 L816 693.67 L817 695.45 L818 697.16 L819 698.78 L820 700.34 L821 701.82 L822 703.23 L823 704.58 L824 705.86 L825 707.08 L826 708.24 L827 709.34 L828 710.38 L829 711.37 L830 712.3 L831 713.19 L832 714.02 L833 714.8 L834 715.54 L835 716.24 L836 716.89 L837 717.5 L838 718.08 L839 718.62 L840 719.12 L841 719.6 L842 720.04 L843 720.46 L844 720.85 L845 721.22 L846 721.56 L847 721.89 L848 722.19 L849 722.48 L850 722.75 L851 723.01 L852 723.25 L853 723.48 L854 723.7 L855 723.9 L856 724.1 L857 724.28 L858 724.46 L859 724.63 L860 724.78 L861 724.94 L862 725.08 L863 725.21 L864 725.34 L865 725.47 L866 725.58 L867 725.69 L868 725.8 L869 725.89 L870 725.99 L871 726.08 L872 726.16 L873 726.24 L874 726.31 L875 726.38 L876 726.45 L877 726.51 L878 726.57 L879 726.62 L880 726.67 L881 726.72 L882 726.77 L883 726.81 L884 726.85 L885 726.88 L886 726.92 L887 726.95 L888 726.98 L889 727.01 L890 727.03 L891 727.06 L892 727.08 L893 727.1 L894 727.12 L895 727.14 L896 727.15 L897 727.17 L898 727.18 L899 727.2 L900 727.21 L901 727.22 L902 727.23 L903 727.24 L904 727.25 L905 727.25 L906 727.26 L907 727.27 L908 727.27 L909 727.28 L910 727.28" fill="none" stroke="#c6d291" stroke-width="2.8" stroke-linejoin="round" stroke-linecap="round" />
<path d="M556 731.4 L557 731.38 L558 731.37 L559 731.36 L560 731.36 L561 731.35 L562 731.35 L563 731.35 L564 731.35 L565 731.36 L566 731.37 L567 731.37 L568 731.39 L569 731.4 L570 731.41 L571 731.42 L572 731.44 L573 731.45 L574 731.47 L575 731.48 L576 731.49 L577 731.5 L578 731.51 L579 731.52 L580 731.53 L581 731.53 L582 731.53 L583 731.53 L584 731.53 L585 731.52 L586 731.51 L587 731.49 L588 731.47 L589 731.44 L590 731.41 L591 731.37 L592 731.32 L593 731.26 L594 731.2 L595 731.12 L596 731.03 L597 730.93 L598 730.81 L599 730.68 L600 730.52 L601 730.34 L602 730.14 L603 729.92 L604 729.67 L605 729.38 L606 729.07 L607 728.73 L608 728.35 L609 727.93 L610 727.47 L611 726.97 L612 726.44 L613 725.86 L614 725.23 L615 724.56 L616 723.84 L617 723.07 L618 722.26 L619 721.4 L620 720.48 L621 719.52 L622 718.5 L623 717.44 L624 716.32 L625 715.15 L626 713.92 L627 712.65 L628 711.32 L629 709.94 L630 708.51 L631 707.03 L632 705.5 L633 703.93 L634 702.3 L635 700.63 L636 698.9 L637 697.14 L638 695.33 L639 693.47 L640 691.57 L641 689.63 L642 687.65 L643 685.63 L644 683.56 L645 681.46 L646 679.33 L647 677.15 L648 674.94 L649 672.7 L650 670.43 L651 668.12 L652 665.79 L653 663.42 L654 661.03 L655 658.62 L656 656.19 L657 653.73 L658 651.25 L659 648.76 L660 646.24 L661 643.72 L662 641.18 L663 638.62 L664 636.06 L665 633.48 L666 630.9 L667 628.3 L668 625.7 L669 623.08 L670 620.46 L671 617.82 L672 615.18 L673 612.52 L674 609.85 L675 607.17 L676 604.48 L677 601.78 L678 599.06 L679 596.32 L680 593.58 L681 590.81 L682 588.04 L683 585.25 L684 582.45 L685 579.63 L686 576.81 L687 573.97 L688 571.12 L689 568.27 L690 565.4 L691 562.54 L692 559.66 L693 556.79 L694 553.91 L695 551.03 L696 548.16 L697 545.29 L698 542.42 L699 539.55 L700 536.7 L701 533.85 L702 531.02 L703 528.19 L704 525.38 L705 522.59 L706 519.81 L707 517.06 L708 514.32 L709 511.61 L710 508.92 L711 506.26 L712 503.62 L713 501.02 L714 498.46 L715 495.93 L716 493.45 L717 491.01 L718 488.62 L719 486.28 L720 484 L721 481.78 L722 479.63 L723 477.55 L724 475.55 L725 473.63 L726 471.79 L727 470.05 L728 468.4 L729 466.86 L730 465.42 L731 464.09 L732 462.87 L733 461.76 L734 460.78 L735 459.92 L736 459.17 L737 458.55 L738 458.04 L739 457.66 L740 457.39 L741 457.24 L742 457.2 L743 457.4 L744 457.85 L745 458.54 L746 459.48 L747 460.65 L748 462.04 L749 463.66 L750 465.48 L751 467.51 L752 469.73 L753 472.13 L754 474.71 L755 477.47 L756 480.38 L757 483.45 L758 486.67 L759 490.04 L760 493.54 L761 497.17 L762 500.93 L763 504.82 L764 508.82 L765 512.93 L766 517.14 L767 521.46 L768 525.87 L769 530.38 L770 534.97 L771 539.63 L772 544.37 L773 549.17 L774 554.02 L775 558.92 L776 563.85 L777 568.81 L778 573.78 L779 578.76 L780 583.73 L781 588.67 L782 593.59 L783 598.45 L784 603.26 L785 608.01 L786 612.67 L787 617.25 L788 621.72 L789 626.1 L790 630.36 L791 634.5 L792 638.53 L793 642.43 L794 646.21 L795 649.85 L796 653.38 L797 656.77 L798 660.05 L799 663.2 L800 666.23 L801 669.14 L802 671.94 L803 674.64 L804 677.22 L805 679.7 L806 682.08 L807 684.37 L808 686.56 L809 688.66 L810 690.67 L811 692.6 L812 694.45 L813 696.21 L814 697.9 L815 699.52 L816 701.06 L817 702.53 L818 703.93 L819 705.27 L820 706.54 L821 707.75 L822 708.9 L823 709.99 L824 711.03 L825 712.01 L826 712.94 L827 713.82 L828 714.65 L829 715.43 L830 716.17 L831 716.86 L832 717.51 L833 718.13 L834 718.7 L835 719.25 L836 719.75 L837 720.23 L838 720.68 L839 721.1 L840 721.49 L841 721.86 L842 722.21 L843 722.54 L844 722.84 L845 723.13 L846 723.4 L847 723.66 L848 723.89 L849 724.12 L850 724.33 L851 724.52 L852 724.71 L853 724.88 L854 725.04 L855 725.19 L856 725.34 L857 725.47 L858 725.59 L859 725.71 L860 725.82 L861 725.92 L862 726.01 L863 726.1 L864 726.18 L865 726.26 L866 726.33 L867 726.4 L868 726.46 L869 726.52 L870 726.57 L871 726.62 L872 726.66 L873 726.7 L874 726.74 L875 726.78 L876 726.81 L877 726.84 L878 726.86 L879 726.88 L880 726.9 L881 726.91 L882 726.92 L883 726.93 L884 726.93 L885 726.93 L886 726.92 L887 726.91 L888 726.9 L889 726.87 L890 726.85 L891 726.81 L892 726.77 L893 726.71 L894 726.65 L895 726.58 L896 726.5 L897 726.42 L898 726.32 L899 726.21 L900 726.1 L901 725.97 L902 725.85 L903 725.71 L904 725.57 L905 725.43 L906 725.28 L907 725.14 L908 725 L909 724.86 L910 724.73" fill="none" stroke="#7fa8d2" stroke-width="2.8" stroke-linejoin="round" stroke-linecap="round" />
<path d="M556 731.2 L557 731.2 L558 731.2 L559 731.2 L560 731.21 L561 731.21 L562 731.21 L563 731.21 L564 731.21 L565 731.21 L566 731.21 L567 731.21 L568 731.22 L569 731.22 L570 731.22 L571 731.22 L572 731.22 L573 731.22 L574 731.23 L575 731.23 L576 731.23 L577 731.23 L578 731.24 L579 731.24 L580 731.24 L581 731.25 L582 731.25 L583 731.25 L584 731.25 L585 731.26 L586 731.26 L587 731.26 L588 731.27 L589 731.27 L590 731.27 L591 731.28 L592 731.28 L593 731.28 L594 731.29 L595 731.29 L596 731.29 L597 731.29 L598 731.3 L599 731.3 L600 731.3 L601 731.3 L602 731.3 L603 731.3 L604 731.31 L605 731.31 L606 731.31 L607 731.31 L608 731.3 L609 731.3 L610 731.3 L611 731.3 L612 731.3 L613 731.29 L614 731.29 L615 731.29 L616 731.28 L617 731.28 L618 731.27 L619 731.26 L620 731.25 L621 731.25 L622 731.24 L623 731.23 L624 731.21 L625 731.2 L626 731.18 L627 731.17 L628 731.15 L629 731.13 L630 731.1 L631 731.07 L632 731.04 L633 731.01 L634 730.97 L635 730.93 L636 730.88 L637 730.83 L638 730.77 L639 730.7 L640 730.63 L641 730.56 L642 730.47 L643 730.38 L644 730.28 L645 730.17 L646 730.05 L647 729.92 L648 729.78 L649 729.63 L650 729.47 L651 729.3 L652 729.11 L653 728.91 L654 728.7 L655 728.47 L656 728.23 L657 727.97 L658 727.69 L659 727.4 L660 727.09 L661 726.75 L662 726.4 L663 726.03 L664 725.63 L665 725.22 L666 724.77 L667 724.3 L668 723.81 L669 723.29 L670 722.74 L671 722.15 L672 721.54 L673 720.89 L674 720.21 L675 719.49 L676 718.74 L677 717.94 L678 717.11 L679 716.23 L680 715.31 L681 714.35 L682 713.34 L683 712.28 L684 711.17 L685 710.01 L686 708.8 L687 707.53 L688 706.21 L689 704.84 L690 703.41 L691 701.92 L692 700.37 L693 698.77 L694 697.1 L695 695.38 L696 693.59 L697 691.75 L698 689.85 L699 687.89 L700 685.87 L701 683.79 L702 681.65 L703 679.46 L704 677.21 L705 674.91 L706 672.56 L707 670.15 L708 667.7 L709 665.19 L710 662.64 L711 660.03 L712 657.38 L713 654.69 L714 651.94 L715 649.15 L716 646.32 L717 643.44 L718 640.52 L719 637.55 L720 634.54 L721 631.48 L722 628.39 L723 625.24 L724 622.06 L725 618.84 L726 615.57 L727 612.27 L728 608.93 L729 605.56 L730 602.16 L731 598.72 L732 595.27 L733 591.78 L734 588.29 L735 584.77 L736 581.25 L737 577.72 L738 574.18 L739 570.65 L740 567.13 L741 563.61 L742 560.11 L743 556.63 L744 553.17 L745 549.74 L746 546.34 L747 542.97 L748 539.63 L749 536.33 L750 533.07 L751 529.85 L752 526.67 L753 523.54 L754 520.45 L755 517.41 L756 514.41 L757 511.47 L758 508.57 L759 505.72 L760 502.92 L761 500.17 L762 497.48 L763 494.84 L764 492.25 L765 489.73 L766 487.27 L767 484.87 L768 482.54 L769 480.29 L770 478.11 L771 476.01 L772 474 L773 472.08 L774 470.26 L775 468.54 L776 466.92 L777 465.41 L778 464.03 L779 462.76 L780 461.61 L781 460.6 L782 459.71 L783 458.96 L784 458.35 L785 457.86 L786 457.51 L787 457.3 L788 457.2 L789 457.22 L790 457.32 L791 457.52 L792 457.85 L793 458.32 L794 458.91 L795 459.65 L796 460.53 L797 461.56 L798 462.73 L799 464.05 L800 465.51 L801 467.11 L802 468.85 L803 470.73 L804 472.75 L805 474.89 L806 477.17 L807 479.58 L808 482.12 L809 484.78 L810 487.56 L811 490.47 L812 493.5 L813 496.65 L814 499.92 L815 503.31 L816 506.81 L817 510.44 L818 514.19 L819 518.05 L820 522.02 L821 526.11 L822 530.3 L823 534.6 L824 539 L825 543.49 L826 548.06 L827 552.71 L828 557.43 L829 562.21 L830 567.04 L831 571.91 L832 576.79 L833 581.69 L834 586.59 L835 591.48 L836 596.35 L837 601.17 L838 605.95 L839 610.67 L840 615.32 L841 619.89 L842 624.38 L843 628.78 L844 633.08 L845 637.27 L846 641.36 L847 645.34 L848 649.21 L849 652.97 L850 656.61 L851 660.14 L852 663.56 L853 666.87 L854 670.06 L855 673.15 L856 676.12 L857 678.99 L858 681.76 L859 684.42 L860 686.97 L861 689.43 L862 691.78 L863 694.04 L864 696.2 L865 698.26 L866 700.23 L867 702.1 L868 703.88 L869 705.58 L870 707.18 L871 708.7 L872 710.14 L873 711.5 L874 712.77 L875 713.97 L876 715.1 L877 716.15 L878 717.14 L879 718.06 L880 718.92 L881 719.72 L882 720.46 L883 721.15 L884 721.78 L885 722.37 L886 722.91 L887 723.41 L888 723.87 L889 724.29 L890 724.68 L891 725.03 L892 725.35 L893 725.64 L894 725.9 L895 726.14 L896 726.36 L897 726.55 L898 726.72 L899 726.88 L900 727.01 L901 727.13 L902 727.24 L903 727.33 L904 727.41 L905 727.47 L906 727.53 L907 727.58 L908 727.62 L909 727.66 L910 727.68" fill="none" stroke="#3a4da4" stroke-width="2.8" stroke-linejoin="round" stroke-linecap="round" />
</g>
</svg>
</body></html>
